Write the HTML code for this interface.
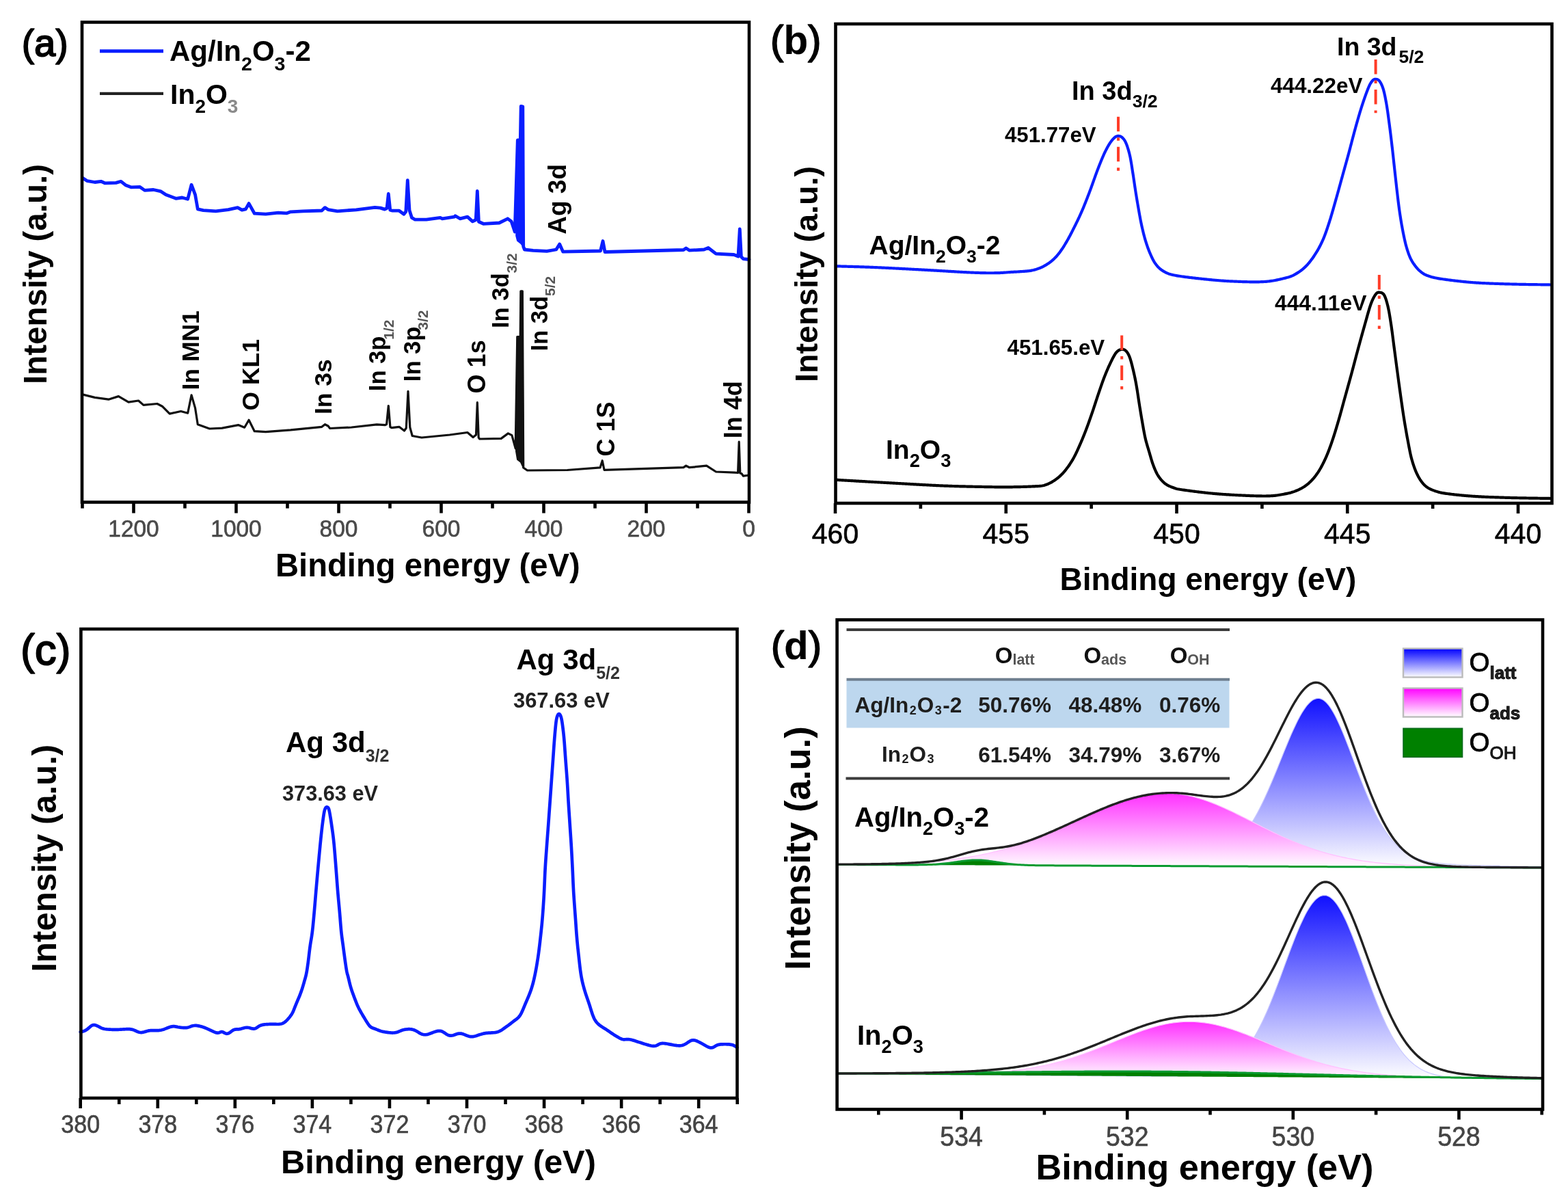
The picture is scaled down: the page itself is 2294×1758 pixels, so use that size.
<!DOCTYPE html>
<html><head><meta charset="utf-8"><title>XPS spectra</title>
<style>html,body{margin:0;padding:0;background:#fff;width:2294px;height:1758px;overflow:hidden}svg{display:block}</style>
</head><body>
<svg xmlns="http://www.w3.org/2000/svg" width="2294" height="1758" viewBox="0 0 2294 1758" font-family="'Liberation Sans', Arial, sans-serif">
<defs>
<linearGradient id="gB" x1="0" y1="0" x2="0" y2="1"><stop offset="0" stop-color="#1010ff"/><stop offset="1" stop-color="#ffffff"/></linearGradient>
<linearGradient id="gM" x1="0" y1="0" x2="0" y2="1"><stop offset="0" stop-color="#ff30ff"/><stop offset="1" stop-color="#ffffff"/></linearGradient>
<linearGradient id="gBL" x1="0" y1="0" x2="0" y2="1"><stop offset="0" stop-color="#0000ff"/><stop offset="1" stop-color="#ffffff"/></linearGradient>
<linearGradient id="gML" x1="0" y1="0" x2="0" y2="1"><stop offset="0" stop-color="#ff00ff"/><stop offset="1" stop-color="#ffffff"/></linearGradient>
</defs>
<rect width="2294" height="1758" fill="#fff"/>
<text x="31.8" y="82" font-size="55.5" fill="#000" stroke-linejoin="round"><tspan stroke="#000" stroke-width="1.7">(</tspan><tspan stroke="#000" stroke-width="2.1">a</tspan><tspan stroke="#000" stroke-width="1.7">)</tspan></text>
<path d="M120.5 260.1 L127.8 264.7 L138.7 266.5 L147.8 265.3 L153.3 267.8 L169.7 267.4 L177 265.3 L184.3 271.1 L191.6 273.8 L204.4 273.3 L211.7 278.4 L224.5 277.5 L235.4 279.9 L242.7 284.8 L257.3 290.3 L266.5 289 L274.7 291.2 L280.1 270.2 L285.6 284.8 L289.3 305.8 L297.5 307.6 L315.7 308.9 L334 306.7 L347.7 303.6 L354 307.2 L359.5 305.8 L364.1 297.6 L372.3 312.2 L388.7 313.1 L407 311.2 L419.7 311.8 L425.2 309.8 L443.5 308.9 L470.8 308 L475.4 303.6 L480 306.6 L493.7 308.8 L521.1 306.8 L548.4 303.4 L556.6 304.1 L562.8 306.1 L566 304.5 L568.3 283.5 L570.8 307.2 L574.4 308.2 L584 308.2 L590.9 313.2 L593.8 309.5 L596.3 263.7 L599 307.5 L602.5 318.4 L607.3 321.2 L623.7 321.2 L644.2 318.4 L647 319.8 L664.8 317.1 L666.1 315.7 L673 319.8 L683.9 317.1 L691.4 323.9 L696.2 321.5 L698.3 279.4 L700.4 324.2 L707.2 327.3 L730.4 326 L742.8 319.8 L748.2 323.9 L753.2 339 L757.3 205 L761.3 204.5 L762.2 155.5 L764.8 155.8 L765.7 360.7 L767.4 365 L780 366.3 L800 367.3 L813.7 365 L818.7 357 L823.7 368.2 L878.5 367 L882 352.5 L885 368.5 L1000 365.5 L1003.7 363 L1008.7 366.2 L1030 365 L1036.2 362.5 L1047.5 371.2 L1073.7 372.5 L1080 375 L1082.3 335 L1084.4 375.5 L1087.5 378.7 L1096 379.5" fill="none" stroke="#0a1eff" stroke-width="4.8" stroke-linejoin="round" stroke-linecap="round"/>
<path d="M755.2 345 L757.3 205 L761.3 204.5 L762.2 155.5 L764.8 155.8 L765.7 360.7 L762 356 L757 352 Z" fill="#0a1eff" stroke="#0a1eff" stroke-width="2"/>
<path d="M120.5 576.9 L138.7 581.4 L158.8 584.2 L173.4 579.6 L188 588.2 L202.6 586 L209.9 592.4 L230 590.5 L237.3 594.2 L248.2 605.1 L264.6 601.5 L274.7 604.2 L280.1 577.8 L285.6 596.9 L289.3 620.7 L306.6 627 L324.9 626.1 L348.6 621.6 L357.7 625.2 L364.1 614.3 L372.3 630.7 L388.7 631.6 L425.2 628.9 L470.8 624.3 L475.4 620.7 L480 623 L482.7 626.5 L514.2 625 L551.2 620.9 L563.5 621.6 L565.6 620.5 L568.3 593.5 L570.9 624.5 L573 625.7 L584 624.3 L591.5 630 L594.3 626 L597 572.3 L599.8 625 L603.2 637.5 L616.9 640 L657.9 636 L683.9 632.5 L692.1 639.5 L696.5 636 L698.3 588.7 L700.2 640 L701.7 642 L733.2 641.4 L743.4 633.9 L748.9 636.6 L754.2 655.8 L756.8 492.5 L761.2 492.5 L761.9 425.9 L764.3 425.9 L765.7 684 L771.5 688 L830 687.5 L878 683.9 L881.2 673.7 L884 687.3 L1000 683.7 L1003.7 681.2 L1008.7 683.7 L1033.7 681.2 L1047.5 690 L1075 691.2 L1079.6 691.5 L1081.2 646.2 L1082.8 692 L1085 692.8 L1087.5 696.2 L1096 695" fill="none" stroke="#111" stroke-width="3.2" stroke-linejoin="round" stroke-linecap="round"/>
<path d="M755 660 L756.8 492.5 L761.2 492.5 L761.9 425.9 L764.3 425.9 L765.7 684 L762 676 L757 672 Z" fill="#111" stroke="#111" stroke-width="2"/>
<rect x="120" y="32.5" width="976" height="702" stroke="#000" stroke-width="4.6" fill="none" stroke-linejoin="miter"/>
<line x1="1095.5" y1="734.5" x2="1095.5" y2="750.5" stroke="#000" stroke-width="4.6" stroke-linecap="butt"/>
<line x1="945.5" y1="734.5" x2="945.5" y2="750.5" stroke="#000" stroke-width="4.6" stroke-linecap="butt"/>
<line x1="795.5" y1="734.5" x2="795.5" y2="750.5" stroke="#000" stroke-width="4.6" stroke-linecap="butt"/>
<line x1="645.5" y1="734.5" x2="645.5" y2="750.5" stroke="#000" stroke-width="4.6" stroke-linecap="butt"/>
<line x1="495.5" y1="734.5" x2="495.5" y2="750.5" stroke="#000" stroke-width="4.6" stroke-linecap="butt"/>
<line x1="345.5" y1="734.5" x2="345.5" y2="750.5" stroke="#000" stroke-width="4.6" stroke-linecap="butt"/>
<line x1="195.5" y1="734.5" x2="195.5" y2="750.5" stroke="#000" stroke-width="4.6" stroke-linecap="butt"/>
<line x1="1020.5" y1="734.5" x2="1020.5" y2="743.5" stroke="#000" stroke-width="4.6" stroke-linecap="butt"/>
<line x1="870.5" y1="734.5" x2="870.5" y2="743.5" stroke="#000" stroke-width="4.6" stroke-linecap="butt"/>
<line x1="720.5" y1="734.5" x2="720.5" y2="743.5" stroke="#000" stroke-width="4.6" stroke-linecap="butt"/>
<line x1="570.5" y1="734.5" x2="570.5" y2="743.5" stroke="#000" stroke-width="4.6" stroke-linecap="butt"/>
<line x1="420.5" y1="734.5" x2="420.5" y2="743.5" stroke="#000" stroke-width="4.6" stroke-linecap="butt"/>
<line x1="270.5" y1="734.5" x2="270.5" y2="743.5" stroke="#000" stroke-width="4.6" stroke-linecap="butt"/>
<line x1="120.5" y1="734.5" x2="120.5" y2="743.5" stroke="#000" stroke-width="4.6" stroke-linecap="butt"/>
<text transform="translate(1095.5 785) scale(1 1.06)" font-size="33.5" fill="#4a4a4a" stroke="#4a4a4a" stroke-width="0.6" text-anchor="middle">0</text>
<text transform="translate(945.5 785) scale(1 1.06)" font-size="33.5" fill="#4a4a4a" stroke="#4a4a4a" stroke-width="0.6" text-anchor="middle">200</text>
<text transform="translate(795.5 785) scale(1 1.06)" font-size="33.5" fill="#4a4a4a" stroke="#4a4a4a" stroke-width="0.6" text-anchor="middle">400</text>
<text transform="translate(645.5 785) scale(1 1.06)" font-size="33.5" fill="#4a4a4a" stroke="#4a4a4a" stroke-width="0.6" text-anchor="middle">600</text>
<text transform="translate(495.5 785) scale(1 1.06)" font-size="33.5" fill="#4a4a4a" stroke="#4a4a4a" stroke-width="0.6" text-anchor="middle">800</text>
<text transform="translate(345.5 785) scale(1 1.06)" font-size="33.5" fill="#4a4a4a" stroke="#4a4a4a" stroke-width="0.6" text-anchor="middle">1000</text>
<text transform="translate(195.5 785) scale(1 1.06)" font-size="33.5" fill="#4a4a4a" stroke="#4a4a4a" stroke-width="0.6" text-anchor="middle">1200</text>
<text x="403" y="843.4" font-size="47.2" font-weight="bold" fill="#000" text-anchor="start"><tspan>Binding energy (eV)</tspan></text>
<text x="0" y="0" transform="translate(68 401) rotate(-90)" font-size="47.5" font-weight="bold" fill="#000" text-anchor="middle"><tspan>Intensity (a.u.)</tspan></text>
<line x1="146" y1="74.8" x2="239" y2="74.8" stroke="#0a1eff" stroke-width="5"/>
<line x1="146" y1="136.9" x2="239" y2="136.9" stroke="#222" stroke-width="4.2"/>
<text x="248" y="89.4" font-size="42" font-weight="bold" fill="#000" text-anchor="start"><tspan>Ag/In</tspan><tspan font-size="28.56" dy="13.5">2</tspan><tspan dy="-13.5">O</tspan><tspan font-size="28.56" dy="13.5">3</tspan><tspan dy="-13.5">-2</tspan></text>
<text x="249" y="151.5" font-size="41" font-weight="bold" fill="#000" text-anchor="start"><tspan>In</tspan><tspan font-size="27.88" dy="13.5">2</tspan><tspan dy="-13.5">O</tspan><tspan font-size="28" dy="13.5" fill="#8a8a8a">3</tspan></text>
<text x="0" y="0" transform="translate(291 570.5) rotate(-90)" font-size="35.5" font-weight="bold" fill="#000" text-anchor="start"><tspan>In MN1</tspan></text>
<text x="0" y="0" transform="translate(378.7 600.6) rotate(-90)" font-size="35.5" font-weight="bold" fill="#000" text-anchor="start"><tspan>O KL1</tspan></text>
<text x="0" y="0" transform="translate(485.4 606.1) rotate(-90)" font-size="35.5" font-weight="bold" fill="#000" text-anchor="start"><tspan>In 3s</tspan></text>
<text x="0" y="0" transform="translate(564.3 572.2) rotate(-90)" font-size="34.5" font-weight="bold" fill="#000" text-anchor="start"><tspan>In 3p</tspan><tspan font-size="21" dy="11.5" fill="#555" dx="-5">1/2</tspan></text>
<text x="0" y="0" transform="translate(614.8 558.2) rotate(-90)" font-size="34.5" font-weight="bold" fill="#000" text-anchor="start"><tspan>In 3p</tspan><tspan font-size="21" dy="11.5" fill="#555" dx="-5">3/2</tspan></text>
<text x="0" y="0" transform="translate(710 575.4) rotate(-90)" font-size="36" font-weight="bold" fill="#000" text-anchor="start"><tspan>O 1s</tspan></text>
<text x="0" y="0" transform="translate(744 480) rotate(-90)" font-size="34.5" font-weight="bold" fill="#000" text-anchor="start"><tspan>In 3d</tspan><tspan font-size="21" dy="11.5" fill="#555">3/2</tspan></text>
<text x="0" y="0" transform="translate(800.5 513.5) rotate(-90)" font-size="34.5" font-weight="bold" fill="#000" text-anchor="start"><tspan>In 3d</tspan><tspan font-size="21" dy="11.5" fill="#555">5/2</tspan></text>
<text x="0" y="0" transform="translate(828.2 342.8) rotate(-90)" font-size="37" font-weight="bold" fill="#000" text-anchor="start"><tspan>Ag 3d</tspan></text>
<text x="0" y="0" transform="translate(898.7 667.5) rotate(-90)" font-size="36" font-weight="bold" fill="#000" text-anchor="start"><tspan>C 1S</tspan></text>
<text x="0" y="0" transform="translate(1085 641.2) rotate(-90)" font-size="36" font-weight="bold" fill="#000" text-anchor="start"><tspan>In 4d</tspan></text>
<text x="1127" y="78.9" font-size="58.3" fill="#000" stroke-linejoin="round"><tspan stroke="#000" stroke-width="1.7">(</tspan><tspan font-weight="bold" stroke="#000" stroke-width="0.2">b</tspan><tspan stroke="#000" stroke-width="1.7">)</tspan></text>
<path d="M1223 389.3 L1224.62 389.35 L1226.01 389.39 L1227.5 389.43 L1229 389.47 L1230.5 389.51 L1232 389.54 L1233.5 389.58 L1235 389.62 L1236.5 389.66 L1237.99 389.7 L1239.49 389.74 L1240.99 389.78 L1242.49 389.82 L1243.99 389.86 L1245.49 389.9 L1246.99 389.94 L1248.49 389.99 L1249.99 390.03 L1251.49 390.07 L1252.99 390.12 L1254.49 390.16 L1255.99 390.21 L1257.49 390.25 L1258.99 390.3 L1260.49 390.35 L1261.98 390.39 L1263.48 390.44 L1264.98 390.49 L1266.48 390.54 L1267.98 390.6 L1269.48 390.65 L1270.98 390.7 L1272.48 390.76 L1273.98 390.82 L1275.48 390.88 L1276.98 390.94 L1278.47 391 L1279.97 391.06 L1281.47 391.12 L1282.97 391.19 L1284.47 391.25 L1285.97 391.32 L1287.47 391.39 L1288.96 391.46 L1290.46 391.53 L1291.96 391.6 L1293.46 391.67 L1294.96 391.74 L1296.46 391.81 L1297.95 391.88 L1299.45 391.96 L1300.95 392.03 L1302.45 392.11 L1303.95 392.18 L1305.44 392.26 L1306.94 392.33 L1308.44 392.41 L1309.94 392.48 L1311.44 392.56 L1312.94 392.64 L1314.43 392.71 L1315.93 392.79 L1317.43 392.87 L1318.93 392.95 L1320.42 393.03 L1321.92 393.11 L1323.42 393.18 L1324.92 393.26 L1326.42 393.34 L1327.91 393.42 L1329.41 393.5 L1330.91 393.58 L1332.41 393.66 L1333.91 393.74 L1335.4 393.82 L1336.9 393.9 L1338.4 393.98 L1339.9 394.06 L1341.4 394.14 L1342.89 394.22 L1344.39 394.3 L1345.89 394.38 L1347.39 394.46 L1348.88 394.54 L1350.38 394.62 L1351.88 394.7 L1353.38 394.78 L1354.88 394.87 L1356.37 394.95 L1357.87 395.03 L1359.37 395.12 L1360.87 395.2 L1362.36 395.29 L1363.86 395.37 L1365.36 395.46 L1366.86 395.55 L1368.35 395.63 L1369.85 395.72 L1371.35 395.81 L1372.85 395.9 L1374.34 395.98 L1375.84 396.07 L1377.34 396.16 L1378.84 396.25 L1380.33 396.34 L1381.83 396.43 L1383.33 396.51 L1384.83 396.6 L1386.32 396.69 L1387.82 396.78 L1389.32 396.87 L1390.82 396.96 L1392.31 397.04 L1393.81 397.13 L1395.31 397.22 L1396.81 397.3 L1398.3 397.39 L1399.8 397.48 L1401.3 397.56 L1402.8 397.65 L1404.29 397.73 L1405.79 397.81 L1407.29 397.89 L1408.79 397.98 L1410.28 398.06 L1411.78 398.13 L1413.28 398.21 L1414.78 398.29 L1416.28 398.36 L1417.78 398.43 L1419.27 398.5 L1420.77 398.57 L1422.27 398.63 L1423.77 398.7 L1425.27 398.76 L1426.77 398.81 L1428.27 398.87 L1429.77 398.92 L1431.26 398.97 L1432.76 399.02 L1434.26 399.06 L1435.76 399.1 L1437.26 399.14 L1438.76 399.17 L1440.26 399.2 L1441.76 399.22 L1443.26 399.24 L1444.76 399.25 L1446.26 399.26 L1447.76 399.26 L1449.26 399.26 L1450.76 399.26 L1452.26 399.25 L1453.76 399.23 L1455.26 399.22 L1456.76 399.2 L1458.26 399.17 L1459.76 399.14 L1461.26 399.09 L1462.76 399.04 L1464.26 398.97 L1465.75 398.89 L1467.25 398.8 L1468.75 398.71 L1470.25 398.6 L1471.74 398.49 L1473.24 398.38 L1474.73 398.27 L1476.23 398.16 L1477.73 398.05 L1479.22 397.95 L1480.72 397.86 L1482.22 397.78 L1483.72 397.7 L1485.21 397.63 L1486.71 397.55 L1488.21 397.48 L1489.71 397.4 L1491.2 397.31 L1492.7 397.21 L1494.2 397.11 L1495.69 397 L1497.19 396.9 L1498.69 396.81 L1500.18 396.7 L1501.68 396.59 L1503.17 396.45 L1504.66 396.29 L1506.15 396.09 L1507.63 395.86 L1509.11 395.58 L1510.57 395.28 L1512.04 394.95 L1513.49 394.59 L1514.94 394.2 L1516.38 393.79 L1517.81 393.34 L1519.23 392.85 L1520.63 392.32 L1522.02 391.76 L1523.39 391.15 L1524.75 390.51 L1526.09 389.84 L1527.42 389.14 L1528.73 388.42 L1530.03 387.67 L1531.31 386.89 L1532.58 386.08 L1533.83 385.25 L1535.06 384.4 L1536.27 383.51 L1537.46 382.6 L1538.62 381.65 L1539.77 380.69 L1540.89 379.69 L1541.99 378.67 L1543.06 377.62 L1544.11 376.55 L1545.13 375.45 L1546.13 374.33 L1547.11 373.2 L1548.06 372.04 L1549 370.87 L1549.92 369.68 L1550.81 368.48 L1551.69 367.27 L1552.56 366.04 L1553.4 364.8 L1554.24 363.56 L1555.06 362.3 L1555.87 361.04 L1556.67 359.77 L1557.46 358.5 L1558.24 357.22 L1559.02 355.93 L1559.79 354.64 L1560.55 353.35 L1561.3 352.05 L1562.04 350.75 L1562.77 349.44 L1563.5 348.13 L1564.21 346.81 L1564.93 345.49 L1565.63 344.16 L1566.33 342.84 L1567.02 341.51 L1567.71 340.17 L1568.39 338.84 L1569.08 337.5 L1569.75 336.16 L1570.43 334.83 L1571.1 333.49 L1571.78 332.14 L1572.45 330.8 L1573.12 329.46 L1573.78 328.12 L1574.44 326.77 L1575.1 325.42 L1575.76 324.07 L1576.41 322.72 L1577.06 321.37 L1577.71 320.02 L1578.35 318.66 L1578.98 317.3 L1579.61 315.94 L1580.24 314.58 L1580.86 313.21 L1581.47 311.84 L1582.08 310.47 L1582.68 309.1 L1583.27 307.72 L1583.86 306.34 L1584.45 304.96 L1585.03 303.57 L1585.6 302.19 L1586.17 300.8 L1586.74 299.41 L1587.3 298.02 L1587.85 296.63 L1588.41 295.23 L1588.96 293.84 L1589.51 292.44 L1590.06 291.05 L1590.6 289.65 L1591.14 288.25 L1591.68 286.85 L1592.22 285.45 L1592.76 284.05 L1593.29 282.65 L1593.82 281.25 L1594.36 279.84 L1594.88 278.44 L1595.41 277.03 L1595.93 275.63 L1596.44 274.22 L1596.95 272.81 L1597.46 271.4 L1597.97 269.98 L1598.47 268.57 L1598.98 267.16 L1599.48 265.75 L1599.98 264.33 L1600.48 262.92 L1600.99 261.51 L1601.49 260.09 L1601.99 258.68 L1602.5 257.27 L1603.01 255.86 L1603.52 254.45 L1604.04 253.04 L1604.56 251.63 L1605.09 250.23 L1605.62 248.83 L1606.15 247.42 L1606.69 246.03 L1607.24 244.63 L1607.78 243.23 L1608.33 241.83 L1608.88 240.44 L1609.44 239.04 L1609.99 237.65 L1610.56 236.26 L1611.12 234.87 L1611.7 233.49 L1612.27 232.1 L1612.86 230.72 L1613.45 229.34 L1614.05 227.97 L1614.66 226.6 L1615.28 225.23 L1615.91 223.87 L1616.55 222.51 L1617.21 221.17 L1617.88 219.82 L1618.56 218.49 L1619.26 217.16 L1619.97 215.84 L1620.7 214.53 L1621.45 213.23 L1622.21 211.94 L1623 210.66 L1623.8 209.39 L1624.63 208.15 L1625.5 206.92 L1626.4 205.72 L1627.34 204.56 L1628.34 203.44 L1629.38 202.37 L1630.48 201.35 L1631.65 200.42 L1632.91 199.66 L1634.28 199.14 L1635.73 198.92 L1637.21 198.96 L1638.65 199.26 L1639.99 199.84 L1641.22 200.66 L1642.34 201.65 L1643.37 202.73 L1644.33 203.88 L1645.19 205.1 L1645.96 206.38 L1646.65 207.71 L1647.27 209.07 L1647.85 210.46 L1648.38 211.86 L1648.9 213.27 L1649.38 214.69 L1649.85 216.11 L1650.3 217.54 L1650.74 218.98 L1651.16 220.42 L1651.56 221.86 L1651.95 223.31 L1652.32 224.76 L1652.68 226.22 L1653.02 227.68 L1653.34 229.15 L1653.65 230.61 L1653.94 232.08 L1654.22 233.56 L1654.48 235.04 L1654.74 236.51 L1654.99 237.99 L1655.23 239.47 L1655.47 240.95 L1655.7 242.44 L1655.93 243.92 L1656.16 245.4 L1656.39 246.88 L1656.62 248.36 L1656.85 249.85 L1657.09 251.33 L1657.32 252.81 L1657.55 254.29 L1657.78 255.77 L1658.01 257.26 L1658.23 258.74 L1658.45 260.22 L1658.67 261.71 L1658.89 263.19 L1659.11 264.68 L1659.32 266.16 L1659.54 267.64 L1659.76 269.13 L1659.98 270.61 L1660.2 272.1 L1660.42 273.58 L1660.64 275.06 L1660.87 276.55 L1661.09 278.03 L1661.33 279.51 L1661.56 280.99 L1661.8 282.47 L1662.03 283.96 L1662.27 285.44 L1662.51 286.92 L1662.75 288.4 L1663 289.88 L1663.24 291.36 L1663.49 292.84 L1663.74 294.32 L1663.99 295.8 L1664.24 297.27 L1664.49 298.75 L1664.75 300.23 L1665 301.71 L1665.26 303.19 L1665.52 304.66 L1665.78 306.14 L1666.04 307.62 L1666.3 309.1 L1666.56 310.57 L1666.82 312.05 L1667.08 313.53 L1667.34 315 L1667.61 316.48 L1667.88 317.96 L1668.15 319.43 L1668.43 320.9 L1668.72 322.38 L1669.01 323.85 L1669.31 325.32 L1669.62 326.79 L1669.93 328.25 L1670.25 329.72 L1670.57 331.18 L1670.9 332.65 L1671.23 334.11 L1671.57 335.57 L1671.91 337.03 L1672.26 338.49 L1672.62 339.95 L1672.98 341.4 L1673.35 342.86 L1673.72 344.31 L1674.11 345.76 L1674.5 347.21 L1674.91 348.65 L1675.32 350.09 L1675.75 351.53 L1676.18 352.97 L1676.63 354.4 L1677.09 355.83 L1677.55 357.25 L1678.03 358.67 L1678.52 360.09 L1679.01 361.51 L1679.52 362.92 L1680.04 364.33 L1680.58 365.73 L1681.13 367.12 L1681.69 368.52 L1682.26 369.9 L1682.86 371.28 L1683.46 372.65 L1684.07 374.02 L1684.7 375.38 L1685.34 376.74 L1685.99 378.09 L1686.67 379.43 L1687.37 380.75 L1688.1 382.06 L1688.87 383.35 L1689.67 384.62 L1690.52 385.85 L1691.41 387.06 L1692.34 388.23 L1693.32 389.37 L1694.33 390.47 L1695.39 391.54 L1696.49 392.56 L1697.63 393.53 L1698.81 394.44 L1700.04 395.31 L1701.29 396.12 L1702.58 396.89 L1703.89 397.63 L1705.21 398.33 L1706.55 399 L1707.92 399.61 L1709.31 400.17 L1710.73 400.67 L1712.16 401.11 L1713.6 401.5 L1715.06 401.86 L1716.52 402.19 L1717.99 402.5 L1719.46 402.79 L1720.94 403.06 L1722.42 403.32 L1723.89 403.56 L1725.38 403.8 L1726.86 404.03 L1728.34 404.25 L1729.83 404.46 L1731.31 404.67 L1732.8 404.87 L1734.29 405.07 L1735.77 405.26 L1737.26 405.45 L1738.75 405.64 L1740.24 405.82 L1741.73 406 L1743.22 406.18 L1744.71 406.36 L1746.2 406.53 L1747.69 406.7 L1749.18 406.87 L1750.67 407.04 L1752.16 407.2 L1753.65 407.36 L1755.14 407.53 L1756.63 407.69 L1758.12 407.84 L1759.62 408 L1761.11 408.16 L1762.6 408.31 L1764.09 408.46 L1765.59 408.61 L1767.08 408.76 L1768.57 408.91 L1770.06 409.05 L1771.56 409.19 L1773.05 409.33 L1774.54 409.47 L1776.04 409.61 L1777.53 409.74 L1779.03 409.87 L1780.52 410 L1782.02 410.12 L1783.51 410.24 L1785.01 410.36 L1786.5 410.47 L1788 410.58 L1789.49 410.68 L1790.99 410.79 L1792.49 410.88 L1793.99 410.98 L1795.48 411.07 L1796.98 411.15 L1798.48 411.23 L1799.98 411.31 L1801.47 411.38 L1802.97 411.45 L1804.47 411.52 L1805.97 411.58 L1807.47 411.64 L1808.97 411.7 L1810.47 411.76 L1811.97 411.82 L1813.46 411.87 L1814.96 411.93 L1816.46 411.98 L1817.96 412.03 L1819.46 412.07 L1820.96 412.12 L1822.46 412.16 L1823.96 412.2 L1825.46 412.23 L1826.96 412.26 L1828.46 412.29 L1829.96 412.31 L1831.46 412.33 L1832.96 412.34 L1834.46 412.35 L1835.96 412.36 L1837.46 412.35 L1838.96 412.34 L1840.46 412.32 L1841.96 412.3 L1843.46 412.27 L1844.96 412.22 L1846.46 412.17 L1847.95 412.1 L1849.45 412.02 L1850.95 411.92 L1852.44 411.8 L1853.94 411.67 L1855.43 411.51 L1856.92 411.34 L1858.41 411.15 L1859.89 410.94 L1861.38 410.72 L1862.86 410.48 L1864.33 410.22 L1865.81 409.94 L1867.28 409.65 L1868.75 409.35 L1870.21 409.03 L1871.68 408.71 L1873.14 408.37 L1874.6 408.02 L1876.06 407.67 L1877.51 407.31 L1878.97 406.95 L1880.43 406.59 L1881.88 406.22 L1883.33 405.84 L1884.77 405.44 L1886.21 405 L1887.63 404.53 L1889.03 404 L1890.42 403.42 L1891.78 402.79 L1893.12 402.12 L1894.44 401.41 L1895.74 400.67 L1897.03 399.91 L1898.31 399.12 L1899.57 398.31 L1900.82 397.47 L1902.04 396.61 L1903.25 395.73 L1904.44 394.81 L1905.62 393.88 L1906.77 392.92 L1907.9 391.93 L1909 390.92 L1910.08 389.88 L1911.14 388.82 L1912.18 387.73 L1913.19 386.62 L1914.17 385.49 L1915.14 384.35 L1916.09 383.18 L1917.02 382.01 L1917.93 380.82 L1918.83 379.61 L1919.71 378.4 L1920.57 377.18 L1921.43 375.94 L1922.27 374.7 L1923.1 373.45 L1923.92 372.2 L1924.73 370.93 L1925.53 369.66 L1926.31 368.39 L1927.09 367.1 L1927.85 365.81 L1928.59 364.51 L1929.33 363.2 L1930.05 361.88 L1930.76 360.56 L1931.45 359.23 L1932.13 357.9 L1932.8 356.55 L1933.45 355.2 L1934.08 353.84 L1934.71 352.48 L1935.32 351.11 L1935.91 349.73 L1936.49 348.35 L1937.06 346.96 L1937.61 345.56 L1938.15 344.16 L1938.68 342.76 L1939.2 341.35 L1939.71 339.94 L1940.21 338.53 L1940.71 337.11 L1941.2 335.7 L1941.68 334.28 L1942.16 332.85 L1942.63 331.43 L1943.1 330.01 L1943.57 328.58 L1944.03 327.16 L1944.5 325.73 L1944.96 324.3 L1945.41 322.87 L1945.86 321.44 L1946.31 320.01 L1946.75 318.57 L1947.18 317.14 L1947.61 315.7 L1948.04 314.26 L1948.46 312.82 L1948.89 311.39 L1949.3 309.94 L1949.72 308.5 L1950.14 307.06 L1950.55 305.62 L1950.96 304.18 L1951.37 302.73 L1951.78 301.29 L1952.19 299.85 L1952.6 298.41 L1953.01 296.96 L1953.41 295.52 L1953.82 294.08 L1954.23 292.63 L1954.64 291.19 L1955.05 289.75 L1955.46 288.3 L1955.86 286.86 L1956.27 285.41 L1956.67 283.97 L1957.07 282.52 L1957.47 281.08 L1957.87 279.63 L1958.27 278.19 L1958.67 276.74 L1959.07 275.29 L1959.47 273.85 L1959.87 272.4 L1960.26 270.96 L1960.66 269.51 L1961.06 268.06 L1961.45 266.62 L1961.85 265.17 L1962.25 263.72 L1962.65 262.28 L1963.05 260.83 L1963.45 259.39 L1963.85 257.94 L1964.25 256.49 L1964.65 255.05 L1965.05 253.6 L1965.45 252.16 L1965.85 250.71 L1966.26 249.27 L1966.66 247.82 L1967.06 246.38 L1967.47 244.93 L1967.87 243.49 L1968.27 242.04 L1968.67 240.6 L1969.08 239.15 L1969.48 237.71 L1969.88 236.26 L1970.28 234.82 L1970.68 233.37 L1971.08 231.93 L1971.48 230.48 L1971.87 229.03 L1972.27 227.59 L1972.66 226.14 L1973.06 224.69 L1973.45 223.24 L1973.84 221.8 L1974.23 220.35 L1974.61 218.9 L1975 217.45 L1975.38 216 L1975.76 214.55 L1976.14 213.09 L1976.52 211.64 L1976.9 210.19 L1977.28 208.74 L1977.66 207.29 L1978.03 205.84 L1978.41 204.39 L1978.79 202.93 L1979.17 201.48 L1979.55 200.03 L1979.94 198.58 L1980.32 197.13 L1980.71 195.68 L1981.09 194.23 L1981.48 192.79 L1981.88 191.34 L1982.27 189.89 L1982.67 188.44 L1983.07 187 L1983.47 185.55 L1983.87 184.11 L1984.28 182.66 L1984.68 181.22 L1985.09 179.78 L1985.5 178.33 L1985.91 176.89 L1986.32 175.45 L1986.73 174.01 L1987.15 172.56 L1987.56 171.12 L1987.98 169.68 L1988.41 168.24 L1988.83 166.8 L1989.26 165.37 L1989.69 163.93 L1990.12 162.49 L1990.56 161.06 L1991.01 159.63 L1991.45 158.2 L1991.9 156.76 L1992.36 155.34 L1992.82 153.91 L1993.29 152.48 L1993.76 151.06 L1994.23 149.64 L1994.71 148.21 L1995.2 146.79 L1995.69 145.38 L1996.18 143.96 L1996.67 142.54 L1997.17 141.13 L1997.68 139.72 L1998.19 138.31 L1998.7 136.9 L1999.23 135.49 L1999.75 134.09 L2000.29 132.69 L2000.83 131.29 L2001.38 129.89 L2001.95 128.51 L2002.54 127.12 L2003.15 125.75 L2003.79 124.4 L2004.47 123.06 L2005.21 121.76 L2006.01 120.5 L2006.88 119.28 L2007.84 118.13 L2008.9 117.11 L2010.12 116.31 L2011.49 115.86 L2012.95 115.75 L2014.39 115.96 L2015.75 116.48 L2016.96 117.29 L2018 118.34 L2018.91 119.53 L2019.71 120.79 L2020.44 122.1 L2021.11 123.44 L2021.73 124.8 L2022.3 126.19 L2022.82 127.59 L2023.31 129.01 L2023.76 130.44 L2024.18 131.88 L2024.57 133.33 L2024.93 134.78 L2025.28 136.24 L2025.61 137.71 L2025.93 139.17 L2026.24 140.64 L2026.54 142.11 L2026.83 143.58 L2027.11 145.06 L2027.39 146.53 L2027.66 148 L2027.92 149.48 L2028.19 150.96 L2028.45 152.43 L2028.7 153.91 L2028.95 155.39 L2029.19 156.87 L2029.42 158.35 L2029.65 159.84 L2029.87 161.32 L2030.09 162.81 L2030.3 164.29 L2030.51 165.78 L2030.71 167.26 L2030.91 168.75 L2031.11 170.24 L2031.31 171.72 L2031.5 173.21 L2031.7 174.7 L2031.9 176.18 L2032.09 177.67 L2032.29 179.16 L2032.49 180.65 L2032.68 182.13 L2032.88 183.62 L2033.07 185.11 L2033.26 186.59 L2033.45 188.08 L2033.64 189.57 L2033.83 191.06 L2034.02 192.55 L2034.21 194.03 L2034.39 195.52 L2034.58 197.01 L2034.76 198.5 L2034.94 199.99 L2035.12 201.48 L2035.3 202.97 L2035.48 204.46 L2035.66 205.95 L2035.84 207.44 L2036.01 208.93 L2036.19 210.42 L2036.36 211.91 L2036.53 213.4 L2036.71 214.89 L2036.88 216.38 L2037.04 217.87 L2037.21 219.36 L2037.38 220.85 L2037.54 222.34 L2037.71 223.83 L2037.87 225.32 L2038.03 226.81 L2038.2 228.3 L2038.36 229.79 L2038.52 231.29 L2038.68 232.78 L2038.85 234.27 L2039.01 235.76 L2039.17 237.25 L2039.33 238.74 L2039.5 240.23 L2039.66 241.72 L2039.83 243.21 L2039.99 244.71 L2040.15 246.2 L2040.32 247.69 L2040.48 249.18 L2040.65 250.67 L2040.81 252.16 L2040.97 253.65 L2041.14 255.14 L2041.3 256.63 L2041.46 258.13 L2041.62 259.62 L2041.79 261.11 L2041.95 262.6 L2042.11 264.09 L2042.28 265.58 L2042.44 267.07 L2042.61 268.56 L2042.78 270.05 L2042.94 271.54 L2043.11 273.03 L2043.28 274.52 L2043.45 276.01 L2043.63 277.5 L2043.8 278.99 L2043.97 280.48 L2044.15 281.97 L2044.32 283.46 L2044.5 284.95 L2044.67 286.44 L2044.84 287.93 L2045.02 289.42 L2045.2 290.91 L2045.37 292.4 L2045.55 293.89 L2045.73 295.38 L2045.92 296.87 L2046.1 298.36 L2046.29 299.85 L2046.48 301.33 L2046.68 302.82 L2046.88 304.31 L2047.08 305.79 L2047.29 307.28 L2047.5 308.77 L2047.71 310.25 L2047.93 311.73 L2048.15 313.22 L2048.38 314.7 L2048.6 316.18 L2048.83 317.67 L2049.07 319.15 L2049.31 320.63 L2049.55 322.11 L2049.79 323.59 L2050.04 325.07 L2050.29 326.55 L2050.54 328.03 L2050.8 329.5 L2051.07 330.98 L2051.33 332.46 L2051.61 333.93 L2051.88 335.4 L2052.17 336.88 L2052.45 338.35 L2052.74 339.82 L2053.03 341.29 L2053.33 342.76 L2053.62 344.23 L2053.93 345.7 L2054.23 347.17 L2054.54 348.64 L2054.86 350.11 L2055.19 351.57 L2055.52 353.03 L2055.86 354.49 L2056.22 355.95 L2056.58 357.4 L2056.96 358.86 L2057.36 360.3 L2057.77 361.75 L2058.2 363.18 L2058.63 364.62 L2059.08 366.05 L2059.54 367.48 L2060.02 368.9 L2060.51 370.32 L2061.02 371.73 L2061.55 373.13 L2062.11 374.52 L2062.69 375.9 L2063.31 377.27 L2063.96 378.62 L2064.65 379.95 L2065.37 381.27 L2066.12 382.56 L2066.91 383.84 L2067.72 385.1 L2068.56 386.34 L2069.43 387.56 L2070.33 388.77 L2071.25 389.95 L2072.2 391.11 L2073.18 392.24 L2074.19 393.35 L2075.23 394.43 L2076.31 395.47 L2077.42 396.48 L2078.57 397.44 L2079.75 398.37 L2080.96 399.25 L2082.21 400.08 L2083.49 400.85 L2084.81 401.56 L2086.16 402.21 L2087.54 402.8 L2088.93 403.35 L2090.35 403.85 L2091.77 404.31 L2093.21 404.75 L2094.65 405.16 L2096.1 405.54 L2097.56 405.89 L2099.02 406.22 L2100.49 406.52 L2101.96 406.81 L2103.44 407.08 L2104.91 407.34 L2106.39 407.58 L2107.88 407.81 L2109.36 408.04 L2110.84 408.25 L2112.33 408.46 L2113.81 408.67 L2115.3 408.87 L2116.79 409.07 L2118.27 409.27 L2119.76 409.47 L2121.25 409.66 L2122.74 409.85 L2124.22 410.04 L2125.71 410.23 L2127.2 410.41 L2128.69 410.59 L2130.18 410.77 L2131.67 410.94 L2133.16 411.11 L2134.65 411.28 L2136.14 411.44 L2137.63 411.6 L2139.13 411.75 L2140.62 411.91 L2142.11 412.06 L2143.6 412.2 L2145.1 412.34 L2146.59 412.48 L2148.09 412.61 L2149.58 412.74 L2151.07 412.87 L2152.57 412.99 L2154.07 413.1 L2155.56 413.22 L2157.06 413.33 L2158.55 413.43 L2160.05 413.53 L2161.55 413.63 L2163.04 413.72 L2164.54 413.81 L2166.04 413.89 L2167.54 413.98 L2169.03 414.05 L2170.53 414.13 L2172.03 414.2 L2173.53 414.27 L2175.03 414.34 L2176.53 414.41 L2178.02 414.47 L2179.52 414.53 L2181.02 414.59 L2182.52 414.65 L2184.02 414.7 L2185.52 414.76 L2187.02 414.81 L2188.52 414.86 L2190.02 414.91 L2191.52 414.96 L2193.02 415.01 L2194.51 415.05 L2196.01 415.1 L2197.51 415.15 L2199.01 415.19 L2200.51 415.23 L2202.01 415.28 L2203.51 415.32 L2205.01 415.36 L2206.51 415.4 L2208.01 415.44 L2209.51 415.49 L2211.01 415.52 L2212.51 415.56 L2214.01 415.6 L2215.51 415.64 L2217.01 415.67 L2218.51 415.7 L2220.01 415.73 L2221.51 415.76 L2223.01 415.79 L2224.5 415.82 L2226 415.85 L2227.5 415.88 L2229 415.91 L2230.5 415.93 L2232 415.96 L2233.5 415.98 L2235 416.01 L2236.5 416.03 L2238 416.05 L2239.5 416.08 L2241 416.1 L2242.5 416.12 L2244 416.14 L2245.5 416.17 L2247 416.19 L2248.5 416.21 L2250 416.23 L2251.5 416.25 L2253 416.27 L2254.5 416.29 L2256 416.31 L2257.5 416.33 L2259 416.35 L2260.5 416.38 L2262 416.4 L2263.5 416.42 L2265 416.44 L2266.47 416.46 L2269 416.5" fill="none" stroke="#0a1eff" stroke-width="4.2" stroke-linejoin="round" stroke-linecap="round"/>
<path d="M1223 701.8 L1224.62 701.89 L1226.01 701.97 L1227.49 702.06 L1228.99 702.14 L1230.49 702.23 L1231.99 702.32 L1233.48 702.4 L1234.98 702.49 L1236.48 702.58 L1237.98 702.66 L1239.48 702.75 L1240.97 702.84 L1242.47 702.92 L1243.97 703.01 L1245.47 703.1 L1246.96 703.18 L1248.46 703.27 L1249.96 703.36 L1251.46 703.44 L1252.96 703.53 L1254.45 703.62 L1255.95 703.7 L1257.45 703.79 L1258.95 703.88 L1260.44 703.96 L1261.94 704.05 L1263.44 704.14 L1264.94 704.22 L1266.44 704.31 L1267.93 704.39 L1269.43 704.48 L1270.93 704.57 L1272.43 704.65 L1273.93 704.74 L1275.42 704.82 L1276.92 704.91 L1278.42 705 L1279.92 705.08 L1281.41 705.17 L1282.91 705.25 L1284.41 705.34 L1285.91 705.42 L1287.41 705.51 L1288.9 705.59 L1290.4 705.68 L1291.9 705.76 L1293.4 705.85 L1294.9 705.93 L1296.39 706.02 L1297.89 706.1 L1299.39 706.19 L1300.89 706.27 L1302.38 706.36 L1303.88 706.44 L1305.38 706.52 L1306.88 706.61 L1308.38 706.69 L1309.87 706.77 L1311.37 706.85 L1312.87 706.94 L1314.37 707.02 L1315.87 707.1 L1317.36 707.19 L1318.86 707.27 L1320.36 707.35 L1321.86 707.44 L1323.36 707.52 L1324.85 707.6 L1326.35 707.69 L1327.85 707.77 L1329.35 707.86 L1330.85 707.94 L1332.34 708.03 L1333.84 708.11 L1335.34 708.2 L1336.84 708.28 L1338.34 708.36 L1339.83 708.45 L1341.33 708.53 L1342.83 708.62 L1344.33 708.7 L1345.83 708.78 L1347.32 708.87 L1348.82 708.95 L1350.32 709.03 L1351.82 709.11 L1353.32 709.19 L1354.81 709.27 L1356.31 709.35 L1357.81 709.43 L1359.31 709.51 L1360.81 709.59 L1362.31 709.66 L1363.8 709.74 L1365.3 709.81 L1366.8 709.89 L1368.3 709.96 L1369.8 710.03 L1371.3 710.1 L1372.8 710.17 L1374.29 710.23 L1375.79 710.3 L1377.29 710.36 L1378.79 710.43 L1380.29 710.49 L1381.79 710.55 L1383.29 710.6 L1384.79 710.66 L1386.29 710.72 L1387.79 710.77 L1389.28 710.82 L1390.78 710.88 L1392.28 710.93 L1393.78 710.98 L1395.28 711.02 L1396.78 711.07 L1398.28 711.11 L1399.78 711.16 L1401.28 711.2 L1402.78 711.24 L1404.28 711.28 L1405.78 711.32 L1407.28 711.36 L1408.78 711.4 L1410.28 711.44 L1411.78 711.47 L1413.28 711.51 L1414.78 711.55 L1416.28 711.58 L1417.78 711.61 L1419.28 711.65 L1420.78 711.68 L1422.28 711.71 L1423.78 711.74 L1425.28 711.77 L1426.78 711.8 L1428.28 711.83 L1429.78 711.86 L1431.28 711.89 L1432.78 711.92 L1434.28 711.94 L1435.78 711.97 L1437.28 712 L1438.78 712.02 L1440.28 712.05 L1441.78 712.07 L1443.28 712.1 L1444.78 712.12 L1446.28 712.14 L1447.78 712.17 L1449.28 712.19 L1450.78 712.21 L1452.28 712.23 L1453.78 712.26 L1455.28 712.28 L1456.78 712.3 L1458.28 712.31 L1459.78 712.33 L1461.28 712.35 L1462.78 712.36 L1464.28 712.37 L1465.78 712.38 L1467.28 712.38 L1468.78 712.39 L1470.28 712.38 L1471.78 712.38 L1473.28 712.37 L1474.78 712.36 L1476.28 712.34 L1477.78 712.33 L1479.28 712.3 L1480.78 712.28 L1482.28 712.25 L1483.78 712.22 L1485.28 712.19 L1486.78 712.16 L1488.28 712.13 L1489.78 712.1 L1491.28 712.08 L1492.78 712.05 L1494.28 712.02 L1495.78 711.99 L1497.28 711.95 L1498.78 711.91 L1500.28 711.87 L1501.78 711.82 L1503.28 711.77 L1504.78 711.71 L1506.28 711.65 L1507.78 711.58 L1509.28 711.51 L1510.78 711.43 L1512.27 711.36 L1513.77 711.29 L1515.27 711.22 L1516.77 711.16 L1518.27 711.09 L1519.77 711 L1521.26 710.88 L1522.75 710.73 L1524.24 710.53 L1525.72 710.27 L1527.18 709.94 L1528.62 709.54 L1530.05 709.09 L1531.46 708.57 L1532.84 708 L1534.21 707.39 L1535.56 706.73 L1536.89 706.04 L1538.21 705.32 L1539.51 704.57 L1540.79 703.8 L1542.06 703 L1543.31 702.17 L1544.54 701.32 L1545.75 700.43 L1546.94 699.51 L1548.11 698.57 L1549.25 697.6 L1550.38 696.61 L1551.48 695.6 L1552.57 694.56 L1553.63 693.5 L1554.67 692.42 L1555.69 691.32 L1556.68 690.2 L1557.66 689.05 L1558.61 687.9 L1559.54 686.72 L1560.46 685.54 L1561.36 684.34 L1562.25 683.13 L1563.12 681.91 L1563.98 680.68 L1564.83 679.44 L1565.66 678.19 L1566.48 676.93 L1567.28 675.67 L1568.07 674.39 L1568.84 673.1 L1569.6 671.81 L1570.34 670.5 L1571.07 669.19 L1571.78 667.87 L1572.47 666.54 L1573.15 665.2 L1573.81 663.86 L1574.47 662.51 L1575.11 661.15 L1575.75 659.79 L1576.38 658.43 L1577 657.07 L1577.62 655.7 L1578.23 654.33 L1578.84 652.96 L1579.44 651.59 L1580.05 650.21 L1580.65 648.84 L1581.24 647.46 L1581.84 646.08 L1582.43 644.7 L1583.01 643.32 L1583.59 641.94 L1584.17 640.55 L1584.74 639.16 L1585.3 637.77 L1585.86 636.38 L1586.42 634.99 L1586.97 633.59 L1587.51 632.2 L1588.06 630.8 L1588.59 629.4 L1589.13 627.99 L1589.66 626.59 L1590.19 625.19 L1590.71 623.78 L1591.23 622.37 L1591.75 620.97 L1592.26 619.56 L1592.77 618.14 L1593.27 616.73 L1593.78 615.32 L1594.27 613.9 L1594.77 612.49 L1595.27 611.07 L1595.76 609.65 L1596.25 608.24 L1596.74 606.82 L1597.23 605.4 L1597.72 603.98 L1598.2 602.56 L1598.69 601.14 L1599.17 599.72 L1599.65 598.3 L1600.12 596.87 L1600.59 595.45 L1601.06 594.03 L1601.53 592.6 L1602 591.17 L1602.46 589.75 L1602.92 588.32 L1603.39 586.89 L1603.85 585.47 L1604.32 584.04 L1604.79 582.62 L1605.26 581.19 L1605.73 579.77 L1606.21 578.34 L1606.69 576.92 L1607.17 575.5 L1607.65 574.08 L1608.14 572.66 L1608.62 571.24 L1609.11 569.82 L1609.59 568.4 L1610.08 566.99 L1610.57 565.57 L1611.06 564.15 L1611.56 562.73 L1612.06 561.32 L1612.56 559.9 L1613.06 558.49 L1613.57 557.08 L1614.09 555.67 L1614.61 554.27 L1615.14 552.86 L1615.68 551.46 L1616.23 550.06 L1616.78 548.67 L1617.34 547.28 L1617.9 545.89 L1618.47 544.5 L1619.05 543.11 L1619.63 541.73 L1620.23 540.35 L1620.82 538.98 L1621.43 537.61 L1622.05 536.24 L1622.67 534.87 L1623.3 533.51 L1623.94 532.16 L1624.59 530.8 L1625.24 529.45 L1625.9 528.1 L1626.56 526.75 L1627.22 525.41 L1627.9 524.07 L1628.59 522.74 L1629.3 521.42 L1630.04 520.11 L1630.8 518.82 L1631.61 517.56 L1632.48 516.34 L1633.42 515.18 L1634.46 514.1 L1635.59 513.14 L1636.83 512.32 L1638.16 511.65 L1639.57 511.16 L1641.02 510.87 L1642.49 510.82 L1643.92 511.08 L1645.27 511.65 L1646.49 512.49 L1647.57 513.5 L1648.55 514.63 L1649.43 515.83 L1650.23 517.1 L1650.94 518.42 L1651.59 519.77 L1652.19 521.14 L1652.74 522.54 L1653.25 523.95 L1653.72 525.37 L1654.16 526.81 L1654.58 528.25 L1654.99 529.69 L1655.38 531.14 L1655.76 532.59 L1656.13 534.04 L1656.5 535.5 L1656.85 536.96 L1657.21 538.41 L1657.56 539.87 L1657.9 541.33 L1658.25 542.79 L1658.59 544.25 L1658.92 545.72 L1659.26 547.18 L1659.58 548.64 L1659.9 550.11 L1660.21 551.58 L1660.52 553.05 L1660.81 554.52 L1661.11 555.99 L1661.39 557.46 L1661.67 558.93 L1661.95 560.41 L1662.22 561.89 L1662.48 563.36 L1662.75 564.84 L1663 566.32 L1663.25 567.8 L1663.5 569.28 L1663.74 570.76 L1663.97 572.24 L1664.2 573.72 L1664.43 575.21 L1664.65 576.69 L1664.87 578.17 L1665.09 579.66 L1665.31 581.14 L1665.53 582.62 L1665.75 584.11 L1665.98 585.59 L1666.2 587.08 L1666.42 588.56 L1666.65 590.04 L1666.88 591.52 L1667.12 593.01 L1667.36 594.49 L1667.6 595.97 L1667.84 597.45 L1668.08 598.93 L1668.32 600.41 L1668.56 601.89 L1668.8 603.37 L1669.05 604.85 L1669.3 606.33 L1669.54 607.81 L1669.79 609.29 L1670.04 610.77 L1670.3 612.25 L1670.55 613.73 L1670.81 615.21 L1671.06 616.68 L1671.32 618.16 L1671.58 619.64 L1671.84 621.12 L1672.1 622.6 L1672.36 624.07 L1672.61 625.55 L1672.87 627.03 L1673.13 628.51 L1673.4 629.98 L1673.67 631.46 L1673.94 632.93 L1674.23 634.41 L1674.52 635.88 L1674.82 637.35 L1675.13 638.82 L1675.45 640.28 L1675.79 641.74 L1676.14 643.2 L1676.51 644.66 L1676.89 646.11 L1677.29 647.55 L1677.69 649 L1678.11 650.44 L1678.53 651.88 L1678.96 653.32 L1679.39 654.75 L1679.83 656.19 L1680.26 657.62 L1680.7 659.06 L1681.13 660.5 L1681.55 661.94 L1681.97 663.38 L1682.39 664.82 L1682.8 666.26 L1683.22 667.7 L1683.63 669.15 L1684.05 670.59 L1684.47 672.02 L1684.91 673.46 L1685.36 674.89 L1685.82 676.32 L1686.3 677.74 L1686.8 679.15 L1687.32 680.56 L1687.85 681.96 L1688.4 683.36 L1688.95 684.76 L1689.52 686.14 L1690.11 687.53 L1690.72 688.9 L1691.35 690.26 L1692.01 691.6 L1692.71 692.93 L1693.45 694.24 L1694.22 695.52 L1695.04 696.78 L1695.89 698.01 L1696.78 699.22 L1697.7 700.4 L1698.66 701.55 L1699.66 702.67 L1700.69 703.76 L1701.75 704.82 L1702.86 705.83 L1704 706.8 L1705.18 707.72 L1706.41 708.58 L1707.68 709.37 L1709 710.09 L1710.34 710.74 L1711.72 711.35 L1713.1 711.92 L1714.5 712.46 L1715.91 712.99 L1717.31 713.53 L1718.71 714.06 L1720.13 714.54 L1721.57 714.94 L1723.03 715.26 L1724.51 715.54 L1725.99 715.79 L1727.47 716.02 L1728.95 716.24 L1730.44 716.46 L1731.92 716.67 L1733.41 716.88 L1734.89 717.08 L1736.38 717.29 L1737.87 717.49 L1739.35 717.69 L1740.84 717.89 L1742.33 718.08 L1743.82 718.28 L1745.3 718.47 L1746.79 718.66 L1748.28 718.85 L1749.77 719.04 L1751.26 719.22 L1752.75 719.4 L1754.24 719.58 L1755.73 719.76 L1757.22 719.93 L1758.71 720.1 L1760.2 720.27 L1761.69 720.44 L1763.18 720.6 L1764.67 720.77 L1766.16 720.92 L1767.66 721.08 L1769.15 721.23 L1770.64 721.38 L1772.13 721.53 L1773.63 721.67 L1775.12 721.81 L1776.62 721.94 L1778.11 722.07 L1779.61 722.2 L1781.1 722.32 L1782.6 722.44 L1784.09 722.55 L1785.59 722.66 L1787.08 722.77 L1788.58 722.88 L1790.08 722.98 L1791.58 723.08 L1793.07 723.18 L1794.57 723.28 L1796.07 723.37 L1797.56 723.47 L1799.06 723.56 L1800.56 723.65 L1802.06 723.73 L1803.55 723.82 L1805.05 723.9 L1806.55 723.99 L1808.05 724.07 L1809.55 724.15 L1811.05 724.23 L1812.54 724.3 L1814.04 724.38 L1815.54 724.45 L1817.04 724.52 L1818.54 724.59 L1820.04 724.66 L1821.54 724.72 L1823.03 724.79 L1824.53 724.85 L1826.03 724.91 L1827.53 724.97 L1829.03 725.03 L1830.53 725.08 L1832.03 725.13 L1833.53 725.18 L1835.03 725.23 L1836.53 725.27 L1838.03 725.31 L1839.53 725.35 L1841.03 725.38 L1842.53 725.42 L1844.03 725.44 L1845.53 725.46 L1847.03 725.48 L1848.53 725.49 L1850.03 725.49 L1851.53 725.48 L1853.03 725.46 L1854.53 725.44 L1856.03 725.39 L1857.53 725.34 L1859.03 725.27 L1860.52 725.19 L1862.02 725.08 L1863.52 724.96 L1865.01 724.82 L1866.5 724.66 L1867.99 724.48 L1869.47 724.27 L1870.96 724.04 L1872.44 723.79 L1873.91 723.53 L1875.39 723.26 L1876.86 722.99 L1878.34 722.71 L1879.81 722.43 L1881.29 722.15 L1882.76 721.86 L1884.23 721.55 L1885.69 721.21 L1887.14 720.85 L1888.59 720.47 L1890.03 720.05 L1891.47 719.6 L1892.89 719.13 L1894.3 718.62 L1895.7 718.08 L1897.09 717.51 L1898.47 716.92 L1899.83 716.3 L1901.19 715.66 L1902.53 714.99 L1903.86 714.29 L1905.17 713.56 L1906.46 712.8 L1907.73 712.01 L1908.98 711.18 L1910.21 710.32 L1911.41 709.42 L1912.59 708.5 L1913.75 707.54 L1914.88 706.56 L1915.99 705.55 L1917.08 704.52 L1918.15 703.46 L1919.19 702.38 L1920.21 701.28 L1921.21 700.16 L1922.18 699.03 L1923.14 697.87 L1924.07 696.7 L1924.99 695.51 L1925.88 694.3 L1926.76 693.08 L1927.61 691.85 L1928.45 690.61 L1929.26 689.35 L1930.06 688.07 L1930.83 686.79 L1931.59 685.5 L1932.34 684.19 L1933.07 682.88 L1933.78 681.56 L1934.48 680.24 L1935.17 678.9 L1935.85 677.57 L1936.51 676.22 L1937.17 674.87 L1937.82 673.52 L1938.45 672.16 L1939.08 670.8 L1939.7 669.43 L1940.31 668.06 L1940.9 666.68 L1941.48 665.3 L1942.05 663.91 L1942.61 662.52 L1943.17 661.13 L1943.71 659.73 L1944.24 658.33 L1944.77 656.92 L1945.29 655.51 L1945.81 654.1 L1946.32 652.69 L1946.82 651.28 L1947.32 649.87 L1947.82 648.45 L1948.31 647.03 L1948.8 645.61 L1949.28 644.19 L1949.76 642.77 L1950.23 641.35 L1950.7 639.92 L1951.16 638.5 L1951.62 637.07 L1952.07 635.64 L1952.53 634.21 L1952.97 632.77 L1953.42 631.34 L1953.86 629.91 L1954.29 628.47 L1954.73 627.04 L1955.16 625.6 L1955.59 624.16 L1956.02 622.72 L1956.45 621.29 L1956.88 619.85 L1957.3 618.41 L1957.73 616.97 L1958.15 615.53 L1958.57 614.09 L1958.98 612.65 L1959.4 611.21 L1959.81 609.76 L1960.21 608.32 L1960.62 606.87 L1961.02 605.43 L1961.42 603.98 L1961.82 602.54 L1962.22 601.09 L1962.61 599.64 L1963.01 598.2 L1963.41 596.75 L1963.8 595.3 L1964.19 593.85 L1964.59 592.41 L1964.98 590.96 L1965.38 589.51 L1965.77 588.06 L1966.17 586.62 L1966.56 585.17 L1966.96 583.72 L1967.36 582.28 L1967.76 580.83 L1968.16 579.38 L1968.56 577.94 L1968.96 576.49 L1969.37 575.05 L1969.77 573.6 L1970.17 572.16 L1970.57 570.71 L1970.98 569.27 L1971.38 567.82 L1971.78 566.38 L1972.18 564.93 L1972.59 563.49 L1972.99 562.04 L1973.39 560.6 L1973.79 559.15 L1974.19 557.7 L1974.59 556.26 L1974.99 554.81 L1975.39 553.36 L1975.78 551.92 L1976.18 550.47 L1976.58 549.02 L1976.97 547.58 L1977.36 546.13 L1977.75 544.68 L1978.14 543.23 L1978.53 541.78 L1978.92 540.33 L1979.3 538.88 L1979.69 537.43 L1980.07 535.98 L1980.45 534.53 L1980.84 533.08 L1981.22 531.63 L1981.6 530.18 L1981.98 528.73 L1982.37 527.28 L1982.75 525.83 L1983.13 524.38 L1983.52 522.93 L1983.9 521.47 L1984.28 520.02 L1984.67 518.57 L1985.05 517.12 L1985.44 515.68 L1985.83 514.23 L1986.22 512.78 L1986.61 511.33 L1987 509.88 L1987.4 508.43 L1987.79 506.99 L1988.19 505.54 L1988.58 504.09 L1988.98 502.64 L1989.37 501.2 L1989.77 499.75 L1990.17 498.3 L1990.56 496.86 L1990.96 495.41 L1991.36 493.96 L1991.76 492.52 L1992.16 491.07 L1992.56 489.63 L1992.97 488.18 L1993.37 486.74 L1993.77 485.29 L1994.18 483.85 L1994.59 482.4 L1994.99 480.96 L1995.4 479.51 L1995.81 478.07 L1996.22 476.63 L1996.63 475.18 L1997.03 473.74 L1997.44 472.3 L1997.84 470.85 L1998.24 469.4 L1998.65 467.96 L1999.05 466.51 L1999.45 465.07 L1999.85 463.62 L2000.26 462.18 L2000.66 460.73 L2001.07 459.29 L2001.48 457.85 L2001.9 456.41 L2002.31 454.97 L2002.74 453.53 L2003.17 452.09 L2003.61 450.65 L2004.06 449.22 L2004.52 447.79 L2004.99 446.37 L2005.48 444.95 L2006 443.54 L2006.53 442.14 L2007.09 440.75 L2007.68 439.37 L2008.3 438.01 L2008.96 436.66 L2009.65 435.33 L2010.37 434.01 L2011.14 432.73 L2011.95 431.47 L2012.81 430.24 L2013.76 429.1 L2014.86 428.18 L2016.15 427.67 L2017.58 427.58 L2019.06 427.73 L2020.51 428.01 L2021.89 428.51 L2023.13 429.29 L2024.16 430.32 L2025.01 431.54 L2025.72 432.85 L2026.33 434.22 L2026.89 435.61 L2027.39 437.02 L2027.87 438.44 L2028.31 439.87 L2028.74 441.31 L2029.14 442.76 L2029.52 444.21 L2029.9 445.66 L2030.26 447.12 L2030.6 448.58 L2030.93 450.04 L2031.25 451.51 L2031.55 452.98 L2031.85 454.45 L2032.13 455.92 L2032.4 457.4 L2032.66 458.87 L2032.92 460.35 L2033.17 461.83 L2033.41 463.31 L2033.65 464.79 L2033.89 466.27 L2034.12 467.76 L2034.35 469.24 L2034.58 470.72 L2034.81 472.21 L2035.03 473.69 L2035.25 475.17 L2035.47 476.66 L2035.69 478.14 L2035.9 479.63 L2036.11 481.11 L2036.31 482.6 L2036.51 484.09 L2036.71 485.57 L2036.91 487.06 L2037.1 488.55 L2037.3 490.03 L2037.49 491.52 L2037.68 493.01 L2037.87 494.5 L2038.06 495.99 L2038.25 497.48 L2038.44 498.96 L2038.63 500.45 L2038.82 501.94 L2039.02 503.43 L2039.21 504.92 L2039.4 506.4 L2039.59 507.89 L2039.79 509.38 L2039.98 510.87 L2040.18 512.35 L2040.38 513.84 L2040.57 515.33 L2040.77 516.82 L2040.97 518.3 L2041.16 519.79 L2041.36 521.28 L2041.56 522.77 L2041.76 524.25 L2041.95 525.74 L2042.15 527.23 L2042.35 528.71 L2042.54 530.2 L2042.74 531.69 L2042.94 533.18 L2043.14 534.66 L2043.33 536.15 L2043.53 537.64 L2043.73 539.12 L2043.93 540.61 L2044.13 542.1 L2044.33 543.59 L2044.53 545.07 L2044.73 546.56 L2044.93 548.05 L2045.13 549.53 L2045.33 551.02 L2045.53 552.51 L2045.73 553.99 L2045.93 555.48 L2046.13 556.97 L2046.33 558.45 L2046.53 559.94 L2046.74 561.43 L2046.94 562.91 L2047.14 564.4 L2047.34 565.89 L2047.55 567.37 L2047.75 568.86 L2047.95 570.35 L2048.16 571.83 L2048.37 573.32 L2048.57 574.8 L2048.78 576.29 L2048.99 577.78 L2049.2 579.26 L2049.41 580.75 L2049.62 582.23 L2049.83 583.72 L2050.04 585.2 L2050.25 586.69 L2050.46 588.17 L2050.68 589.66 L2050.89 591.14 L2051.1 592.63 L2051.32 594.11 L2051.53 595.6 L2051.75 597.08 L2051.96 598.57 L2052.18 600.05 L2052.4 601.54 L2052.62 603.02 L2052.85 604.5 L2053.07 605.99 L2053.3 607.47 L2053.53 608.95 L2053.76 610.43 L2054 611.92 L2054.24 613.4 L2054.48 614.88 L2054.72 616.36 L2054.96 617.84 L2055.21 619.32 L2055.46 620.8 L2055.7 622.28 L2055.96 623.76 L2056.21 625.24 L2056.46 626.72 L2056.72 628.19 L2056.98 629.67 L2057.24 631.15 L2057.5 632.63 L2057.76 634.1 L2058.03 635.58 L2058.29 637.06 L2058.56 638.53 L2058.83 640.01 L2059.11 641.48 L2059.38 642.96 L2059.66 644.43 L2059.94 645.91 L2060.22 647.38 L2060.51 648.85 L2060.78 650.33 L2061.06 651.8 L2061.34 653.28 L2061.62 654.75 L2061.9 656.22 L2062.19 657.7 L2062.48 659.17 L2062.77 660.64 L2063.08 662.11 L2063.39 663.58 L2063.72 665.04 L2064.05 666.5 L2064.4 667.96 L2064.77 669.42 L2065.15 670.87 L2065.55 672.31 L2065.96 673.76 L2066.39 675.19 L2066.82 676.63 L2067.27 678.06 L2067.73 679.49 L2068.21 680.91 L2068.69 682.33 L2069.19 683.75 L2069.71 685.15 L2070.24 686.56 L2070.79 687.95 L2071.36 689.34 L2071.95 690.72 L2072.56 692.09 L2073.2 693.45 L2073.86 694.79 L2074.55 696.13 L2075.26 697.45 L2076 698.75 L2076.77 700.04 L2077.56 701.31 L2078.39 702.56 L2079.25 703.79 L2080.14 705 L2081.07 706.17 L2082.04 707.32 L2083.05 708.42 L2084.11 709.49 L2085.2 710.51 L2086.35 711.48 L2087.54 712.38 L2088.77 713.23 L2090.05 714.01 L2091.36 714.74 L2092.71 715.4 L2094.07 716.02 L2095.46 716.6 L2096.86 717.14 L2098.26 717.65 L2099.68 718.15 L2101.1 718.62 L2102.53 719.08 L2103.97 719.5 L2105.42 719.9 L2106.87 720.26 L2108.34 720.58 L2109.81 720.88 L2111.29 721.14 L2112.77 721.38 L2114.25 721.61 L2115.73 721.83 L2117.22 722.03 L2118.71 722.23 L2120.2 722.42 L2121.68 722.61 L2123.17 722.79 L2124.66 722.97 L2126.15 723.15 L2127.64 723.32 L2129.13 723.48 L2130.63 723.64 L2132.12 723.8 L2133.61 723.96 L2135.1 724.11 L2136.6 724.25 L2138.09 724.4 L2139.58 724.54 L2141.08 724.67 L2142.57 724.81 L2144.07 724.94 L2145.56 725.06 L2147.06 725.18 L2148.55 725.3 L2150.05 725.42 L2151.54 725.53 L2153.04 725.64 L2154.54 725.74 L2156.03 725.84 L2157.53 725.94 L2159.03 726.03 L2160.53 726.12 L2162.02 726.21 L2163.52 726.29 L2165.02 726.37 L2166.52 726.45 L2168.02 726.53 L2169.51 726.6 L2171.01 726.67 L2172.51 726.74 L2174.01 726.8 L2175.51 726.87 L2177.01 726.93 L2178.51 726.99 L2180.01 727.05 L2181.51 727.11 L2183.01 727.16 L2184.5 727.22 L2186 727.27 L2187.5 727.32 L2189 727.37 L2190.5 727.42 L2192 727.47 L2193.5 727.52 L2195 727.57 L2196.5 727.61 L2198 727.66 L2199.5 727.7 L2201 727.75 L2202.5 727.79 L2204 727.83 L2205.5 727.88 L2207 727.92 L2208.5 727.96 L2210 728 L2211.5 728.04 L2213 728.07 L2214.5 728.11 L2216 728.15 L2217.5 728.18 L2219 728.21 L2220.5 728.24 L2222 728.27 L2223.5 728.3 L2225 728.33 L2226.5 728.36 L2228 728.39 L2229.5 728.41 L2231 728.44 L2232.5 728.47 L2234 728.49 L2235.5 728.52 L2237 728.54 L2238.5 728.56 L2240 728.59 L2241.5 728.61 L2243 728.63 L2244.5 728.65 L2246 728.68 L2247.5 728.7 L2249 728.72 L2250.5 728.74 L2252 728.76 L2253.5 728.78 L2255 728.8 L2256.5 728.83 L2258 728.85 L2259.5 728.87 L2261 728.89 L2262.5 728.91 L2264 728.93 L2265.49 728.95 L2266.88 728.97 L2268.5 729" fill="none" stroke="#000" stroke-width="4.2" stroke-linejoin="round" stroke-linecap="round"/>
<line x1="1636" y1="170.8" x2="1636" y2="250" stroke="#ff3c28" stroke-width="4" stroke-dasharray="21.5 9 4.5 9"/>
<line x1="2012.6" y1="86.9" x2="2012.6" y2="165.3" stroke="#ff3c28" stroke-width="4" stroke-dasharray="21.5 9 4.5 9"/>
<line x1="1641.2" y1="490.6" x2="1641.2" y2="569.75" stroke="#ff3c28" stroke-width="4" stroke-dasharray="21.5 9 4.5 9"/>
<line x1="2017.8" y1="402" x2="2017.8" y2="482.3" stroke="#ff3c28" stroke-width="4" stroke-dasharray="21.5 9 4.5 9"/>
<rect x="1222.5" y="35" width="1048" height="701" stroke="#000" stroke-width="4.6" fill="none" stroke-linejoin="miter"/>
<line x1="2221" y1="736" x2="2221" y2="751" stroke="#000" stroke-width="4.6" stroke-linecap="butt"/>
<line x1="1971.25" y1="736" x2="1971.25" y2="751" stroke="#000" stroke-width="4.6" stroke-linecap="butt"/>
<line x1="1721.5" y1="736" x2="1721.5" y2="751" stroke="#000" stroke-width="4.6" stroke-linecap="butt"/>
<line x1="1471.75" y1="736" x2="1471.75" y2="751" stroke="#000" stroke-width="4.6" stroke-linecap="butt"/>
<line x1="1222" y1="736" x2="1222" y2="751" stroke="#000" stroke-width="4.6" stroke-linecap="butt"/>
<line x1="2096.12" y1="736" x2="2096.12" y2="744" stroke="#000" stroke-width="4.6" stroke-linecap="butt"/>
<line x1="1846.38" y1="736" x2="1846.38" y2="744" stroke="#000" stroke-width="4.6" stroke-linecap="butt"/>
<line x1="1596.62" y1="736" x2="1596.62" y2="744" stroke="#000" stroke-width="4.6" stroke-linecap="butt"/>
<line x1="1346.88" y1="736" x2="1346.88" y2="744" stroke="#000" stroke-width="4.6" stroke-linecap="butt"/>
<text transform="translate(2221 795) scale(1 1.06)" font-size="41" fill="#000" stroke="#000" stroke-width="0.6" text-anchor="middle">440</text>
<text transform="translate(1971.25 795) scale(1 1.06)" font-size="41" fill="#000" stroke="#000" stroke-width="0.6" text-anchor="middle">445</text>
<text transform="translate(1721.5 795) scale(1 1.06)" font-size="41" fill="#000" stroke="#000" stroke-width="0.6" text-anchor="middle">450</text>
<text transform="translate(1471.75 795) scale(1 1.06)" font-size="41" fill="#000" stroke="#000" stroke-width="0.6" text-anchor="middle">455</text>
<text transform="translate(1222 795) scale(1 1.06)" font-size="41" fill="#000" stroke="#000" stroke-width="0.6" text-anchor="middle">460</text>
<text x="1550.5" y="862.9" font-size="45.95" font-weight="bold" fill="#000" text-anchor="start"><tspan>Binding energy (eV)</tspan></text>
<text x="0" y="0" transform="translate(1195.5 401) rotate(-90)" font-size="46.6" font-weight="bold" fill="#000" text-anchor="middle"><tspan>Intensity (a.u.)</tspan></text>
<text x="1271.5" y="372.1" font-size="39" font-weight="bold" fill="#000" text-anchor="start"><tspan>Ag/In</tspan><tspan font-size="26.52" dy="11.5">2</tspan><tspan dy="-11.5">O</tspan><tspan font-size="26.52" dy="11.5">3</tspan><tspan dy="-11.5">-2</tspan></text>
<text x="1296" y="671.4" font-size="39" font-weight="bold" fill="#000" text-anchor="start"><tspan>In</tspan><tspan font-size="27.3" dy="11.5">2</tspan><tspan dy="-11.5">O</tspan><tspan font-size="27.3" dy="11.5">3</tspan></text>
<text x="1568" y="145.8" font-size="38" font-weight="bold" fill="#000" text-anchor="start"><tspan>In 3d</tspan><tspan font-size="26.6" dy="11">3/2</tspan></text>
<text x="1956" y="81" font-size="37.5" font-weight="bold" fill="#000" text-anchor="start"><tspan>In 3d</tspan><tspan font-size="26.5" dy="11" dx="3">5/2</tspan></text>
<text x="1470" y="208.3" font-size="31.2" font-weight="bold" fill="#000" text-anchor="start"><tspan>451.77eV</tspan></text>
<text x="1473.5" y="518.75" font-size="31.3" font-weight="bold" fill="#000" text-anchor="start"><tspan>451.65.eV</tspan></text>
<text x="1859" y="135.7" font-size="31.4" font-weight="bold" fill="#000" text-anchor="start"><tspan>444.22eV</tspan></text>
<text x="1865" y="453.8" font-size="31.8" font-weight="bold" fill="#000" text-anchor="start"><tspan>444.11eV</tspan></text>
<text x="30" y="971.8" font-size="63" fill="#000" stroke-linejoin="round"><tspan stroke="#000" stroke-width="1.7">(</tspan><tspan stroke="#000" stroke-width="2.1">c</tspan><tspan stroke="#000" stroke-width="1.7">)</tspan></text>
<path d="M117.7 1509.4 L119.35 1508.98 L120.64 1508.64 L122.04 1508.23 L123.45 1507.73 L124.81 1507.13 L126.11 1506.4 L127.34 1505.56 L128.51 1504.63 L129.64 1503.64 L130.75 1502.64 L131.88 1501.65 L133.04 1500.71 L134.27 1499.89 L135.58 1499.28 L136.98 1498.99 L138.4 1499.06 L139.82 1499.43 L141.2 1499.96 L142.57 1500.57 L143.92 1501.23 L145.24 1501.93 L146.56 1502.65 L147.89 1503.32 L149.27 1503.91 L150.68 1504.38 L152.13 1504.75 L153.6 1505.03 L155.08 1505.24 L156.57 1505.4 L158.06 1505.52 L159.56 1505.62 L161.06 1505.69 L162.56 1505.75 L164.06 1505.79 L165.56 1505.83 L167.06 1505.86 L168.56 1505.87 L170.06 1505.87 L171.56 1505.85 L173.06 1505.81 L174.55 1505.75 L176.05 1505.67 L177.55 1505.58 L179.05 1505.49 L180.54 1505.39 L182.04 1505.31 L183.54 1505.23 L185.04 1505.18 L186.54 1505.15 L188.04 1505.15 L189.53 1505.21 L191.02 1505.34 L192.5 1505.57 L193.95 1505.9 L195.37 1506.35 L196.77 1506.9 L198.13 1507.51 L199.48 1508.15 L200.85 1508.78 L202.23 1509.33 L203.66 1509.75 L205.11 1509.99 L206.59 1510.04 L208.07 1509.92 L209.54 1509.66 L210.99 1509.3 L212.43 1508.88 L213.87 1508.45 L215.31 1508.04 L216.76 1507.68 L218.23 1507.4 L219.72 1507.21 L221.21 1507.1 L222.71 1507.06 L224.2 1507.05 L225.7 1507.07 L227.2 1507.1 L228.7 1507.11 L230.2 1507.1 L231.7 1507.04 L233.19 1506.92 L234.68 1506.73 L236.15 1506.45 L237.6 1506.09 L239.03 1505.66 L240.45 1505.17 L241.85 1504.65 L243.25 1504.1 L244.65 1503.55 L246.04 1503.01 L247.45 1502.49 L248.87 1502.02 L250.31 1501.62 L251.78 1501.34 L253.26 1501.2 L254.74 1501.2 L256.23 1501.34 L257.7 1501.59 L259.17 1501.89 L260.64 1502.2 L262.11 1502.45 L263.6 1502.66 L265.09 1502.82 L266.58 1502.97 L268.07 1503.09 L269.57 1503.17 L271.07 1503.19 L272.56 1503.11 L274.03 1502.91 L275.49 1502.58 L276.91 1502.13 L278.31 1501.6 L279.71 1501.07 L281.13 1500.59 L282.57 1500.22 L284.04 1499.99 L285.53 1499.91 L287.02 1499.95 L288.51 1500.1 L289.99 1500.33 L291.45 1500.62 L292.91 1500.97 L294.36 1501.36 L295.8 1501.79 L297.23 1502.24 L298.64 1502.73 L300.04 1503.26 L301.43 1503.83 L302.81 1504.42 L304.18 1505.04 L305.54 1505.67 L306.9 1506.31 L308.25 1506.95 L309.61 1507.59 L310.97 1508.22 L312.34 1508.83 L313.72 1509.41 L315.12 1509.95 L316.54 1510.38 L317.98 1510.63 L319.41 1510.6 L320.78 1510.23 L322.1 1509.66 L323.42 1509.19 L324.77 1509.1 L326.12 1509.46 L327.43 1510.1 L328.73 1510.82 L330.06 1511.44 L331.44 1511.79 L332.84 1511.76 L334.2 1511.35 L335.49 1510.66 L336.71 1509.81 L337.9 1508.9 L339.08 1507.98 L340.31 1507.13 L341.6 1506.4 L342.97 1505.87 L344.4 1505.56 L345.88 1505.44 L347.37 1505.4 L348.87 1505.34 L350.35 1505.18 L351.81 1504.9 L353.26 1504.52 L354.7 1504.09 L356.14 1503.67 L357.58 1503.28 L359.04 1502.98 L360.52 1502.8 L362 1502.8 L363.47 1502.98 L364.93 1503.3 L366.37 1503.71 L367.81 1504.12 L369.26 1504.45 L370.72 1504.61 L372.17 1504.53 L373.58 1504.16 L374.9 1503.54 L376.16 1502.75 L377.38 1501.89 L378.62 1501.05 L379.91 1500.3 L381.26 1499.69 L382.67 1499.22 L384.12 1498.88 L385.6 1498.63 L387.08 1498.43 L388.57 1498.28 L390.07 1498.16 L391.57 1498.07 L393.06 1497.98 L394.56 1497.91 L396.06 1497.85 L397.56 1497.81 L399.06 1497.8 L400.56 1497.83 L402.06 1497.88 L403.56 1497.95 L405.05 1497.99 L406.55 1497.98 L408.05 1497.91 L409.54 1497.77 L411.01 1497.53 L412.45 1497.16 L413.83 1496.63 L415.14 1495.92 L416.37 1495.09 L417.53 1494.15 L418.64 1493.15 L419.72 1492.1 L420.75 1491.02 L421.76 1489.91 L422.75 1488.78 L423.7 1487.62 L424.61 1486.43 L425.49 1485.22 L426.33 1483.97 L427.12 1482.7 L427.85 1481.39 L428.53 1480.06 L429.15 1478.69 L429.72 1477.31 L430.27 1475.91 L430.81 1474.51 L431.36 1473.12 L431.92 1471.73 L432.49 1470.34 L433.06 1468.95 L433.62 1467.56 L434.19 1466.17 L434.76 1464.79 L435.35 1463.4 L435.94 1462.03 L436.54 1460.65 L437.13 1459.27 L437.72 1457.89 L438.28 1456.5 L438.83 1455.11 L439.37 1453.71 L439.89 1452.3 L440.4 1450.89 L440.89 1449.47 L441.38 1448.05 L441.86 1446.63 L442.32 1445.2 L442.77 1443.77 L443.21 1442.34 L443.63 1440.9 L444.05 1439.46 L444.46 1438.02 L444.86 1436.57 L445.27 1435.13 L445.68 1433.69 L446.1 1432.24 L446.51 1430.8 L446.92 1429.36 L447.3 1427.91 L447.66 1426.45 L447.99 1424.99 L448.29 1423.52 L448.57 1422.05 L448.84 1420.57 L449.09 1419.09 L449.32 1417.61 L449.55 1416.13 L449.77 1414.64 L449.98 1413.16 L450.19 1411.67 L450.4 1410.19 L450.6 1408.7 L450.8 1407.21 L450.99 1405.73 L451.18 1404.24 L451.36 1402.75 L451.54 1401.26 L451.72 1399.77 L451.89 1398.28 L452.06 1396.79 L452.24 1395.3 L452.41 1393.81 L452.59 1392.32 L452.77 1390.83 L452.95 1389.34 L453.14 1387.85 L453.33 1386.37 L453.53 1384.88 L453.74 1383.39 L453.96 1381.91 L454.18 1380.43 L454.42 1378.94 L454.66 1377.46 L454.91 1375.98 L455.15 1374.5 L455.4 1373.02 L455.64 1371.54 L455.88 1370.06 L456.11 1368.58 L456.33 1367.1 L456.53 1365.61 L456.73 1364.12 L456.92 1362.64 L457.1 1361.15 L457.27 1359.66 L457.43 1358.16 L457.59 1356.67 L457.75 1355.18 L457.9 1353.69 L458.05 1352.2 L458.19 1350.7 L458.34 1349.21 L458.48 1347.72 L458.62 1346.22 L458.76 1344.73 L458.89 1343.23 L459.03 1341.74 L459.16 1340.25 L459.3 1338.75 L459.43 1337.26 L459.57 1335.76 L459.7 1334.27 L459.83 1332.78 L459.97 1331.28 L460.1 1329.79 L460.23 1328.29 L460.35 1326.8 L460.48 1325.3 L460.6 1323.81 L460.73 1322.31 L460.85 1320.82 L460.97 1319.32 L461.1 1317.83 L461.22 1316.33 L461.34 1314.84 L461.46 1313.34 L461.59 1311.85 L461.71 1310.35 L461.83 1308.86 L461.96 1307.36 L462.09 1305.87 L462.21 1304.37 L462.34 1302.88 L462.47 1301.38 L462.6 1299.89 L462.73 1298.4 L462.86 1296.9 L462.99 1295.41 L463.12 1293.91 L463.25 1292.42 L463.38 1290.92 L463.51 1289.43 L463.64 1287.93 L463.77 1286.44 L463.9 1284.95 L464.03 1283.45 L464.17 1281.96 L464.3 1280.46 L464.43 1278.97 L464.57 1277.47 L464.7 1275.98 L464.84 1274.49 L464.97 1272.99 L465.11 1271.5 L465.24 1270 L465.38 1268.51 L465.52 1267.02 L465.65 1265.52 L465.79 1264.03 L465.93 1262.53 L466.07 1261.04 L466.21 1259.55 L466.35 1258.05 L466.49 1256.56 L466.63 1255.07 L466.76 1253.57 L466.9 1252.08 L467.04 1250.59 L467.18 1249.09 L467.32 1247.6 L467.46 1246.1 L467.6 1244.61 L467.74 1243.12 L467.88 1241.62 L468.02 1240.13 L468.17 1238.64 L468.31 1237.14 L468.45 1235.65 L468.59 1234.16 L468.74 1232.66 L468.89 1231.17 L469.04 1229.68 L469.19 1228.19 L469.34 1226.69 L469.5 1225.2 L469.66 1223.71 L469.81 1222.22 L469.97 1220.73 L470.13 1219.24 L470.3 1217.74 L470.46 1216.25 L470.63 1214.76 L470.8 1213.27 L470.97 1211.78 L471.14 1210.29 L471.32 1208.8 L471.5 1207.31 L471.69 1205.82 L471.88 1204.34 L472.07 1202.85 L472.26 1201.36 L472.46 1199.87 L472.66 1198.39 L472.86 1196.9 L473.07 1195.42 L473.29 1193.93 L473.51 1192.45 L473.74 1190.96 L473.99 1189.48 L474.25 1188.01 L474.55 1186.54 L474.91 1185.09 L475.35 1183.66 L475.92 1182.31 L476.69 1181.15 L477.67 1180.41 L478.77 1180.36 L479.77 1181.01 L480.53 1182.14 L481.08 1183.49 L481.49 1184.92 L481.83 1186.38 L482.13 1187.85 L482.41 1189.33 L482.67 1190.8 L482.92 1192.28 L483.16 1193.76 L483.4 1195.24 L483.64 1196.72 L483.87 1198.21 L484.1 1199.69 L484.32 1201.17 L484.55 1202.66 L484.77 1204.14 L484.99 1205.62 L485.21 1207.11 L485.42 1208.59 L485.64 1210.08 L485.85 1211.56 L486.07 1213.05 L486.28 1214.53 L486.48 1216.02 L486.69 1217.5 L486.89 1218.99 L487.08 1220.48 L487.28 1221.96 L487.46 1223.45 L487.64 1224.94 L487.82 1226.43 L487.98 1227.92 L488.15 1229.41 L488.3 1230.91 L488.45 1232.4 L488.6 1233.89 L488.74 1235.39 L488.88 1236.88 L489.01 1238.37 L489.14 1239.87 L489.27 1241.36 L489.4 1242.86 L489.53 1244.35 L489.65 1245.85 L489.78 1247.34 L489.9 1248.84 L490.03 1250.33 L490.15 1251.83 L490.27 1253.32 L490.39 1254.82 L490.51 1256.31 L490.63 1257.81 L490.74 1259.3 L490.86 1260.8 L490.97 1262.29 L491.09 1263.79 L491.2 1265.29 L491.32 1266.78 L491.43 1268.28 L491.54 1269.77 L491.66 1271.27 L491.77 1272.77 L491.88 1274.26 L492 1275.76 L492.11 1277.25 L492.23 1278.75 L492.34 1280.24 L492.45 1281.74 L492.56 1283.24 L492.68 1284.73 L492.79 1286.23 L492.9 1287.72 L493.01 1289.22 L493.13 1290.72 L493.24 1292.21 L493.35 1293.71 L493.47 1295.2 L493.58 1296.7 L493.7 1298.19 L493.81 1299.69 L493.93 1301.19 L494.05 1302.68 L494.18 1304.18 L494.3 1305.67 L494.43 1307.17 L494.56 1308.66 L494.69 1310.15 L494.82 1311.65 L494.96 1313.14 L495.09 1314.64 L495.23 1316.13 L495.37 1317.62 L495.51 1319.12 L495.64 1320.61 L495.78 1322.11 L495.92 1323.6 L496.06 1325.09 L496.2 1326.59 L496.34 1328.08 L496.48 1329.57 L496.61 1331.07 L496.74 1332.56 L496.87 1334.06 L497 1335.55 L497.13 1337.05 L497.25 1338.54 L497.38 1340.04 L497.5 1341.53 L497.61 1343.03 L497.73 1344.52 L497.85 1346.02 L497.97 1347.51 L498.09 1349.01 L498.21 1350.5 L498.33 1352 L498.45 1353.49 L498.57 1354.99 L498.7 1356.48 L498.83 1357.98 L498.97 1359.47 L499.12 1360.97 L499.26 1362.46 L499.42 1363.95 L499.59 1365.44 L499.76 1366.93 L499.94 1368.42 L500.12 1369.91 L500.32 1371.4 L500.52 1372.88 L500.72 1374.37 L500.93 1375.86 L501.13 1377.34 L501.34 1378.83 L501.55 1380.31 L501.76 1381.8 L501.96 1383.28 L502.16 1384.77 L502.36 1386.26 L502.55 1387.75 L502.75 1389.23 L502.95 1390.72 L503.14 1392.21 L503.34 1393.69 L503.53 1395.18 L503.73 1396.67 L503.93 1398.16 L504.13 1399.64 L504.33 1401.13 L504.53 1402.62 L504.74 1404.1 L504.94 1405.59 L505.15 1407.07 L505.36 1408.56 L505.57 1410.04 L505.79 1411.53 L506 1413.01 L506.22 1414.5 L506.45 1415.98 L506.69 1417.46 L506.94 1418.94 L507.21 1420.41 L507.52 1421.88 L507.86 1423.34 L508.25 1424.79 L508.66 1426.23 L509.07 1427.68 L509.46 1429.12 L509.82 1430.58 L510.17 1432.04 L510.52 1433.5 L510.86 1434.96 L511.2 1436.42 L511.55 1437.88 L511.91 1439.33 L512.28 1440.79 L512.67 1442.23 L513.09 1443.68 L513.52 1445.11 L513.97 1446.54 L514.44 1447.97 L514.92 1449.39 L515.41 1450.8 L515.92 1452.22 L516.43 1453.63 L516.94 1455.04 L517.47 1456.44 L517.99 1457.85 L518.52 1459.25 L519.05 1460.66 L519.58 1462.06 L520.12 1463.46 L520.66 1464.86 L521.21 1466.25 L521.77 1467.64 L522.35 1469.03 L522.94 1470.41 L523.56 1471.77 L524.19 1473.13 L524.85 1474.48 L525.54 1475.81 L526.24 1477.14 L526.96 1478.45 L527.69 1479.76 L528.44 1481.06 L529.2 1482.36 L529.96 1483.65 L530.72 1484.94 L531.48 1486.23 L532.25 1487.52 L533.03 1488.81 L533.8 1490.09 L534.59 1491.37 L535.38 1492.64 L536.18 1493.91 L536.99 1495.18 L537.8 1496.43 L538.63 1497.69 L539.47 1498.93 L540.36 1500.12 L541.36 1501.21 L542.51 1502.13 L543.78 1502.87 L545.14 1503.49 L546.54 1504.02 L547.95 1504.53 L549.36 1505.05 L550.75 1505.59 L552.14 1506.16 L553.53 1506.73 L554.92 1507.27 L556.34 1507.77 L557.77 1508.21 L559.22 1508.58 L560.69 1508.9 L562.16 1509.18 L563.64 1509.44 L565.12 1509.68 L566.6 1509.9 L568.09 1510.09 L569.58 1510.26 L571.07 1510.39 L572.57 1510.49 L574.06 1510.53 L575.56 1510.52 L577.05 1510.42 L578.53 1510.22 L579.99 1509.9 L581.42 1509.48 L582.83 1508.97 L584.22 1508.4 L585.6 1507.82 L586.98 1507.25 L588.39 1506.73 L589.82 1506.3 L591.27 1505.95 L592.74 1505.68 L594.23 1505.47 L595.72 1505.32 L597.21 1505.22 L598.71 1505.2 L600.2 1505.26 L601.69 1505.41 L603.16 1505.66 L604.61 1506.02 L606.02 1506.5 L607.39 1507.1 L608.71 1507.79 L610 1508.55 L611.28 1509.33 L612.56 1510.12 L613.85 1510.87 L615.17 1511.57 L616.53 1512.19 L617.93 1512.7 L619.37 1513.07 L620.83 1513.26 L622.31 1513.28 L623.79 1513.13 L625.26 1512.85 L626.7 1512.48 L628.13 1512.03 L629.54 1511.53 L630.95 1511.01 L632.35 1510.47 L633.75 1509.93 L635.15 1509.41 L636.57 1508.91 L638 1508.47 L639.45 1508.1 L640.91 1507.84 L642.39 1507.73 L643.86 1507.8 L645.3 1508.09 L646.7 1508.57 L648.04 1509.2 L649.33 1509.95 L650.58 1510.77 L651.82 1511.63 L653.05 1512.47 L654.32 1513.25 L655.65 1513.92 L657.03 1514.41 L658.47 1514.68 L659.94 1514.7 L661.4 1514.52 L662.85 1514.16 L664.27 1513.71 L665.68 1513.2 L667.09 1512.68 L668.51 1512.21 L669.95 1511.82 L671.41 1511.58 L672.89 1511.5 L674.36 1511.61 L675.82 1511.9 L677.25 1512.32 L678.65 1512.84 L680.04 1513.41 L681.42 1513.99 L682.8 1514.56 L684.21 1515.09 L685.63 1515.54 L687.08 1515.88 L688.55 1516.08 L690.04 1516.13 L691.52 1516.05 L693 1515.84 L694.47 1515.54 L695.92 1515.17 L697.36 1514.75 L698.79 1514.29 L700.21 1513.82 L701.63 1513.35 L703.06 1512.88 L704.49 1512.44 L705.93 1512.03 L707.39 1511.67 L708.85 1511.37 L710.33 1511.13 L711.82 1510.94 L713.31 1510.8 L714.81 1510.69 L716.31 1510.6 L717.8 1510.53 L719.3 1510.45 L720.8 1510.36 L722.29 1510.25 L723.78 1510.09 L725.27 1509.88 L726.73 1509.59 L728.17 1509.2 L729.59 1508.71 L730.96 1508.13 L732.29 1507.45 L733.58 1506.7 L734.84 1505.88 L736.07 1505.03 L737.29 1504.15 L738.51 1503.27 L739.73 1502.4 L740.95 1501.54 L742.18 1500.67 L743.39 1499.79 L744.6 1498.9 L745.8 1498 L746.98 1497.08 L748.17 1496.16 L749.34 1495.23 L750.52 1494.3 L751.72 1493.39 L752.92 1492.5 L754.14 1491.63 L755.36 1490.75 L756.54 1489.83 L757.66 1488.84 L758.71 1487.78 L759.68 1486.65 L760.56 1485.44 L761.37 1484.18 L762.11 1482.88 L762.81 1481.55 L763.46 1480.21 L764.09 1478.85 L764.7 1477.47 L765.29 1476.09 L765.87 1474.71 L766.44 1473.33 L767.02 1471.94 L767.59 1470.55 L768.17 1469.17 L768.76 1467.79 L769.35 1466.41 L769.94 1465.03 L770.53 1463.66 L771.13 1462.28 L771.72 1460.9 L772.3 1459.52 L772.88 1458.13 L773.46 1456.75 L774.02 1455.36 L774.57 1453.96 L775.12 1452.56 L775.65 1451.16 L776.16 1449.75 L776.66 1448.34 L777.14 1446.92 L777.61 1445.49 L778.06 1444.06 L778.49 1442.63 L778.91 1441.19 L779.32 1439.74 L779.71 1438.29 L780.09 1436.84 L780.46 1435.39 L780.81 1433.93 L781.16 1432.47 L781.49 1431.01 L781.82 1429.54 L782.14 1428.08 L782.45 1426.61 L782.76 1425.14 L783.05 1423.67 L783.34 1422.2 L783.63 1420.73 L783.91 1419.25 L784.18 1417.78 L784.45 1416.3 L784.71 1414.83 L784.97 1413.35 L785.22 1411.87 L785.47 1410.39 L785.72 1408.91 L785.96 1407.43 L786.2 1405.95 L786.43 1404.47 L786.66 1402.99 L786.89 1401.5 L787.12 1400.02 L787.33 1398.54 L787.55 1397.05 L787.76 1395.57 L787.96 1394.08 L788.16 1392.59 L788.36 1391.11 L788.55 1389.62 L788.74 1388.13 L788.92 1386.64 L789.1 1385.15 L789.28 1383.66 L789.45 1382.17 L789.62 1380.68 L789.8 1379.19 L789.97 1377.7 L790.14 1376.21 L790.3 1374.72 L790.47 1373.23 L790.64 1371.74 L790.81 1370.25 L790.98 1368.76 L791.14 1367.27 L791.31 1365.78 L791.48 1364.28 L791.64 1362.79 L791.8 1361.3 L791.96 1359.81 L792.11 1358.32 L792.27 1356.83 L792.42 1355.33 L792.57 1353.84 L792.71 1352.35 L792.85 1350.85 L792.99 1349.36 L793.12 1347.87 L793.25 1346.37 L793.38 1344.88 L793.51 1343.38 L793.63 1341.89 L793.75 1340.39 L793.87 1338.9 L793.98 1337.4 L794.09 1335.9 L794.21 1334.41 L794.32 1332.91 L794.42 1331.42 L794.53 1329.92 L794.64 1328.42 L794.74 1326.93 L794.84 1325.43 L794.94 1323.93 L795.04 1322.44 L795.13 1320.94 L795.23 1319.44 L795.32 1317.94 L795.42 1316.45 L795.51 1314.95 L795.6 1313.45 L795.68 1311.95 L795.77 1310.46 L795.85 1308.96 L795.93 1307.46 L796.01 1305.96 L796.09 1304.47 L796.16 1302.97 L796.23 1301.47 L796.3 1299.97 L796.37 1298.47 L796.43 1296.97 L796.5 1295.47 L796.56 1293.98 L796.62 1292.48 L796.69 1290.98 L796.75 1289.48 L796.81 1287.98 L796.87 1286.48 L796.94 1284.98 L797 1283.48 L797.07 1281.98 L797.13 1280.49 L797.2 1278.99 L797.27 1277.49 L797.35 1275.99 L797.42 1274.49 L797.5 1272.99 L797.58 1271.5 L797.66 1270 L797.75 1268.5 L797.84 1267 L797.93 1265.51 L798.02 1264.01 L798.12 1262.51 L798.22 1261.02 L798.32 1259.52 L798.42 1258.02 L798.52 1256.52 L798.63 1255.03 L798.73 1253.53 L798.84 1252.04 L798.95 1250.54 L799.05 1249.04 L799.16 1247.55 L799.27 1246.05 L799.38 1244.55 L799.49 1243.06 L799.6 1241.56 L799.71 1240.07 L799.82 1238.57 L799.93 1237.07 L800.03 1235.58 L800.14 1234.08 L800.25 1232.59 L800.37 1231.09 L800.48 1229.59 L800.59 1228.1 L800.7 1226.6 L800.82 1225.11 L800.93 1223.61 L801.04 1222.11 L801.16 1220.62 L801.27 1219.12 L801.38 1217.63 L801.5 1216.13 L801.61 1214.64 L801.72 1213.14 L801.83 1211.64 L801.94 1210.15 L802.06 1208.65 L802.17 1207.16 L802.28 1205.66 L802.38 1204.16 L802.49 1202.67 L802.6 1201.17 L802.71 1199.67 L802.82 1198.18 L802.93 1196.68 L803.03 1195.19 L803.14 1193.69 L803.25 1192.19 L803.35 1190.7 L803.46 1189.2 L803.57 1187.7 L803.67 1186.21 L803.78 1184.71 L803.89 1183.22 L803.99 1181.72 L804.1 1180.22 L804.21 1178.73 L804.31 1177.23 L804.42 1175.73 L804.53 1174.24 L804.63 1172.74 L804.74 1171.24 L804.85 1169.75 L804.95 1168.25 L805.06 1166.76 L805.17 1165.26 L805.27 1163.76 L805.38 1162.27 L805.49 1160.77 L805.59 1159.27 L805.7 1157.78 L805.81 1156.28 L805.92 1154.78 L806.02 1153.29 L806.13 1151.79 L806.24 1150.3 L806.34 1148.8 L806.45 1147.3 L806.56 1145.81 L806.66 1144.31 L806.77 1142.81 L806.88 1141.32 L806.98 1139.82 L807.09 1138.33 L807.2 1136.83 L807.31 1135.33 L807.41 1133.84 L807.52 1132.34 L807.63 1130.84 L807.73 1129.35 L807.84 1127.85 L807.95 1126.36 L808.06 1124.86 L808.16 1123.36 L808.27 1121.87 L808.38 1120.37 L808.49 1118.87 L808.59 1117.38 L808.7 1115.88 L808.81 1114.38 L808.91 1112.89 L809.02 1111.39 L809.13 1109.9 L809.23 1108.4 L809.34 1106.9 L809.44 1105.41 L809.55 1103.91 L809.65 1102.41 L809.75 1100.92 L809.86 1099.42 L809.96 1097.92 L810.06 1096.43 L810.17 1094.93 L810.27 1093.43 L810.38 1091.94 L810.48 1090.44 L810.59 1088.95 L810.69 1087.45 L810.8 1085.95 L810.92 1084.46 L811.03 1082.96 L811.14 1081.47 L811.26 1079.97 L811.38 1078.47 L811.5 1076.98 L811.63 1075.48 L811.75 1073.99 L811.88 1072.49 L812.01 1071 L812.15 1069.51 L812.28 1068.01 L812.42 1066.52 L812.56 1065.02 L812.7 1063.53 L812.85 1062.04 L813.01 1060.55 L813.17 1059.06 L813.34 1057.57 L813.52 1056.08 L813.73 1054.59 L813.95 1053.11 L814.22 1051.63 L814.53 1050.17 L814.92 1048.72 L815.38 1047.3 L815.94 1045.95 L816.66 1044.82 L817.56 1044.22 L818.52 1044.41 L819.36 1045.29 L820.02 1046.54 L820.55 1047.93 L820.99 1049.36 L821.35 1050.81 L821.67 1052.28 L821.94 1053.75 L822.18 1055.23 L822.41 1056.71 L822.63 1058.2 L822.84 1059.68 L823.04 1061.17 L823.24 1062.65 L823.43 1064.14 L823.62 1065.63 L823.8 1067.12 L823.98 1068.61 L824.15 1070.1 L824.31 1071.59 L824.48 1073.08 L824.63 1074.57 L824.78 1076.07 L824.93 1077.56 L825.07 1079.05 L825.21 1080.55 L825.34 1082.04 L825.46 1083.54 L825.58 1085.03 L825.7 1086.53 L825.81 1088.02 L825.93 1089.52 L826.04 1091.01 L826.14 1092.51 L826.25 1094.01 L826.36 1095.5 L826.46 1097 L826.56 1098.5 L826.67 1099.99 L826.77 1101.49 L826.88 1102.99 L826.98 1104.48 L827.09 1105.98 L827.2 1107.48 L827.3 1108.97 L827.41 1110.47 L827.53 1111.96 L827.64 1113.46 L827.75 1114.96 L827.87 1116.45 L827.98 1117.95 L828.1 1119.44 L828.21 1120.94 L828.33 1122.43 L828.44 1123.93 L828.56 1125.43 L828.67 1126.92 L828.79 1128.42 L828.9 1129.91 L829.01 1131.41 L829.13 1132.9 L829.23 1134.4 L829.34 1135.9 L829.45 1137.39 L829.56 1138.89 L829.66 1140.39 L829.76 1141.88 L829.86 1143.38 L829.96 1144.88 L830.05 1146.37 L830.15 1147.87 L830.24 1149.37 L830.33 1150.87 L830.42 1152.36 L830.5 1153.86 L830.59 1155.36 L830.67 1156.86 L830.76 1158.35 L830.84 1159.85 L830.93 1161.35 L831.01 1162.85 L831.1 1164.34 L831.18 1165.84 L831.27 1167.34 L831.36 1168.84 L831.44 1170.34 L831.53 1171.83 L831.62 1173.33 L831.72 1174.83 L831.81 1176.32 L831.9 1177.82 L832 1179.32 L832.09 1180.82 L832.19 1182.31 L832.29 1183.81 L832.39 1185.31 L832.48 1186.8 L832.58 1188.3 L832.68 1189.8 L832.78 1191.29 L832.88 1192.79 L832.98 1194.29 L833.08 1195.78 L833.18 1197.28 L833.28 1198.78 L833.38 1200.28 L833.48 1201.77 L833.57 1203.27 L833.67 1204.77 L833.77 1206.26 L833.87 1207.76 L833.97 1209.26 L834.07 1210.75 L834.17 1212.25 L834.27 1213.75 L834.37 1215.24 L834.47 1216.74 L834.57 1218.24 L834.67 1219.73 L834.77 1221.23 L834.87 1222.73 L834.97 1224.22 L835.07 1225.72 L835.17 1227.22 L835.27 1228.71 L835.37 1230.21 L835.46 1231.71 L835.56 1233.21 L835.65 1234.7 L835.74 1236.2 L835.83 1237.7 L835.92 1239.2 L836.01 1240.69 L836.09 1242.19 L836.18 1243.69 L836.26 1245.19 L836.35 1246.68 L836.43 1248.18 L836.51 1249.68 L836.59 1251.18 L836.67 1252.68 L836.75 1254.17 L836.83 1255.67 L836.9 1257.17 L836.98 1258.67 L837.06 1260.17 L837.13 1261.66 L837.21 1263.16 L837.28 1264.66 L837.36 1266.16 L837.43 1267.66 L837.51 1269.16 L837.58 1270.65 L837.65 1272.15 L837.72 1273.65 L837.79 1275.15 L837.86 1276.65 L837.93 1278.15 L837.99 1279.65 L838.06 1281.14 L838.12 1282.64 L838.19 1284.14 L838.25 1285.64 L838.32 1287.14 L838.38 1288.64 L838.45 1290.14 L838.51 1291.63 L838.58 1293.13 L838.65 1294.63 L838.73 1296.13 L838.8 1297.63 L838.88 1299.13 L838.96 1300.62 L839.04 1302.12 L839.12 1303.62 L839.21 1305.12 L839.3 1306.62 L839.4 1308.11 L839.49 1309.61 L839.59 1311.11 L839.69 1312.6 L839.79 1314.1 L839.89 1315.6 L839.99 1317.09 L840.1 1318.59 L840.2 1320.09 L840.31 1321.58 L840.42 1323.08 L840.53 1324.58 L840.64 1326.07 L840.74 1327.57 L840.85 1329.06 L840.96 1330.56 L841.07 1332.06 L841.18 1333.55 L841.29 1335.05 L841.4 1336.54 L841.51 1338.04 L841.62 1339.54 L841.73 1341.03 L841.84 1342.53 L841.95 1344.02 L842.06 1345.52 L842.16 1347.02 L842.27 1348.51 L842.37 1350.01 L842.47 1351.51 L842.58 1353 L842.68 1354.5 L842.78 1356 L842.89 1357.49 L842.99 1358.99 L843.09 1360.49 L843.2 1361.98 L843.31 1363.48 L843.42 1364.97 L843.54 1366.47 L843.66 1367.97 L843.78 1369.46 L843.91 1370.96 L844.04 1372.45 L844.17 1373.94 L844.3 1375.44 L844.44 1376.93 L844.58 1378.43 L844.73 1379.92 L844.87 1381.41 L845.02 1382.9 L845.17 1384.4 L845.32 1385.89 L845.48 1387.38 L845.64 1388.87 L845.8 1390.37 L845.96 1391.86 L846.12 1393.35 L846.28 1394.84 L846.45 1396.33 L846.61 1397.82 L846.78 1399.31 L846.94 1400.8 L847.11 1402.29 L847.28 1403.78 L847.44 1405.28 L847.6 1406.77 L847.77 1408.26 L847.94 1409.75 L848.1 1411.24 L848.28 1412.73 L848.45 1414.22 L848.63 1415.71 L848.81 1417.2 L849 1418.69 L849.2 1420.17 L849.41 1421.66 L849.62 1423.14 L849.85 1424.63 L850.09 1426.11 L850.34 1427.59 L850.6 1429.06 L850.88 1430.54 L851.17 1432.01 L851.47 1433.48 L851.79 1434.94 L852.13 1436.41 L852.47 1437.86 L852.83 1439.32 L853.2 1440.77 L853.58 1442.23 L853.97 1443.67 L854.37 1445.12 L854.77 1446.57 L855.19 1448.01 L855.62 1449.44 L856.05 1450.88 L856.5 1452.31 L856.96 1453.74 L857.44 1455.16 L857.91 1456.58 L858.4 1458 L858.89 1459.42 L859.38 1460.84 L859.87 1462.26 L860.36 1463.68 L860.84 1465.09 L861.33 1466.51 L861.8 1467.94 L862.27 1469.36 L862.73 1470.79 L863.18 1472.22 L863.63 1473.65 L864.07 1475.09 L864.52 1476.52 L864.96 1477.95 L865.42 1479.38 L865.88 1480.81 L866.35 1482.23 L866.84 1483.65 L867.35 1485.06 L867.89 1486.46 L868.46 1487.84 L869.08 1489.21 L869.74 1490.55 L870.46 1491.86 L871.25 1493.13 L872.13 1494.35 L873.08 1495.5 L874.1 1496.59 L875.18 1497.63 L876.3 1498.62 L877.47 1499.56 L878.68 1500.45 L879.91 1501.3 L881.17 1502.12 L882.44 1502.92 L883.71 1503.71 L884.98 1504.51 L886.25 1505.31 L887.5 1506.13 L888.75 1506.96 L889.99 1507.81 L891.23 1508.66 L892.46 1509.51 L893.7 1510.36 L894.93 1511.21 L896.18 1512.04 L897.43 1512.87 L898.7 1513.68 L899.97 1514.47 L901.25 1515.25 L902.53 1516.03 L903.82 1516.8 L905.12 1517.55 L906.43 1518.27 L907.77 1518.93 L909.15 1519.53 L910.55 1520 L912 1520.31 L913.46 1520.39 L914.94 1520.28 L916.41 1520.11 L917.9 1520.01 L919.39 1520.06 L920.87 1520.23 L922.34 1520.49 L923.8 1520.83 L925.25 1521.21 L926.69 1521.62 L928.13 1522.06 L929.56 1522.51 L930.99 1522.97 L932.41 1523.43 L933.84 1523.89 L935.26 1524.36 L936.69 1524.83 L938.11 1525.3 L939.54 1525.77 L940.97 1526.22 L942.4 1526.68 L943.83 1527.13 L945.26 1527.57 L946.7 1527.99 L948.15 1528.39 L949.59 1528.78 L951.05 1529.14 L952.52 1529.45 L953.99 1529.71 L955.47 1529.88 L956.95 1529.91 L958.42 1529.77 L959.84 1529.41 L961.2 1528.84 L962.5 1528.13 L963.8 1527.39 L965.13 1526.75 L966.53 1526.29 L967.98 1526.03 L969.47 1525.95 L970.96 1525.99 L972.45 1526.13 L973.93 1526.32 L975.41 1526.55 L976.89 1526.8 L978.37 1527.08 L979.84 1527.36 L981.31 1527.65 L982.79 1527.93 L984.26 1528.21 L985.74 1528.47 L987.22 1528.72 L988.7 1528.94 L990.19 1529.13 L991.68 1529.27 L993.17 1529.35 L994.66 1529.34 L996.15 1529.23 L997.62 1528.99 L999.05 1528.61 L1000.45 1528.1 L1001.8 1527.47 L1003.12 1526.75 L1004.39 1525.97 L1005.64 1525.14 L1006.88 1524.29 L1008.12 1523.46 L1009.4 1522.69 L1010.73 1522.04 L1012.13 1521.55 L1013.57 1521.28 L1015.03 1521.26 L1016.49 1521.47 L1017.91 1521.89 L1019.29 1522.45 L1020.64 1523.08 L1021.99 1523.74 L1023.34 1524.39 L1024.68 1525.06 L1026.01 1525.75 L1027.33 1526.48 L1028.63 1527.23 L1029.92 1527.99 L1031.21 1528.75 L1032.51 1529.49 L1033.83 1530.22 L1035.16 1530.9 L1036.52 1531.51 L1037.92 1532.01 L1039.35 1532.35 L1040.8 1532.44 L1042.23 1532.22 L1043.59 1531.72 L1044.88 1531 L1046.13 1530.19 L1047.39 1529.4 L1048.71 1528.72 L1050.1 1528.2 L1051.54 1527.84 L1053.01 1527.61 L1054.5 1527.46 L1056 1527.36 L1057.5 1527.3 L1059 1527.26 L1060.5 1527.25 L1062 1527.27 L1063.5 1527.3 L1064.99 1527.37 L1066.49 1527.46 L1067.98 1527.6 L1069.46 1527.8 L1070.92 1528.1 L1072.35 1528.53 L1073.71 1529.11 L1075.01 1529.83 L1076.22 1530.61 L1078.3 1532.1" fill="none" stroke="#0a1eff" stroke-width="4.7" stroke-linejoin="round" stroke-linecap="round"/>
<rect x="118.4" y="920" width="960.1" height="686" stroke="#000" stroke-width="4.6" fill="none" stroke-linejoin="miter"/>
<line x1="1022.18" y1="1606" x2="1022.18" y2="1621" stroke="#000" stroke-width="4.6" stroke-linecap="butt"/>
<line x1="909.12" y1="1606" x2="909.12" y2="1621" stroke="#000" stroke-width="4.6" stroke-linecap="butt"/>
<line x1="796.06" y1="1606" x2="796.06" y2="1621" stroke="#000" stroke-width="4.6" stroke-linecap="butt"/>
<line x1="683" y1="1606" x2="683" y2="1621" stroke="#000" stroke-width="4.6" stroke-linecap="butt"/>
<line x1="569.94" y1="1606" x2="569.94" y2="1621" stroke="#000" stroke-width="4.6" stroke-linecap="butt"/>
<line x1="456.88" y1="1606" x2="456.88" y2="1621" stroke="#000" stroke-width="4.6" stroke-linecap="butt"/>
<line x1="343.82" y1="1606" x2="343.82" y2="1621" stroke="#000" stroke-width="4.6" stroke-linecap="butt"/>
<line x1="230.76" y1="1606" x2="230.76" y2="1621" stroke="#000" stroke-width="4.6" stroke-linecap="butt"/>
<line x1="117.7" y1="1606" x2="117.7" y2="1621" stroke="#000" stroke-width="4.6" stroke-linecap="butt"/>
<line x1="1078.71" y1="1606" x2="1078.71" y2="1615" stroke="#000" stroke-width="4.6" stroke-linecap="butt"/>
<line x1="965.65" y1="1606" x2="965.65" y2="1615" stroke="#000" stroke-width="4.6" stroke-linecap="butt"/>
<line x1="852.59" y1="1606" x2="852.59" y2="1615" stroke="#000" stroke-width="4.6" stroke-linecap="butt"/>
<line x1="739.53" y1="1606" x2="739.53" y2="1615" stroke="#000" stroke-width="4.6" stroke-linecap="butt"/>
<line x1="626.47" y1="1606" x2="626.47" y2="1615" stroke="#000" stroke-width="4.6" stroke-linecap="butt"/>
<line x1="513.41" y1="1606" x2="513.41" y2="1615" stroke="#000" stroke-width="4.6" stroke-linecap="butt"/>
<line x1="400.35" y1="1606" x2="400.35" y2="1615" stroke="#000" stroke-width="4.6" stroke-linecap="butt"/>
<line x1="287.29" y1="1606" x2="287.29" y2="1615" stroke="#000" stroke-width="4.6" stroke-linecap="butt"/>
<line x1="174.23" y1="1606" x2="174.23" y2="1615" stroke="#000" stroke-width="4.6" stroke-linecap="butt"/>
<text transform="translate(1022.18 1657.2) scale(1 1.06)" font-size="34" fill="#444" stroke="#444" stroke-width="0.6" text-anchor="middle">364</text>
<text transform="translate(909.12 1657.2) scale(1 1.06)" font-size="34" fill="#444" stroke="#444" stroke-width="0.6" text-anchor="middle">366</text>
<text transform="translate(796.06 1657.2) scale(1 1.06)" font-size="34" fill="#444" stroke="#444" stroke-width="0.6" text-anchor="middle">368</text>
<text transform="translate(683 1657.2) scale(1 1.06)" font-size="34" fill="#444" stroke="#444" stroke-width="0.6" text-anchor="middle">370</text>
<text transform="translate(569.94 1657.2) scale(1 1.06)" font-size="34" fill="#444" stroke="#444" stroke-width="0.6" text-anchor="middle">372</text>
<text transform="translate(456.88 1657.2) scale(1 1.06)" font-size="34" fill="#444" stroke="#444" stroke-width="0.6" text-anchor="middle">374</text>
<text transform="translate(343.82 1657.2) scale(1 1.06)" font-size="34" fill="#444" stroke="#444" stroke-width="0.6" text-anchor="middle">376</text>
<text transform="translate(230.76 1657.2) scale(1 1.06)" font-size="34" fill="#444" stroke="#444" stroke-width="0.6" text-anchor="middle">378</text>
<text transform="translate(117.7 1657.2) scale(1 1.06)" font-size="34" fill="#444" stroke="#444" stroke-width="0.6" text-anchor="middle">380</text>
<text x="411" y="1716.1" font-size="48.8" font-weight="bold" fill="#000" text-anchor="start"><tspan>Binding energy (eV)</tspan></text>
<text x="0" y="0" transform="translate(81.6 1255.2) rotate(-90)" font-size="49.1" font-weight="bold" fill="#000" text-anchor="middle"><tspan>Intensity (a.u.)</tspan></text>
<text x="418" y="1100.4" font-size="42" font-weight="bold" fill="#000" text-anchor="start"><tspan>Ag 3d</tspan><tspan font-size="25" dy="14" fill="#333">3/2</tspan></text>
<text x="755.5" y="978.7" font-size="42" font-weight="bold" fill="#000" text-anchor="start"><tspan>Ag 3d</tspan><tspan font-size="25" dy="14" fill="#333">5/2</tspan></text>
<text x="413" y="1170.5" font-size="30.7" font-weight="bold" fill="#222" text-anchor="start"><tspan>373.63 eV</tspan></text>
<text x="751" y="1034.5" font-size="30.9" font-weight="bold" fill="#222" text-anchor="start"><tspan>367.63 eV</tspan></text>
<text x="1128" y="963.7" font-size="57.9" fill="#000" stroke-linejoin="round"><tspan stroke="#000" stroke-width="1.7">(</tspan><tspan font-weight="bold" stroke="#000" stroke-width="0.2">d</tspan><tspan stroke="#000" stroke-width="1.7">)</tspan></text>
<path d="M1226.6 1264.13 L1229.18 1264.13 L1231.75 1264.14 L1234.33 1264.15 L1236.91 1264.16 L1239.49 1264.17 L1242.06 1264.18 L1244.64 1264.18 L1247.22 1264.19 L1249.8 1264.2 L1252.37 1264.21 L1254.95 1264.22 L1257.53 1264.23 L1260.11 1264.23 L1262.68 1264.24 L1265.26 1264.25 L1267.84 1264.26 L1270.42 1264.26 L1272.99 1264.27 L1275.57 1264.28 L1278.15 1264.29 L1280.73 1264.3 L1283.3 1264.3 L1285.88 1264.31 L1288.46 1264.32 L1291.04 1264.33 L1293.61 1264.33 L1296.19 1264.34 L1298.77 1264.35 L1301.35 1264.36 L1303.92 1264.36 L1306.5 1264.37 L1309.08 1264.38 L1311.66 1264.39 L1314.23 1264.39 L1316.81 1264.4 L1319.39 1264.41 L1321.97 1264.41 L1324.54 1264.42 L1327.12 1264.43 L1329.7 1264.43 L1332.28 1264.44 L1334.85 1264.45 L1337.43 1264.45 L1340.01 1264.46 L1342.58 1264.47 L1345.16 1264.47 L1347.74 1264.48 L1350.32 1264.49 L1352.89 1264.49 L1355.47 1264.5 L1358.05 1264.51 L1360.63 1264.51 L1363.2 1264.52 L1365.78 1264.52 L1368.36 1264.53 L1370.94 1264.53 L1373.51 1264.54 L1376.09 1264.55 L1378.67 1264.55 L1381.25 1264.56 L1383.82 1264.56 L1386.4 1264.57 L1388.98 1264.57 L1391.56 1264.58 L1394.13 1264.58 L1396.71 1264.59 L1399.29 1264.59 L1401.87 1264.6 L1404.44 1264.6 L1407.02 1264.61 L1409.6 1264.61 L1412.18 1264.62 L1414.75 1264.62 L1417.33 1264.62 L1419.91 1264.63 L1422.49 1264.63 L1425.06 1264.64 L1427.64 1264.64 L1430.22 1264.64 L1432.8 1264.65 L1435.37 1264.65 L1437.95 1264.65 L1440.53 1264.66 L1443.11 1264.66 L1445.68 1264.66 L1448.26 1264.67 L1450.84 1264.67 L1453.42 1264.67 L1455.99 1264.67 L1458.57 1264.68 L1461.15 1264.68 L1463.72 1264.68 L1466.3 1264.68 L1468.88 1264.68 L1471.46 1264.69 L1474.03 1264.69 L1476.61 1264.69 L1479.19 1264.69 L1481.77 1264.69 L1484.34 1264.69 L1486.92 1264.69 L1489.5 1264.69 L1492.08 1264.69 L1494.65 1264.69 L1497.23 1264.69 L1499.81 1264.69 L1502.39 1264.69 L1504.96 1264.69 L1507.54 1264.69 L1510.12 1264.69 L1512.7 1264.68 L1515.27 1264.68 L1517.85 1264.68 L1520.43 1264.68 L1523.01 1264.68 L1525.58 1264.67 L1528.16 1264.67 L1530.74 1264.67 L1533.32 1264.66 L1535.89 1264.66 L1538.47 1264.65 L1541.05 1264.65 L1543.63 1264.65 L1546.2 1264.64 L1548.78 1264.64 L1551.36 1264.63 L1553.94 1264.62 L1556.51 1264.62 L1559.09 1264.61 L1561.67 1264.6 L1564.25 1264.6 L1566.82 1264.59 L1569.4 1264.58 L1571.98 1264.57 L1574.55 1264.56 L1577.13 1264.55 L1579.71 1264.54 L1582.29 1264.53 L1584.86 1264.52 L1587.44 1264.51 L1590.02 1264.5 L1592.6 1264.49 L1595.17 1264.47 L1597.75 1264.46 L1600.33 1264.45 L1602.91 1264.43 L1605.48 1264.42 L1608.06 1264.4 L1610.64 1264.38 L1613.22 1264.37 L1615.79 1264.35 L1618.37 1264.33 L1620.95 1264.31 L1623.53 1264.29 L1626.1 1264.27 L1628.68 1264.25 L1631.26 1264.23 L1633.84 1264.2 L1636.41 1264.18 L1638.99 1264.16 L1641.57 1264.13 L1644.15 1264.1 L1646.72 1264.08 L1649.3 1264.05 L1651.88 1264.02 L1654.46 1263.99 L1657.03 1263.95 L1659.61 1263.92 L1662.19 1263.89 L1664.77 1263.85 L1667.34 1263.81 L1669.92 1263.77 L1672.5 1263.73 L1675.08 1263.69 L1677.65 1263.64 L1680.23 1263.6 L1682.81 1263.55 L1685.38 1263.5 L1687.96 1263.44 L1690.54 1263.38 L1693.12 1263.32 L1695.69 1263.26 L1698.27 1263.19 L1700.85 1263.12 L1703.43 1263.04 L1706 1262.96 L1708.58 1262.87 L1711.16 1262.78 L1713.74 1262.67 L1716.31 1262.56 L1718.89 1262.44 L1721.47 1262.32 L1724.05 1262.18 L1726.62 1262.02 L1729.2 1261.86 L1731.78 1261.68 L1734.36 1261.48 L1736.93 1261.26 L1739.51 1261.02 L1742.09 1260.76 L1744.67 1260.48 L1747.24 1260.16 L1749.82 1259.81 L1752.4 1259.43 L1754.98 1259.01 L1757.55 1258.55 L1760.13 1258.05 L1762.71 1257.49 L1765.29 1256.88 L1767.86 1256.21 L1770.44 1255.47 L1773.02 1254.67 L1775.6 1253.78 L1778.17 1252.82 L1780.75 1251.77 L1783.33 1250.62 L1785.91 1249.37 L1788.48 1248.02 L1791.06 1246.55 L1793.64 1244.95 L1796.22 1243.23 L1798.79 1241.37 L1801.37 1239.36 L1803.95 1237.21 L1806.52 1234.89 L1809.1 1232.41 L1811.68 1229.76 L1814.26 1226.93 L1816.83 1223.92 L1819.41 1220.72 L1821.99 1217.33 L1824.57 1213.74 L1827.14 1209.95 L1829.72 1205.97 L1832.3 1201.78 L1834.88 1197.39 L1837.45 1192.8 L1840.03 1188.02 L1842.61 1183.04 L1845.19 1177.88 L1847.76 1172.54 L1850.34 1167.03 L1852.92 1161.35 L1855.5 1155.53 L1858.07 1149.57 L1860.65 1143.48 L1863.23 1137.3 L1865.81 1131.02 L1868.38 1124.68 L1870.96 1118.29 L1873.54 1111.88 L1876.12 1105.47 L1878.69 1099.08 L1881.27 1092.75 L1883.85 1086.5 L1886.43 1080.35 L1889 1074.35 L1891.58 1068.52 L1894.16 1062.88 L1896.74 1057.48 L1899.31 1052.35 L1901.89 1047.51 L1904.47 1042.99 L1907.05 1038.83 L1909.62 1035.06 L1912.2 1031.7 L1914.78 1028.78 L1917.35 1026.32 L1919.93 1024.33 L1922.51 1022.85 L1925.09 1021.87 L1927.66 1021.4 L1930.24 1021.47 L1932.82 1022.13 L1935.4 1023.38 L1937.97 1025.2 L1940.55 1027.58 L1943.13 1030.5 L1945.71 1033.93 L1948.28 1037.84 L1950.86 1042.21 L1953.44 1046.98 L1956.02 1052.14 L1958.59 1057.64 L1961.17 1063.45 L1963.75 1069.51 L1966.33 1075.8 L1968.9 1082.28 L1971.48 1088.91 L1974.06 1095.66 L1976.64 1102.48 L1979.21 1109.35 L1981.79 1116.24 L1984.37 1123.1 L1986.95 1129.93 L1989.52 1136.68 L1992.1 1143.33 L1994.68 1149.87 L1997.26 1156.27 L1999.83 1162.51 L2002.41 1168.58 L2004.99 1174.47 L2007.57 1180.16 L2010.14 1185.63 L2012.72 1190.9 L2015.3 1195.94 L2017.88 1200.75 L2020.45 1205.34 L2023.03 1209.69 L2025.61 1213.82 L2028.18 1217.71 L2030.76 1221.39 L2033.34 1224.84 L2035.92 1228.08 L2038.49 1231.11 L2041.07 1233.94 L2043.65 1236.57 L2046.23 1239.02 L2048.8 1241.29 L2051.38 1243.38 L2053.96 1245.32 L2056.54 1247.11 L2059.11 1248.75 L2061.69 1250.26 L2064.27 1251.64 L2066.85 1252.9 L2069.42 1254.06 L2072 1255.11 L2074.58 1256.07 L2077.16 1256.94 L2079.73 1257.74 L2082.31 1258.46 L2084.89 1259.12 L2087.47 1259.71 L2090.04 1260.25 L2092.62 1260.74 L2095.2 1261.19 L2097.78 1261.6 L2100.35 1261.96 L2102.93 1262.3 L2105.51 1262.6 L2108.09 1262.88 L2110.66 1263.14 L2113.24 1263.37 L2115.82 1263.58 L2118.4 1263.78 L2120.97 1263.96 L2123.55 1264.13 L2126.13 1264.29 L2128.71 1264.43 L2131.28 1264.57 L2133.86 1264.69 L2136.44 1264.81 L2139.02 1264.93 L2141.59 1265.03 L2144.17 1265.13 L2146.75 1265.23 L2149.32 1265.32 L2151.9 1265.41 L2154.48 1265.49 L2157.06 1265.57 L2159.63 1265.65 L2162.21 1265.73 L2164.79 1265.8 L2167.37 1265.87 L2169.94 1265.94 L2172.52 1266 L2175.1 1266.07 L2177.68 1266.13 L2180.25 1266.19 L2182.83 1266.25 L2185.41 1266.31 L2187.99 1266.36 L2190.56 1266.42 L2193.14 1266.47 L2195.72 1266.52 L2198.3 1266.57 L2200.87 1266.62 L2203.45 1266.67 L2206.03 1266.72 L2208.61 1266.77 L2211.18 1266.82 L2213.76 1266.86 L2216.34 1266.91 L2218.92 1266.95 L2221.49 1266.99 L2224.07 1267.03 L2226.65 1267.08 L2229.23 1267.12 L2231.8 1267.16 L2234.38 1267.19 L2236.96 1267.23 L2239.54 1267.27 L2242.11 1267.31 L2244.69 1267.35 L2247.27 1267.38 L2249.85 1267.42 L2252.42 1267.45 L2255 1267.49 L2255 1268.99 L2252.42 1268.98 L2249.85 1268.97 L2247.27 1268.96 L2244.69 1268.95 L2242.11 1268.94 L2239.54 1268.93 L2236.96 1268.91 L2234.38 1268.9 L2231.8 1268.89 L2229.23 1268.88 L2226.65 1268.87 L2224.07 1268.86 L2221.49 1268.85 L2218.92 1268.84 L2216.34 1268.82 L2213.76 1268.81 L2211.18 1268.8 L2208.61 1268.79 L2206.03 1268.78 L2203.45 1268.77 L2200.87 1268.76 L2198.3 1268.75 L2195.72 1268.73 L2193.14 1268.72 L2190.56 1268.71 L2187.99 1268.7 L2185.41 1268.69 L2182.83 1268.68 L2180.25 1268.67 L2177.68 1268.66 L2175.1 1268.64 L2172.52 1268.63 L2169.94 1268.62 L2167.37 1268.61 L2164.79 1268.6 L2162.21 1268.59 L2159.63 1268.58 L2157.06 1268.57 L2154.48 1268.55 L2151.9 1268.54 L2149.32 1268.53 L2146.75 1268.52 L2144.17 1268.51 L2141.59 1268.5 L2139.02 1268.49 L2136.44 1268.48 L2133.86 1268.46 L2131.28 1268.45 L2128.71 1268.44 L2126.13 1268.43 L2123.55 1268.42 L2120.97 1268.41 L2118.4 1268.4 L2115.82 1268.39 L2113.24 1268.37 L2110.66 1268.36 L2108.09 1268.35 L2105.51 1268.34 L2102.93 1268.33 L2100.35 1268.32 L2097.78 1268.31 L2095.2 1268.3 L2092.62 1268.28 L2090.04 1268.27 L2087.47 1268.26 L2084.89 1268.25 L2082.31 1268.24 L2079.73 1268.23 L2077.16 1268.22 L2074.58 1268.21 L2072 1268.2 L2069.42 1268.18 L2066.85 1268.17 L2064.27 1268.16 L2061.69 1268.15 L2059.11 1268.14 L2056.54 1268.13 L2053.96 1268.12 L2051.38 1268.11 L2048.8 1268.09 L2046.23 1268.08 L2043.65 1268.07 L2041.07 1268.06 L2038.49 1268.05 L2035.92 1268.04 L2033.34 1268.03 L2030.76 1268.02 L2028.18 1268 L2025.61 1267.99 L2023.03 1267.98 L2020.45 1267.97 L2017.88 1267.96 L2015.3 1267.95 L2012.72 1267.94 L2010.14 1267.93 L2007.57 1267.91 L2004.99 1267.9 L2002.41 1267.89 L1999.83 1267.88 L1997.26 1267.87 L1994.68 1267.86 L1992.1 1267.85 L1989.52 1267.84 L1986.95 1267.82 L1984.37 1267.81 L1981.79 1267.8 L1979.21 1267.79 L1976.64 1267.78 L1974.06 1267.77 L1971.48 1267.76 L1968.9 1267.75 L1966.33 1267.73 L1963.75 1267.72 L1961.17 1267.71 L1958.59 1267.7 L1956.02 1267.69 L1953.44 1267.68 L1950.86 1267.67 L1948.28 1267.66 L1945.71 1267.64 L1943.13 1267.63 L1940.55 1267.62 L1937.97 1267.61 L1935.4 1267.6 L1932.82 1267.59 L1930.24 1267.58 L1927.66 1267.57 L1925.09 1267.55 L1922.51 1267.54 L1919.93 1267.53 L1917.35 1267.52 L1914.78 1267.51 L1912.2 1267.5 L1909.62 1267.49 L1907.05 1267.48 L1904.47 1267.46 L1901.89 1267.45 L1899.31 1267.44 L1896.74 1267.43 L1894.16 1267.42 L1891.58 1267.41 L1889 1267.4 L1886.43 1267.39 L1883.85 1267.37 L1881.27 1267.36 L1878.69 1267.35 L1876.12 1267.34 L1873.54 1267.33 L1870.96 1267.32 L1868.38 1267.31 L1865.81 1267.3 L1863.23 1267.28 L1860.65 1267.27 L1858.07 1267.26 L1855.5 1267.25 L1852.92 1267.24 L1850.34 1267.23 L1847.76 1267.22 L1845.19 1267.21 L1842.61 1267.19 L1840.03 1267.18 L1837.45 1267.17 L1834.88 1267.16 L1832.3 1267.15 L1829.72 1267.14 L1827.14 1267.13 L1824.57 1267.12 L1821.99 1267.1 L1819.41 1267.09 L1816.83 1267.08 L1814.26 1267.07 L1811.68 1267.06 L1809.1 1267.05 L1806.52 1267.04 L1803.95 1267.03 L1801.37 1267.01 L1798.79 1267 L1796.22 1266.99 L1793.64 1266.98 L1791.06 1266.97 L1788.48 1266.96 L1785.91 1266.95 L1783.33 1266.94 L1780.75 1266.93 L1778.17 1266.91 L1775.6 1266.9 L1773.02 1266.89 L1770.44 1266.88 L1767.86 1266.87 L1765.29 1266.86 L1762.71 1266.85 L1760.13 1266.84 L1757.55 1266.82 L1754.98 1266.81 L1752.4 1266.8 L1749.82 1266.79 L1747.24 1266.78 L1744.67 1266.77 L1742.09 1266.76 L1739.51 1266.75 L1736.93 1266.73 L1734.36 1266.72 L1731.78 1266.71 L1729.2 1266.7 L1726.62 1266.69 L1724.05 1266.68 L1721.47 1266.67 L1718.89 1266.66 L1716.31 1266.64 L1713.74 1266.63 L1711.16 1266.62 L1708.58 1266.61 L1706 1266.6 L1703.43 1266.59 L1700.85 1266.58 L1698.27 1266.57 L1695.69 1266.55 L1693.12 1266.54 L1690.54 1266.53 L1687.96 1266.52 L1685.38 1266.51 L1682.81 1266.5 L1680.23 1266.49 L1677.65 1266.48 L1675.08 1266.46 L1672.5 1266.45 L1669.92 1266.44 L1667.34 1266.43 L1664.77 1266.42 L1662.19 1266.41 L1659.61 1266.4 L1657.03 1266.39 L1654.46 1266.37 L1651.88 1266.36 L1649.3 1266.35 L1646.72 1266.34 L1644.15 1266.33 L1641.57 1266.32 L1638.99 1266.31 L1636.41 1266.3 L1633.84 1266.28 L1631.26 1266.27 L1628.68 1266.26 L1626.1 1266.25 L1623.53 1266.24 L1620.95 1266.23 L1618.37 1266.22 L1615.79 1266.21 L1613.22 1266.19 L1610.64 1266.18 L1608.06 1266.17 L1605.48 1266.16 L1602.91 1266.15 L1600.33 1266.14 L1597.75 1266.13 L1595.17 1266.12 L1592.6 1266.1 L1590.02 1266.09 L1587.44 1266.08 L1584.86 1266.07 L1582.29 1266.06 L1579.71 1266.05 L1577.13 1266.04 L1574.55 1266.03 L1571.98 1266.01 L1569.4 1266 L1566.82 1265.99 L1564.25 1265.98 L1561.67 1265.97 L1559.09 1265.96 L1556.51 1265.95 L1553.94 1265.94 L1551.36 1265.92 L1548.78 1265.91 L1546.2 1265.9 L1543.63 1265.89 L1541.05 1265.88 L1538.47 1265.87 L1535.89 1265.86 L1533.32 1265.85 L1530.74 1265.83 L1528.16 1265.82 L1525.58 1265.81 L1523.01 1265.8 L1520.43 1265.79 L1517.85 1265.78 L1515.27 1265.77 L1512.7 1265.76 L1510.12 1265.74 L1507.54 1265.73 L1504.96 1265.72 L1502.39 1265.71 L1499.81 1265.7 L1497.23 1265.69 L1494.65 1265.68 L1492.08 1265.67 L1489.5 1265.66 L1486.92 1265.64 L1484.34 1265.63 L1481.77 1265.62 L1479.19 1265.61 L1476.61 1265.6 L1474.03 1265.59 L1471.46 1265.58 L1468.88 1265.57 L1466.3 1265.55 L1463.72 1265.54 L1461.15 1265.53 L1458.57 1265.52 L1455.99 1265.51 L1453.42 1265.5 L1450.84 1265.49 L1448.26 1265.48 L1445.68 1265.46 L1443.11 1265.45 L1440.53 1265.44 L1437.95 1265.43 L1435.37 1265.42 L1432.8 1265.41 L1430.22 1265.4 L1427.64 1265.39 L1425.06 1265.37 L1422.49 1265.36 L1419.91 1265.35 L1417.33 1265.34 L1414.75 1265.33 L1412.18 1265.32 L1409.6 1265.31 L1407.02 1265.3 L1404.44 1265.28 L1401.87 1265.27 L1399.29 1265.26 L1396.71 1265.25 L1394.13 1265.24 L1391.56 1265.23 L1388.98 1265.22 L1386.4 1265.21 L1383.82 1265.19 L1381.25 1265.18 L1378.67 1265.17 L1376.09 1265.16 L1373.51 1265.15 L1370.94 1265.14 L1368.36 1265.13 L1365.78 1265.12 L1363.2 1265.1 L1360.63 1265.09 L1358.05 1265.08 L1355.47 1265.07 L1352.89 1265.06 L1350.32 1265.05 L1347.74 1265.04 L1345.16 1265.03 L1342.58 1265.01 L1340.01 1265 L1337.43 1264.99 L1334.85 1264.98 L1332.28 1264.97 L1329.7 1264.96 L1327.12 1264.95 L1324.54 1264.94 L1321.97 1264.92 L1319.39 1264.91 L1316.81 1264.9 L1314.23 1264.89 L1311.66 1264.88 L1309.08 1264.87 L1306.5 1264.86 L1303.92 1264.85 L1301.35 1264.83 L1298.77 1264.82 L1296.19 1264.81 L1293.61 1264.8 L1291.04 1264.79 L1288.46 1264.78 L1285.88 1264.77 L1283.3 1264.76 L1280.73 1264.74 L1278.15 1264.73 L1275.57 1264.72 L1272.99 1264.71 L1270.42 1264.7 L1267.84 1264.69 L1265.26 1264.68 L1262.68 1264.67 L1260.11 1264.65 L1257.53 1264.64 L1254.95 1264.63 L1252.37 1264.62 L1249.8 1264.61 L1247.22 1264.6 L1244.64 1264.59 L1242.06 1264.58 L1239.49 1264.56 L1236.91 1264.55 L1234.33 1264.54 L1231.75 1264.53 L1229.18 1264.52 L1226.6 1264.51 Z" fill="url(#gB)" stroke="none"/>
<path d="M1226.6 1264.13 L1229.18 1264.13 L1231.75 1264.14 L1234.33 1264.15 L1236.91 1264.16 L1239.49 1264.17 L1242.06 1264.18 L1244.64 1264.18 L1247.22 1264.19 L1249.8 1264.2 L1252.37 1264.21 L1254.95 1264.22 L1257.53 1264.23 L1260.11 1264.23 L1262.68 1264.24 L1265.26 1264.25 L1267.84 1264.26 L1270.42 1264.26 L1272.99 1264.27 L1275.57 1264.28 L1278.15 1264.29 L1280.73 1264.3 L1283.3 1264.3 L1285.88 1264.31 L1288.46 1264.32 L1291.04 1264.33 L1293.61 1264.33 L1296.19 1264.34 L1298.77 1264.35 L1301.35 1264.36 L1303.92 1264.36 L1306.5 1264.37 L1309.08 1264.38 L1311.66 1264.39 L1314.23 1264.39 L1316.81 1264.4 L1319.39 1264.41 L1321.97 1264.41 L1324.54 1264.42 L1327.12 1264.43 L1329.7 1264.43 L1332.28 1264.44 L1334.85 1264.45 L1337.43 1264.45 L1340.01 1264.46 L1342.58 1264.47 L1345.16 1264.47 L1347.74 1264.48 L1350.32 1264.49 L1352.89 1264.49 L1355.47 1264.5 L1358.05 1264.51 L1360.63 1264.51 L1363.2 1264.52 L1365.78 1264.52 L1368.36 1264.53 L1370.94 1264.53 L1373.51 1264.54 L1376.09 1264.55 L1378.67 1264.55 L1381.25 1264.56 L1383.82 1264.56 L1386.4 1264.57 L1388.98 1264.57 L1391.56 1264.58 L1394.13 1264.58 L1396.71 1264.59 L1399.29 1264.59 L1401.87 1264.6 L1404.44 1264.6 L1407.02 1264.61 L1409.6 1264.61 L1412.18 1264.62 L1414.75 1264.62 L1417.33 1264.62 L1419.91 1264.63 L1422.49 1264.63 L1425.06 1264.64 L1427.64 1264.64 L1430.22 1264.64 L1432.8 1264.65 L1435.37 1264.65 L1437.95 1264.65 L1440.53 1264.66 L1443.11 1264.66 L1445.68 1264.66 L1448.26 1264.67 L1450.84 1264.67 L1453.42 1264.67 L1455.99 1264.67 L1458.57 1264.68 L1461.15 1264.68 L1463.72 1264.68 L1466.3 1264.68 L1468.88 1264.68 L1471.46 1264.69 L1474.03 1264.69 L1476.61 1264.69 L1479.19 1264.69 L1481.77 1264.69 L1484.34 1264.69 L1486.92 1264.69 L1489.5 1264.69 L1492.08 1264.69 L1494.65 1264.69 L1497.23 1264.69 L1499.81 1264.69 L1502.39 1264.69 L1504.96 1264.69 L1507.54 1264.69 L1510.12 1264.69 L1512.7 1264.68 L1515.27 1264.68 L1517.85 1264.68 L1520.43 1264.68 L1523.01 1264.68 L1525.58 1264.67 L1528.16 1264.67 L1530.74 1264.67 L1533.32 1264.66 L1535.89 1264.66 L1538.47 1264.65 L1541.05 1264.65 L1543.63 1264.65 L1546.2 1264.64 L1548.78 1264.64 L1551.36 1264.63 L1553.94 1264.62 L1556.51 1264.62 L1559.09 1264.61 L1561.67 1264.6 L1564.25 1264.6 L1566.82 1264.59 L1569.4 1264.58 L1571.98 1264.57 L1574.55 1264.56 L1577.13 1264.55 L1579.71 1264.54 L1582.29 1264.53 L1584.86 1264.52 L1587.44 1264.51 L1590.02 1264.5 L1592.6 1264.49 L1595.17 1264.47 L1597.75 1264.46 L1600.33 1264.45 L1602.91 1264.43 L1605.48 1264.42 L1608.06 1264.4 L1610.64 1264.38 L1613.22 1264.37 L1615.79 1264.35 L1618.37 1264.33 L1620.95 1264.31 L1623.53 1264.29 L1626.1 1264.27 L1628.68 1264.25 L1631.26 1264.23 L1633.84 1264.2 L1636.41 1264.18 L1638.99 1264.16 L1641.57 1264.13 L1644.15 1264.1 L1646.72 1264.08 L1649.3 1264.05 L1651.88 1264.02 L1654.46 1263.99 L1657.03 1263.95 L1659.61 1263.92 L1662.19 1263.89 L1664.77 1263.85 L1667.34 1263.81 L1669.92 1263.77 L1672.5 1263.73 L1675.08 1263.69 L1677.65 1263.64 L1680.23 1263.6 L1682.81 1263.55 L1685.38 1263.5 L1687.96 1263.44 L1690.54 1263.38 L1693.12 1263.32 L1695.69 1263.26 L1698.27 1263.19 L1700.85 1263.12 L1703.43 1263.04 L1706 1262.96 L1708.58 1262.87 L1711.16 1262.78 L1713.74 1262.67 L1716.31 1262.56 L1718.89 1262.44 L1721.47 1262.32 L1724.05 1262.18 L1726.62 1262.02 L1729.2 1261.86 L1731.78 1261.68 L1734.36 1261.48 L1736.93 1261.26 L1739.51 1261.02 L1742.09 1260.76 L1744.67 1260.48 L1747.24 1260.16 L1749.82 1259.81 L1752.4 1259.43 L1754.98 1259.01 L1757.55 1258.55 L1760.13 1258.05 L1762.71 1257.49 L1765.29 1256.88 L1767.86 1256.21 L1770.44 1255.47 L1773.02 1254.67 L1775.6 1253.78 L1778.17 1252.82 L1780.75 1251.77 L1783.33 1250.62 L1785.91 1249.37 L1788.48 1248.02 L1791.06 1246.55 L1793.64 1244.95 L1796.22 1243.23 L1798.79 1241.37 L1801.37 1239.36 L1803.95 1237.21 L1806.52 1234.89 L1809.1 1232.41 L1811.68 1229.76 L1814.26 1226.93 L1816.83 1223.92 L1819.41 1220.72 L1821.99 1217.33 L1824.57 1213.74 L1827.14 1209.95 L1829.72 1205.97 L1832.3 1201.78 L1834.88 1197.39 L1837.45 1192.8 L1840.03 1188.02 L1842.61 1183.04 L1845.19 1177.88 L1847.76 1172.54 L1850.34 1167.03 L1852.92 1161.35 L1855.5 1155.53 L1858.07 1149.57 L1860.65 1143.48 L1863.23 1137.3 L1865.81 1131.02 L1868.38 1124.68 L1870.96 1118.29 L1873.54 1111.88 L1876.12 1105.47 L1878.69 1099.08 L1881.27 1092.75 L1883.85 1086.5 L1886.43 1080.35 L1889 1074.35 L1891.58 1068.52 L1894.16 1062.88 L1896.74 1057.48 L1899.31 1052.35 L1901.89 1047.51 L1904.47 1042.99 L1907.05 1038.83 L1909.62 1035.06 L1912.2 1031.7 L1914.78 1028.78 L1917.35 1026.32 L1919.93 1024.33 L1922.51 1022.85 L1925.09 1021.87 L1927.66 1021.4 L1930.24 1021.47 L1932.82 1022.13 L1935.4 1023.38 L1937.97 1025.2 L1940.55 1027.58 L1943.13 1030.5 L1945.71 1033.93 L1948.28 1037.84 L1950.86 1042.21 L1953.44 1046.98 L1956.02 1052.14 L1958.59 1057.64 L1961.17 1063.45 L1963.75 1069.51 L1966.33 1075.8 L1968.9 1082.28 L1971.48 1088.91 L1974.06 1095.66 L1976.64 1102.48 L1979.21 1109.35 L1981.79 1116.24 L1984.37 1123.1 L1986.95 1129.93 L1989.52 1136.68 L1992.1 1143.33 L1994.68 1149.87 L1997.26 1156.27 L1999.83 1162.51 L2002.41 1168.58 L2004.99 1174.47 L2007.57 1180.16 L2010.14 1185.63 L2012.72 1190.9 L2015.3 1195.94 L2017.88 1200.75 L2020.45 1205.34 L2023.03 1209.69 L2025.61 1213.82 L2028.18 1217.71 L2030.76 1221.39 L2033.34 1224.84 L2035.92 1228.08 L2038.49 1231.11 L2041.07 1233.94 L2043.65 1236.57 L2046.23 1239.02 L2048.8 1241.29 L2051.38 1243.38 L2053.96 1245.32 L2056.54 1247.11 L2059.11 1248.75 L2061.69 1250.26 L2064.27 1251.64 L2066.85 1252.9 L2069.42 1254.06 L2072 1255.11 L2074.58 1256.07 L2077.16 1256.94 L2079.73 1257.74 L2082.31 1258.46 L2084.89 1259.12 L2087.47 1259.71 L2090.04 1260.25 L2092.62 1260.74 L2095.2 1261.19 L2097.78 1261.6 L2100.35 1261.96 L2102.93 1262.3 L2105.51 1262.6 L2108.09 1262.88 L2110.66 1263.14 L2113.24 1263.37 L2115.82 1263.58 L2118.4 1263.78 L2120.97 1263.96 L2123.55 1264.13 L2126.13 1264.29 L2128.71 1264.43 L2131.28 1264.57 L2133.86 1264.69 L2136.44 1264.81 L2139.02 1264.93 L2141.59 1265.03 L2144.17 1265.13 L2146.75 1265.23 L2149.32 1265.32 L2151.9 1265.41 L2154.48 1265.49 L2157.06 1265.57 L2159.63 1265.65 L2162.21 1265.73 L2164.79 1265.8 L2167.37 1265.87 L2169.94 1265.94 L2172.52 1266 L2175.1 1266.07 L2177.68 1266.13 L2180.25 1266.19 L2182.83 1266.25 L2185.41 1266.31 L2187.99 1266.36 L2190.56 1266.42 L2193.14 1266.47 L2195.72 1266.52 L2198.3 1266.57 L2200.87 1266.62 L2203.45 1266.67 L2206.03 1266.72 L2208.61 1266.77 L2211.18 1266.82 L2213.76 1266.86 L2216.34 1266.91 L2218.92 1266.95 L2221.49 1266.99 L2224.07 1267.03 L2226.65 1267.08 L2229.23 1267.12 L2231.8 1267.16 L2234.38 1267.19 L2236.96 1267.23 L2239.54 1267.27 L2242.11 1267.31 L2244.69 1267.35 L2247.27 1267.38 L2249.85 1267.42 L2252.42 1267.45 L2255 1267.49" fill="none" stroke="#c8c8ff" stroke-width="1.2" stroke-linejoin="round" stroke-linecap="round"/>
<path d="M1226.6 1263.8 L1229.18 1263.79 L1231.75 1263.78 L1234.33 1263.77 L1236.91 1263.76 L1239.49 1263.75 L1242.06 1263.74 L1244.64 1263.72 L1247.22 1263.71 L1249.8 1263.69 L1252.37 1263.67 L1254.95 1263.65 L1257.53 1263.63 L1260.11 1263.61 L1262.68 1263.58 L1265.26 1263.56 L1267.84 1263.53 L1270.42 1263.5 L1272.99 1263.47 L1275.57 1263.43 L1278.15 1263.4 L1280.73 1263.36 L1283.3 1263.31 L1285.88 1263.27 L1288.46 1263.22 L1291.04 1263.17 L1293.61 1263.12 L1296.19 1263.06 L1298.77 1263.01 L1301.35 1262.94 L1303.92 1262.88 L1306.5 1262.81 L1309.08 1262.73 L1311.66 1262.66 L1314.23 1262.57 L1316.81 1262.49 L1319.39 1262.4 L1321.97 1262.3 L1324.54 1262.2 L1327.12 1262.1 L1329.7 1261.99 L1332.28 1261.87 L1334.85 1261.75 L1337.43 1261.63 L1340.01 1261.5 L1342.58 1261.36 L1345.16 1261.21 L1347.74 1261.06 L1350.32 1260.9 L1352.89 1260.74 L1355.47 1260.56 L1358.05 1260.38 L1360.63 1260.2 L1363.2 1260 L1365.78 1259.8 L1368.36 1259.58 L1370.94 1259.36 L1373.51 1259.13 L1376.09 1258.89 L1378.67 1258.64 L1381.25 1258.38 L1383.82 1258.11 L1386.4 1257.84 L1388.98 1257.55 L1391.56 1257.25 L1394.13 1256.93 L1396.71 1256.61 L1399.29 1256.28 L1401.87 1255.93 L1404.44 1255.57 L1407.02 1255.2 L1409.6 1254.82 L1412.18 1254.42 L1414.75 1254.02 L1417.33 1253.59 L1419.91 1253.16 L1422.49 1252.71 L1425.06 1252.24 L1427.64 1251.77 L1430.22 1251.27 L1432.8 1250.77 L1435.37 1250.25 L1437.95 1249.71 L1440.53 1249.16 L1443.11 1248.59 L1445.68 1248.01 L1448.26 1247.41 L1450.84 1246.79 L1453.42 1246.16 L1455.99 1245.52 L1458.57 1244.85 L1461.15 1244.17 L1463.72 1243.48 L1466.3 1242.77 L1468.88 1242.04 L1471.46 1241.29 L1474.03 1240.53 L1476.61 1239.75 L1479.19 1238.96 L1481.77 1238.15 L1484.34 1237.32 L1486.92 1236.47 L1489.5 1235.61 L1492.08 1234.74 L1494.65 1233.84 L1497.23 1232.94 L1499.81 1232.01 L1502.39 1231.07 L1504.96 1230.12 L1507.54 1229.15 L1510.12 1228.16 L1512.7 1227.16 L1515.27 1226.15 L1517.85 1225.12 L1520.43 1224.08 L1523.01 1223.03 L1525.58 1221.96 L1528.16 1220.89 L1530.74 1219.8 L1533.32 1218.7 L1535.89 1217.58 L1538.47 1216.46 L1541.05 1215.33 L1543.63 1214.19 L1546.2 1213.04 L1548.78 1211.89 L1551.36 1210.72 L1553.94 1209.55 L1556.51 1208.37 L1559.09 1207.19 L1561.67 1206.01 L1564.25 1204.82 L1566.82 1203.63 L1569.4 1202.43 L1571.98 1201.24 L1574.55 1200.04 L1577.13 1198.85 L1579.71 1197.66 L1582.29 1196.47 L1584.86 1195.28 L1587.44 1194.09 L1590.02 1192.92 L1592.6 1191.74 L1595.17 1190.58 L1597.75 1189.42 L1600.33 1188.27 L1602.91 1187.13 L1605.48 1186 L1608.06 1184.89 L1610.64 1183.78 L1613.22 1182.69 L1615.79 1181.62 L1618.37 1180.56 L1620.95 1179.52 L1623.53 1178.49 L1626.1 1177.49 L1628.68 1176.5 L1631.26 1175.54 L1633.84 1174.59 L1636.41 1173.67 L1638.99 1172.77 L1641.57 1171.9 L1644.15 1171.05 L1646.72 1170.23 L1649.3 1169.44 L1651.88 1168.67 L1654.46 1167.93 L1657.03 1167.23 L1659.61 1166.55 L1662.19 1165.9 L1664.77 1165.29 L1667.34 1164.71 L1669.92 1164.16 L1672.5 1163.64 L1675.08 1163.16 L1677.65 1162.72 L1680.23 1162.31 L1682.81 1161.94 L1685.38 1161.6 L1687.96 1161.3 L1690.54 1161.04 L1693.12 1160.82 L1695.69 1160.63 L1698.27 1160.48 L1700.85 1160.37 L1703.43 1160.3 L1706 1160.27 L1708.58 1160.27 L1711.16 1160.32 L1713.74 1160.42 L1716.31 1160.56 L1718.89 1160.75 L1721.47 1160.98 L1724.05 1161.25 L1726.62 1161.57 L1729.2 1161.93 L1731.78 1162.34 L1734.36 1162.79 L1736.93 1163.28 L1739.51 1163.81 L1742.09 1164.39 L1744.67 1165 L1747.24 1165.65 L1749.82 1166.34 L1752.4 1167.07 L1754.98 1167.83 L1757.55 1168.63 L1760.13 1169.47 L1762.71 1170.34 L1765.29 1171.24 L1767.86 1172.17 L1770.44 1173.13 L1773.02 1174.12 L1775.6 1175.14 L1778.17 1176.18 L1780.75 1177.25 L1783.33 1178.35 L1785.91 1179.46 L1788.48 1180.6 L1791.06 1181.76 L1793.64 1182.94 L1796.22 1184.14 L1798.79 1185.35 L1801.37 1186.58 L1803.95 1187.82 L1806.52 1189.08 L1809.1 1190.35 L1811.68 1191.62 L1814.26 1192.91 L1816.83 1194.21 L1819.41 1195.51 L1821.99 1196.81 L1824.57 1198.13 L1827.14 1199.44 L1829.72 1200.76 L1832.3 1202.08 L1834.88 1203.39 L1837.45 1204.71 L1840.03 1206.02 L1842.61 1207.34 L1845.19 1208.64 L1847.76 1209.94 L1850.34 1211.24 L1852.92 1212.53 L1855.5 1213.81 L1858.07 1215.08 L1860.65 1216.34 L1863.23 1217.6 L1865.81 1218.84 L1868.38 1220.07 L1870.96 1221.28 L1873.54 1222.48 L1876.12 1223.67 L1878.69 1224.85 L1881.27 1226.01 L1883.85 1227.15 L1886.43 1228.28 L1889 1229.4 L1891.58 1230.49 L1894.16 1231.57 L1896.74 1232.63 L1899.31 1233.68 L1901.89 1234.7 L1904.47 1235.71 L1907.05 1236.7 L1909.62 1237.66 L1912.2 1238.62 L1914.78 1239.55 L1917.35 1240.46 L1919.93 1241.35 L1922.51 1242.22 L1925.09 1243.08 L1927.66 1243.91 L1930.24 1244.73 L1932.82 1245.52 L1935.4 1246.3 L1937.97 1247.06 L1940.55 1247.79 L1943.13 1248.51 L1945.71 1249.21 L1948.28 1249.89 L1950.86 1250.56 L1953.44 1251.2 L1956.02 1251.83 L1958.59 1252.44 L1961.17 1253.03 L1963.75 1253.6 L1966.33 1254.16 L1968.9 1254.69 L1971.48 1255.22 L1974.06 1255.72 L1976.64 1256.21 L1979.21 1256.69 L1981.79 1257.15 L1984.37 1257.59 L1986.95 1258.02 L1989.52 1258.43 L1992.1 1258.83 L1994.68 1259.22 L1997.26 1259.59 L1999.83 1259.95 L2002.41 1260.3 L2004.99 1260.63 L2007.57 1260.95 L2010.14 1261.26 L2012.72 1261.56 L2015.3 1261.85 L2017.88 1262.12 L2020.45 1262.39 L2023.03 1262.64 L2025.61 1262.89 L2028.18 1263.12 L2030.76 1263.35 L2033.34 1263.56 L2035.92 1263.77 L2038.49 1263.97 L2041.07 1264.16 L2043.65 1264.35 L2046.23 1264.52 L2048.8 1264.69 L2051.38 1264.86 L2053.96 1265.01 L2056.54 1265.16 L2059.11 1265.3 L2061.69 1265.44 L2064.27 1265.57 L2066.85 1265.69 L2069.42 1265.81 L2072 1265.93 L2074.58 1266.03 L2077.16 1266.14 L2079.73 1266.24 L2082.31 1266.34 L2084.89 1266.43 L2087.47 1266.51 L2090.04 1266.6 L2092.62 1266.68 L2095.2 1266.76 L2097.78 1266.83 L2100.35 1266.9 L2102.93 1266.97 L2105.51 1267.03 L2108.09 1267.09 L2110.66 1267.15 L2113.24 1267.21 L2115.82 1267.26 L2118.4 1267.31 L2120.97 1267.36 L2123.55 1267.41 L2126.13 1267.46 L2128.71 1267.5 L2131.28 1267.55 L2133.86 1267.59 L2136.44 1267.63 L2139.02 1267.66 L2141.59 1267.7 L2144.17 1267.74 L2146.75 1267.77 L2149.32 1267.8 L2151.9 1267.83 L2154.48 1267.87 L2157.06 1267.89 L2159.63 1267.92 L2162.21 1267.95 L2164.79 1267.98 L2167.37 1268 L2169.94 1268.03 L2172.52 1268.05 L2175.1 1268.08 L2177.68 1268.1 L2180.25 1268.13 L2182.83 1268.15 L2185.41 1268.17 L2187.99 1268.19 L2190.56 1268.21 L2193.14 1268.23 L2195.72 1268.25 L2198.3 1268.27 L2200.87 1268.29 L2203.45 1268.31 L2206.03 1268.33 L2208.61 1268.35 L2211.18 1268.36 L2213.76 1268.38 L2216.34 1268.4 L2218.92 1268.42 L2221.49 1268.43 L2224.07 1268.45 L2226.65 1268.47 L2229.23 1268.48 L2231.8 1268.5 L2234.38 1268.52 L2236.96 1268.53 L2239.54 1268.55 L2242.11 1268.56 L2244.69 1268.58 L2247.27 1268.59 L2249.85 1268.61 L2252.42 1268.62 L2255 1268.64 L2255 1268.99 L2252.42 1268.98 L2249.85 1268.97 L2247.27 1268.96 L2244.69 1268.95 L2242.11 1268.94 L2239.54 1268.93 L2236.96 1268.91 L2234.38 1268.9 L2231.8 1268.89 L2229.23 1268.88 L2226.65 1268.87 L2224.07 1268.86 L2221.49 1268.85 L2218.92 1268.84 L2216.34 1268.82 L2213.76 1268.81 L2211.18 1268.8 L2208.61 1268.79 L2206.03 1268.78 L2203.45 1268.77 L2200.87 1268.76 L2198.3 1268.75 L2195.72 1268.73 L2193.14 1268.72 L2190.56 1268.71 L2187.99 1268.7 L2185.41 1268.69 L2182.83 1268.68 L2180.25 1268.67 L2177.68 1268.66 L2175.1 1268.64 L2172.52 1268.63 L2169.94 1268.62 L2167.37 1268.61 L2164.79 1268.6 L2162.21 1268.59 L2159.63 1268.58 L2157.06 1268.57 L2154.48 1268.55 L2151.9 1268.54 L2149.32 1268.53 L2146.75 1268.52 L2144.17 1268.51 L2141.59 1268.5 L2139.02 1268.49 L2136.44 1268.48 L2133.86 1268.46 L2131.28 1268.45 L2128.71 1268.44 L2126.13 1268.43 L2123.55 1268.42 L2120.97 1268.41 L2118.4 1268.4 L2115.82 1268.39 L2113.24 1268.37 L2110.66 1268.36 L2108.09 1268.35 L2105.51 1268.34 L2102.93 1268.33 L2100.35 1268.32 L2097.78 1268.31 L2095.2 1268.3 L2092.62 1268.28 L2090.04 1268.27 L2087.47 1268.26 L2084.89 1268.25 L2082.31 1268.24 L2079.73 1268.23 L2077.16 1268.22 L2074.58 1268.21 L2072 1268.2 L2069.42 1268.18 L2066.85 1268.17 L2064.27 1268.16 L2061.69 1268.15 L2059.11 1268.14 L2056.54 1268.13 L2053.96 1268.12 L2051.38 1268.11 L2048.8 1268.09 L2046.23 1268.08 L2043.65 1268.07 L2041.07 1268.06 L2038.49 1268.05 L2035.92 1268.04 L2033.34 1268.03 L2030.76 1268.02 L2028.18 1268 L2025.61 1267.99 L2023.03 1267.98 L2020.45 1267.97 L2017.88 1267.96 L2015.3 1267.95 L2012.72 1267.94 L2010.14 1267.93 L2007.57 1267.91 L2004.99 1267.9 L2002.41 1267.89 L1999.83 1267.88 L1997.26 1267.87 L1994.68 1267.86 L1992.1 1267.85 L1989.52 1267.84 L1986.95 1267.82 L1984.37 1267.81 L1981.79 1267.8 L1979.21 1267.79 L1976.64 1267.78 L1974.06 1267.77 L1971.48 1267.76 L1968.9 1267.75 L1966.33 1267.73 L1963.75 1267.72 L1961.17 1267.71 L1958.59 1267.7 L1956.02 1267.69 L1953.44 1267.68 L1950.86 1267.67 L1948.28 1267.66 L1945.71 1267.64 L1943.13 1267.63 L1940.55 1267.62 L1937.97 1267.61 L1935.4 1267.6 L1932.82 1267.59 L1930.24 1267.58 L1927.66 1267.57 L1925.09 1267.55 L1922.51 1267.54 L1919.93 1267.53 L1917.35 1267.52 L1914.78 1267.51 L1912.2 1267.5 L1909.62 1267.49 L1907.05 1267.48 L1904.47 1267.46 L1901.89 1267.45 L1899.31 1267.44 L1896.74 1267.43 L1894.16 1267.42 L1891.58 1267.41 L1889 1267.4 L1886.43 1267.39 L1883.85 1267.37 L1881.27 1267.36 L1878.69 1267.35 L1876.12 1267.34 L1873.54 1267.33 L1870.96 1267.32 L1868.38 1267.31 L1865.81 1267.3 L1863.23 1267.28 L1860.65 1267.27 L1858.07 1267.26 L1855.5 1267.25 L1852.92 1267.24 L1850.34 1267.23 L1847.76 1267.22 L1845.19 1267.21 L1842.61 1267.19 L1840.03 1267.18 L1837.45 1267.17 L1834.88 1267.16 L1832.3 1267.15 L1829.72 1267.14 L1827.14 1267.13 L1824.57 1267.12 L1821.99 1267.1 L1819.41 1267.09 L1816.83 1267.08 L1814.26 1267.07 L1811.68 1267.06 L1809.1 1267.05 L1806.52 1267.04 L1803.95 1267.03 L1801.37 1267.01 L1798.79 1267 L1796.22 1266.99 L1793.64 1266.98 L1791.06 1266.97 L1788.48 1266.96 L1785.91 1266.95 L1783.33 1266.94 L1780.75 1266.93 L1778.17 1266.91 L1775.6 1266.9 L1773.02 1266.89 L1770.44 1266.88 L1767.86 1266.87 L1765.29 1266.86 L1762.71 1266.85 L1760.13 1266.84 L1757.55 1266.82 L1754.98 1266.81 L1752.4 1266.8 L1749.82 1266.79 L1747.24 1266.78 L1744.67 1266.77 L1742.09 1266.76 L1739.51 1266.75 L1736.93 1266.73 L1734.36 1266.72 L1731.78 1266.71 L1729.2 1266.7 L1726.62 1266.69 L1724.05 1266.68 L1721.47 1266.67 L1718.89 1266.66 L1716.31 1266.64 L1713.74 1266.63 L1711.16 1266.62 L1708.58 1266.61 L1706 1266.6 L1703.43 1266.59 L1700.85 1266.58 L1698.27 1266.57 L1695.69 1266.55 L1693.12 1266.54 L1690.54 1266.53 L1687.96 1266.52 L1685.38 1266.51 L1682.81 1266.5 L1680.23 1266.49 L1677.65 1266.48 L1675.08 1266.46 L1672.5 1266.45 L1669.92 1266.44 L1667.34 1266.43 L1664.77 1266.42 L1662.19 1266.41 L1659.61 1266.4 L1657.03 1266.39 L1654.46 1266.37 L1651.88 1266.36 L1649.3 1266.35 L1646.72 1266.34 L1644.15 1266.33 L1641.57 1266.32 L1638.99 1266.31 L1636.41 1266.3 L1633.84 1266.28 L1631.26 1266.27 L1628.68 1266.26 L1626.1 1266.25 L1623.53 1266.24 L1620.95 1266.23 L1618.37 1266.22 L1615.79 1266.21 L1613.22 1266.19 L1610.64 1266.18 L1608.06 1266.17 L1605.48 1266.16 L1602.91 1266.15 L1600.33 1266.14 L1597.75 1266.13 L1595.17 1266.12 L1592.6 1266.1 L1590.02 1266.09 L1587.44 1266.08 L1584.86 1266.07 L1582.29 1266.06 L1579.71 1266.05 L1577.13 1266.04 L1574.55 1266.03 L1571.98 1266.01 L1569.4 1266 L1566.82 1265.99 L1564.25 1265.98 L1561.67 1265.97 L1559.09 1265.96 L1556.51 1265.95 L1553.94 1265.94 L1551.36 1265.92 L1548.78 1265.91 L1546.2 1265.9 L1543.63 1265.89 L1541.05 1265.88 L1538.47 1265.87 L1535.89 1265.86 L1533.32 1265.85 L1530.74 1265.83 L1528.16 1265.82 L1525.58 1265.81 L1523.01 1265.8 L1520.43 1265.79 L1517.85 1265.78 L1515.27 1265.77 L1512.7 1265.76 L1510.12 1265.74 L1507.54 1265.73 L1504.96 1265.72 L1502.39 1265.71 L1499.81 1265.7 L1497.23 1265.69 L1494.65 1265.68 L1492.08 1265.67 L1489.5 1265.66 L1486.92 1265.64 L1484.34 1265.63 L1481.77 1265.62 L1479.19 1265.61 L1476.61 1265.6 L1474.03 1265.59 L1471.46 1265.58 L1468.88 1265.57 L1466.3 1265.55 L1463.72 1265.54 L1461.15 1265.53 L1458.57 1265.52 L1455.99 1265.51 L1453.42 1265.5 L1450.84 1265.49 L1448.26 1265.48 L1445.68 1265.46 L1443.11 1265.45 L1440.53 1265.44 L1437.95 1265.43 L1435.37 1265.42 L1432.8 1265.41 L1430.22 1265.4 L1427.64 1265.39 L1425.06 1265.37 L1422.49 1265.36 L1419.91 1265.35 L1417.33 1265.34 L1414.75 1265.33 L1412.18 1265.32 L1409.6 1265.31 L1407.02 1265.3 L1404.44 1265.28 L1401.87 1265.27 L1399.29 1265.26 L1396.71 1265.25 L1394.13 1265.24 L1391.56 1265.23 L1388.98 1265.22 L1386.4 1265.21 L1383.82 1265.19 L1381.25 1265.18 L1378.67 1265.17 L1376.09 1265.16 L1373.51 1265.15 L1370.94 1265.14 L1368.36 1265.13 L1365.78 1265.12 L1363.2 1265.1 L1360.63 1265.09 L1358.05 1265.08 L1355.47 1265.07 L1352.89 1265.06 L1350.32 1265.05 L1347.74 1265.04 L1345.16 1265.03 L1342.58 1265.01 L1340.01 1265 L1337.43 1264.99 L1334.85 1264.98 L1332.28 1264.97 L1329.7 1264.96 L1327.12 1264.95 L1324.54 1264.94 L1321.97 1264.92 L1319.39 1264.91 L1316.81 1264.9 L1314.23 1264.89 L1311.66 1264.88 L1309.08 1264.87 L1306.5 1264.86 L1303.92 1264.85 L1301.35 1264.83 L1298.77 1264.82 L1296.19 1264.81 L1293.61 1264.8 L1291.04 1264.79 L1288.46 1264.78 L1285.88 1264.77 L1283.3 1264.76 L1280.73 1264.74 L1278.15 1264.73 L1275.57 1264.72 L1272.99 1264.71 L1270.42 1264.7 L1267.84 1264.69 L1265.26 1264.68 L1262.68 1264.67 L1260.11 1264.65 L1257.53 1264.64 L1254.95 1264.63 L1252.37 1264.62 L1249.8 1264.61 L1247.22 1264.6 L1244.64 1264.59 L1242.06 1264.58 L1239.49 1264.56 L1236.91 1264.55 L1234.33 1264.54 L1231.75 1264.53 L1229.18 1264.52 L1226.6 1264.51 Z" fill="url(#gM)" stroke="none"/>
<path d="M1226.6 1263.8 L1229.18 1263.79 L1231.75 1263.78 L1234.33 1263.77 L1236.91 1263.76 L1239.49 1263.75 L1242.06 1263.74 L1244.64 1263.72 L1247.22 1263.71 L1249.8 1263.69 L1252.37 1263.67 L1254.95 1263.65 L1257.53 1263.63 L1260.11 1263.61 L1262.68 1263.58 L1265.26 1263.56 L1267.84 1263.53 L1270.42 1263.5 L1272.99 1263.47 L1275.57 1263.43 L1278.15 1263.4 L1280.73 1263.36 L1283.3 1263.31 L1285.88 1263.27 L1288.46 1263.22 L1291.04 1263.17 L1293.61 1263.12 L1296.19 1263.06 L1298.77 1263.01 L1301.35 1262.94 L1303.92 1262.88 L1306.5 1262.81 L1309.08 1262.73 L1311.66 1262.66 L1314.23 1262.57 L1316.81 1262.49 L1319.39 1262.4 L1321.97 1262.3 L1324.54 1262.2 L1327.12 1262.1 L1329.7 1261.99 L1332.28 1261.87 L1334.85 1261.75 L1337.43 1261.63 L1340.01 1261.5 L1342.58 1261.36 L1345.16 1261.21 L1347.74 1261.06 L1350.32 1260.9 L1352.89 1260.74 L1355.47 1260.56 L1358.05 1260.38 L1360.63 1260.2 L1363.2 1260 L1365.78 1259.8 L1368.36 1259.58 L1370.94 1259.36 L1373.51 1259.13 L1376.09 1258.89 L1378.67 1258.64 L1381.25 1258.38 L1383.82 1258.11 L1386.4 1257.84 L1388.98 1257.55 L1391.56 1257.25 L1394.13 1256.93 L1396.71 1256.61 L1399.29 1256.28 L1401.87 1255.93 L1404.44 1255.57 L1407.02 1255.2 L1409.6 1254.82 L1412.18 1254.42 L1414.75 1254.02 L1417.33 1253.59 L1419.91 1253.16 L1422.49 1252.71 L1425.06 1252.24 L1427.64 1251.77 L1430.22 1251.27 L1432.8 1250.77 L1435.37 1250.25 L1437.95 1249.71 L1440.53 1249.16 L1443.11 1248.59 L1445.68 1248.01 L1448.26 1247.41 L1450.84 1246.79 L1453.42 1246.16 L1455.99 1245.52 L1458.57 1244.85 L1461.15 1244.17 L1463.72 1243.48 L1466.3 1242.77 L1468.88 1242.04 L1471.46 1241.29 L1474.03 1240.53 L1476.61 1239.75 L1479.19 1238.96 L1481.77 1238.15 L1484.34 1237.32 L1486.92 1236.47 L1489.5 1235.61 L1492.08 1234.74 L1494.65 1233.84 L1497.23 1232.94 L1499.81 1232.01 L1502.39 1231.07 L1504.96 1230.12 L1507.54 1229.15 L1510.12 1228.16 L1512.7 1227.16 L1515.27 1226.15 L1517.85 1225.12 L1520.43 1224.08 L1523.01 1223.03 L1525.58 1221.96 L1528.16 1220.89 L1530.74 1219.8 L1533.32 1218.7 L1535.89 1217.58 L1538.47 1216.46 L1541.05 1215.33 L1543.63 1214.19 L1546.2 1213.04 L1548.78 1211.89 L1551.36 1210.72 L1553.94 1209.55 L1556.51 1208.37 L1559.09 1207.19 L1561.67 1206.01 L1564.25 1204.82 L1566.82 1203.63 L1569.4 1202.43 L1571.98 1201.24 L1574.55 1200.04 L1577.13 1198.85 L1579.71 1197.66 L1582.29 1196.47 L1584.86 1195.28 L1587.44 1194.09 L1590.02 1192.92 L1592.6 1191.74 L1595.17 1190.58 L1597.75 1189.42 L1600.33 1188.27 L1602.91 1187.13 L1605.48 1186 L1608.06 1184.89 L1610.64 1183.78 L1613.22 1182.69 L1615.79 1181.62 L1618.37 1180.56 L1620.95 1179.52 L1623.53 1178.49 L1626.1 1177.49 L1628.68 1176.5 L1631.26 1175.54 L1633.84 1174.59 L1636.41 1173.67 L1638.99 1172.77 L1641.57 1171.9 L1644.15 1171.05 L1646.72 1170.23 L1649.3 1169.44 L1651.88 1168.67 L1654.46 1167.93 L1657.03 1167.23 L1659.61 1166.55 L1662.19 1165.9 L1664.77 1165.29 L1667.34 1164.71 L1669.92 1164.16 L1672.5 1163.64 L1675.08 1163.16 L1677.65 1162.72 L1680.23 1162.31 L1682.81 1161.94 L1685.38 1161.6 L1687.96 1161.3 L1690.54 1161.04 L1693.12 1160.82 L1695.69 1160.63 L1698.27 1160.48 L1700.85 1160.37 L1703.43 1160.3 L1706 1160.27 L1708.58 1160.27 L1711.16 1160.32 L1713.74 1160.42 L1716.31 1160.56 L1718.89 1160.75 L1721.47 1160.98 L1724.05 1161.25 L1726.62 1161.57 L1729.2 1161.93 L1731.78 1162.34 L1734.36 1162.79 L1736.93 1163.28 L1739.51 1163.81 L1742.09 1164.39 L1744.67 1165 L1747.24 1165.65 L1749.82 1166.34 L1752.4 1167.07 L1754.98 1167.83 L1757.55 1168.63 L1760.13 1169.47 L1762.71 1170.34 L1765.29 1171.24 L1767.86 1172.17 L1770.44 1173.13 L1773.02 1174.12 L1775.6 1175.14 L1778.17 1176.18 L1780.75 1177.25 L1783.33 1178.35 L1785.91 1179.46 L1788.48 1180.6 L1791.06 1181.76 L1793.64 1182.94 L1796.22 1184.14 L1798.79 1185.35 L1801.37 1186.58 L1803.95 1187.82 L1806.52 1189.08 L1809.1 1190.35 L1811.68 1191.62 L1814.26 1192.91 L1816.83 1194.21 L1819.41 1195.51 L1821.99 1196.81 L1824.57 1198.13 L1827.14 1199.44 L1829.72 1200.76 L1832.3 1202.08 L1834.88 1203.39 L1837.45 1204.71 L1840.03 1206.02 L1842.61 1207.34 L1845.19 1208.64 L1847.76 1209.94 L1850.34 1211.24 L1852.92 1212.53 L1855.5 1213.81 L1858.07 1215.08 L1860.65 1216.34 L1863.23 1217.6 L1865.81 1218.84 L1868.38 1220.07 L1870.96 1221.28 L1873.54 1222.48 L1876.12 1223.67 L1878.69 1224.85 L1881.27 1226.01 L1883.85 1227.15 L1886.43 1228.28 L1889 1229.4 L1891.58 1230.49 L1894.16 1231.57 L1896.74 1232.63 L1899.31 1233.68 L1901.89 1234.7 L1904.47 1235.71 L1907.05 1236.7 L1909.62 1237.66 L1912.2 1238.62 L1914.78 1239.55 L1917.35 1240.46 L1919.93 1241.35 L1922.51 1242.22 L1925.09 1243.08 L1927.66 1243.91 L1930.24 1244.73 L1932.82 1245.52 L1935.4 1246.3 L1937.97 1247.06 L1940.55 1247.79 L1943.13 1248.51 L1945.71 1249.21 L1948.28 1249.89 L1950.86 1250.56 L1953.44 1251.2 L1956.02 1251.83 L1958.59 1252.44 L1961.17 1253.03 L1963.75 1253.6 L1966.33 1254.16 L1968.9 1254.69 L1971.48 1255.22 L1974.06 1255.72 L1976.64 1256.21 L1979.21 1256.69 L1981.79 1257.15 L1984.37 1257.59 L1986.95 1258.02 L1989.52 1258.43 L1992.1 1258.83 L1994.68 1259.22 L1997.26 1259.59 L1999.83 1259.95 L2002.41 1260.3 L2004.99 1260.63 L2007.57 1260.95 L2010.14 1261.26 L2012.72 1261.56 L2015.3 1261.85 L2017.88 1262.12 L2020.45 1262.39 L2023.03 1262.64 L2025.61 1262.89 L2028.18 1263.12 L2030.76 1263.35 L2033.34 1263.56 L2035.92 1263.77 L2038.49 1263.97 L2041.07 1264.16 L2043.65 1264.35 L2046.23 1264.52 L2048.8 1264.69 L2051.38 1264.86 L2053.96 1265.01 L2056.54 1265.16 L2059.11 1265.3 L2061.69 1265.44 L2064.27 1265.57 L2066.85 1265.69 L2069.42 1265.81 L2072 1265.93 L2074.58 1266.03 L2077.16 1266.14 L2079.73 1266.24 L2082.31 1266.34 L2084.89 1266.43 L2087.47 1266.51 L2090.04 1266.6 L2092.62 1266.68 L2095.2 1266.76 L2097.78 1266.83 L2100.35 1266.9 L2102.93 1266.97 L2105.51 1267.03 L2108.09 1267.09 L2110.66 1267.15 L2113.24 1267.21 L2115.82 1267.26 L2118.4 1267.31 L2120.97 1267.36 L2123.55 1267.41 L2126.13 1267.46 L2128.71 1267.5 L2131.28 1267.55 L2133.86 1267.59 L2136.44 1267.63 L2139.02 1267.66 L2141.59 1267.7 L2144.17 1267.74 L2146.75 1267.77 L2149.32 1267.8 L2151.9 1267.83 L2154.48 1267.87 L2157.06 1267.89 L2159.63 1267.92 L2162.21 1267.95 L2164.79 1267.98 L2167.37 1268 L2169.94 1268.03 L2172.52 1268.05 L2175.1 1268.08 L2177.68 1268.1 L2180.25 1268.13 L2182.83 1268.15 L2185.41 1268.17 L2187.99 1268.19 L2190.56 1268.21 L2193.14 1268.23 L2195.72 1268.25 L2198.3 1268.27 L2200.87 1268.29 L2203.45 1268.31 L2206.03 1268.33 L2208.61 1268.35 L2211.18 1268.36 L2213.76 1268.38 L2216.34 1268.4 L2218.92 1268.42 L2221.49 1268.43 L2224.07 1268.45 L2226.65 1268.47 L2229.23 1268.48 L2231.8 1268.5 L2234.38 1268.52 L2236.96 1268.53 L2239.54 1268.55 L2242.11 1268.56 L2244.69 1268.58 L2247.27 1268.59 L2249.85 1268.61 L2252.42 1268.62 L2255 1268.64" fill="none" stroke="#ffc0ff" stroke-width="1.2" stroke-linejoin="round" stroke-linecap="round"/>
<path d="M1226.6 1264.51 L1229.18 1264.52 L1231.75 1264.53 L1234.33 1264.54 L1236.91 1264.55 L1239.49 1264.56 L1242.06 1264.58 L1244.64 1264.59 L1247.22 1264.6 L1249.8 1264.61 L1252.37 1264.62 L1254.95 1264.63 L1257.53 1264.64 L1260.11 1264.65 L1262.68 1264.67 L1265.26 1264.68 L1267.84 1264.69 L1270.42 1264.7 L1272.99 1264.71 L1275.57 1264.72 L1278.15 1264.73 L1280.73 1264.74 L1283.3 1264.76 L1285.88 1264.77 L1288.46 1264.78 L1291.04 1264.79 L1293.61 1264.8 L1296.19 1264.81 L1298.77 1264.82 L1301.35 1264.83 L1303.92 1264.84 L1306.5 1264.86 L1309.08 1264.87 L1311.66 1264.88 L1314.23 1264.89 L1316.81 1264.9 L1319.39 1264.9 L1321.97 1264.91 L1324.54 1264.92 L1327.12 1264.92 L1329.7 1264.93 L1332.28 1264.93 L1334.85 1264.93 L1337.43 1264.92 L1340.01 1264.91 L1342.58 1264.9 L1345.16 1264.87 L1347.74 1264.85 L1350.32 1264.81 L1352.89 1264.76 L1355.47 1264.7 L1358.05 1264.62 L1360.63 1264.53 L1363.2 1264.43 L1365.78 1264.3 L1368.36 1264.15 L1370.94 1263.99 L1373.51 1263.79 L1376.09 1263.58 L1378.67 1263.34 L1381.25 1263.07 L1383.82 1262.78 L1386.4 1262.47 L1388.98 1262.14 L1391.56 1261.79 L1394.13 1261.42 L1396.71 1261.05 L1399.29 1260.67 L1401.87 1260.29 L1404.44 1259.92 L1407.02 1259.56 L1409.6 1259.22 L1412.18 1258.91 L1414.75 1258.63 L1417.33 1258.39 L1419.91 1258.19 L1422.49 1258.04 L1425.06 1257.94 L1427.64 1257.89 L1430.22 1257.9 L1432.8 1257.97 L1435.37 1258.09 L1437.95 1258.26 L1440.53 1258.48 L1443.11 1258.74 L1445.68 1259.04 L1448.26 1259.37 L1450.84 1259.73 L1453.42 1260.11 L1455.99 1260.51 L1458.57 1260.91 L1461.15 1261.31 L1463.72 1261.7 L1466.3 1262.09 L1468.88 1262.47 L1471.46 1262.82 L1474.03 1263.16 L1476.61 1263.47 L1479.19 1263.76 L1481.77 1264.02 L1484.34 1264.26 L1486.92 1264.48 L1489.5 1264.67 L1492.08 1264.84 L1494.65 1264.99 L1497.23 1265.12 L1499.81 1265.24 L1502.39 1265.33 L1504.96 1265.42 L1507.54 1265.49 L1510.12 1265.55 L1512.7 1265.6 L1515.27 1265.65 L1517.85 1265.69 L1520.43 1265.72 L1523.01 1265.75 L1525.58 1265.77 L1528.16 1265.79 L1530.74 1265.81 L1533.32 1265.83 L1535.89 1265.84 L1538.47 1265.86 L1541.05 1265.87 L1543.63 1265.89 L1546.2 1265.9 L1548.78 1265.91 L1551.36 1265.92 L1553.94 1265.93 L1556.51 1265.95 L1559.09 1265.96 L1561.67 1265.97 L1564.25 1265.98 L1566.82 1265.99 L1569.4 1266 L1571.98 1266.01 L1574.55 1266.03 L1577.13 1266.04 L1579.71 1266.05 L1582.29 1266.06 L1584.86 1266.07 L1587.44 1266.08 L1590.02 1266.09 L1592.6 1266.1 L1595.17 1266.12 L1597.75 1266.13 L1600.33 1266.14 L1602.91 1266.15 L1605.48 1266.16 L1608.06 1266.17 L1610.64 1266.18 L1613.22 1266.19 L1615.79 1266.21 L1618.37 1266.22 L1620.95 1266.23 L1623.53 1266.24 L1626.1 1266.25 L1628.68 1266.26 L1631.26 1266.27 L1633.84 1266.28 L1636.41 1266.3 L1638.99 1266.31 L1641.57 1266.32 L1644.15 1266.33 L1646.72 1266.34 L1649.3 1266.35 L1651.88 1266.36 L1654.46 1266.37 L1657.03 1266.39 L1659.61 1266.4 L1662.19 1266.41 L1664.77 1266.42 L1667.34 1266.43 L1669.92 1266.44 L1672.5 1266.45 L1675.08 1266.46 L1677.65 1266.48 L1680.23 1266.49 L1682.81 1266.5 L1685.38 1266.51 L1687.96 1266.52 L1690.54 1266.53 L1693.12 1266.54 L1695.69 1266.55 L1698.27 1266.57 L1700.85 1266.58 L1703.43 1266.59 L1706 1266.6 L1708.58 1266.61 L1711.16 1266.62 L1713.74 1266.63 L1716.31 1266.64 L1718.89 1266.66 L1721.47 1266.67 L1724.05 1266.68 L1726.62 1266.69 L1729.2 1266.7 L1731.78 1266.71 L1734.36 1266.72 L1736.93 1266.73 L1739.51 1266.75 L1742.09 1266.76 L1744.67 1266.77 L1747.24 1266.78 L1749.82 1266.79 L1752.4 1266.8 L1754.98 1266.81 L1757.55 1266.82 L1760.13 1266.84 L1762.71 1266.85 L1765.29 1266.86 L1767.86 1266.87 L1770.44 1266.88 L1773.02 1266.89 L1775.6 1266.9 L1778.17 1266.91 L1780.75 1266.93 L1783.33 1266.94 L1785.91 1266.95 L1788.48 1266.96 L1791.06 1266.97 L1793.64 1266.98 L1796.22 1266.99 L1798.79 1267 L1801.37 1267.01 L1803.95 1267.03 L1806.52 1267.04 L1809.1 1267.05 L1811.68 1267.06 L1814.26 1267.07 L1816.83 1267.08 L1819.41 1267.09 L1821.99 1267.1 L1824.57 1267.12 L1827.14 1267.13 L1829.72 1267.14 L1832.3 1267.15 L1834.88 1267.16 L1837.45 1267.17 L1840.03 1267.18 L1842.61 1267.19 L1845.19 1267.21 L1847.76 1267.22 L1850.34 1267.23 L1852.92 1267.24 L1855.5 1267.25 L1858.07 1267.26 L1860.65 1267.27 L1863.23 1267.28 L1865.81 1267.3 L1868.38 1267.31 L1870.96 1267.32 L1873.54 1267.33 L1876.12 1267.34 L1878.69 1267.35 L1881.27 1267.36 L1883.85 1267.37 L1886.43 1267.39 L1889 1267.4 L1891.58 1267.41 L1894.16 1267.42 L1896.74 1267.43 L1899.31 1267.44 L1901.89 1267.45 L1904.47 1267.46 L1907.05 1267.48 L1909.62 1267.49 L1912.2 1267.5 L1914.78 1267.51 L1917.35 1267.52 L1919.93 1267.53 L1922.51 1267.54 L1925.09 1267.55 L1927.66 1267.57 L1930.24 1267.58 L1932.82 1267.59 L1935.4 1267.6 L1937.97 1267.61 L1940.55 1267.62 L1943.13 1267.63 L1945.71 1267.64 L1948.28 1267.66 L1950.86 1267.67 L1953.44 1267.68 L1956.02 1267.69 L1958.59 1267.7 L1961.17 1267.71 L1963.75 1267.72 L1966.33 1267.73 L1968.9 1267.75 L1971.48 1267.76 L1974.06 1267.77 L1976.64 1267.78 L1979.21 1267.79 L1981.79 1267.8 L1984.37 1267.81 L1986.95 1267.82 L1989.52 1267.84 L1992.1 1267.85 L1994.68 1267.86 L1997.26 1267.87 L1999.83 1267.88 L2002.41 1267.89 L2004.99 1267.9 L2007.57 1267.91 L2010.14 1267.93 L2012.72 1267.94 L2015.3 1267.95 L2017.88 1267.96 L2020.45 1267.97 L2023.03 1267.98 L2025.61 1267.99 L2028.18 1268 L2030.76 1268.02 L2033.34 1268.03 L2035.92 1268.04 L2038.49 1268.05 L2041.07 1268.06 L2043.65 1268.07 L2046.23 1268.08 L2048.8 1268.09 L2051.38 1268.11 L2053.96 1268.12 L2056.54 1268.13 L2059.11 1268.14 L2061.69 1268.15 L2064.27 1268.16 L2066.85 1268.17 L2069.42 1268.18 L2072 1268.2 L2074.58 1268.21 L2077.16 1268.22 L2079.73 1268.23 L2082.31 1268.24 L2084.89 1268.25 L2087.47 1268.26 L2090.04 1268.27 L2092.62 1268.28 L2095.2 1268.3 L2097.78 1268.31 L2100.35 1268.32 L2102.93 1268.33 L2105.51 1268.34 L2108.09 1268.35 L2110.66 1268.36 L2113.24 1268.37 L2115.82 1268.39 L2118.4 1268.4 L2120.97 1268.41 L2123.55 1268.42 L2126.13 1268.43 L2128.71 1268.44 L2131.28 1268.45 L2133.86 1268.46 L2136.44 1268.48 L2139.02 1268.49 L2141.59 1268.5 L2144.17 1268.51 L2146.75 1268.52 L2149.32 1268.53 L2151.9 1268.54 L2154.48 1268.55 L2157.06 1268.57 L2159.63 1268.58 L2162.21 1268.59 L2164.79 1268.6 L2167.37 1268.61 L2169.94 1268.62 L2172.52 1268.63 L2175.1 1268.64 L2177.68 1268.66 L2180.25 1268.67 L2182.83 1268.68 L2185.41 1268.69 L2187.99 1268.7 L2190.56 1268.71 L2193.14 1268.72 L2195.72 1268.73 L2198.3 1268.75 L2200.87 1268.76 L2203.45 1268.77 L2206.03 1268.78 L2208.61 1268.79 L2211.18 1268.8 L2213.76 1268.81 L2216.34 1268.82 L2218.92 1268.84 L2221.49 1268.85 L2224.07 1268.86 L2226.65 1268.87 L2229.23 1268.88 L2231.8 1268.89 L2234.38 1268.9 L2236.96 1268.91 L2239.54 1268.93 L2242.11 1268.94 L2244.69 1268.95 L2247.27 1268.96 L2249.85 1268.97 L2252.42 1268.98 L2255 1268.99 L2255 1268.99 L2252.42 1268.98 L2249.85 1268.97 L2247.27 1268.96 L2244.69 1268.95 L2242.11 1268.94 L2239.54 1268.93 L2236.96 1268.91 L2234.38 1268.9 L2231.8 1268.89 L2229.23 1268.88 L2226.65 1268.87 L2224.07 1268.86 L2221.49 1268.85 L2218.92 1268.84 L2216.34 1268.82 L2213.76 1268.81 L2211.18 1268.8 L2208.61 1268.79 L2206.03 1268.78 L2203.45 1268.77 L2200.87 1268.76 L2198.3 1268.75 L2195.72 1268.73 L2193.14 1268.72 L2190.56 1268.71 L2187.99 1268.7 L2185.41 1268.69 L2182.83 1268.68 L2180.25 1268.67 L2177.68 1268.66 L2175.1 1268.64 L2172.52 1268.63 L2169.94 1268.62 L2167.37 1268.61 L2164.79 1268.6 L2162.21 1268.59 L2159.63 1268.58 L2157.06 1268.57 L2154.48 1268.55 L2151.9 1268.54 L2149.32 1268.53 L2146.75 1268.52 L2144.17 1268.51 L2141.59 1268.5 L2139.02 1268.49 L2136.44 1268.48 L2133.86 1268.46 L2131.28 1268.45 L2128.71 1268.44 L2126.13 1268.43 L2123.55 1268.42 L2120.97 1268.41 L2118.4 1268.4 L2115.82 1268.39 L2113.24 1268.37 L2110.66 1268.36 L2108.09 1268.35 L2105.51 1268.34 L2102.93 1268.33 L2100.35 1268.32 L2097.78 1268.31 L2095.2 1268.3 L2092.62 1268.28 L2090.04 1268.27 L2087.47 1268.26 L2084.89 1268.25 L2082.31 1268.24 L2079.73 1268.23 L2077.16 1268.22 L2074.58 1268.21 L2072 1268.2 L2069.42 1268.18 L2066.85 1268.17 L2064.27 1268.16 L2061.69 1268.15 L2059.11 1268.14 L2056.54 1268.13 L2053.96 1268.12 L2051.38 1268.11 L2048.8 1268.09 L2046.23 1268.08 L2043.65 1268.07 L2041.07 1268.06 L2038.49 1268.05 L2035.92 1268.04 L2033.34 1268.03 L2030.76 1268.02 L2028.18 1268 L2025.61 1267.99 L2023.03 1267.98 L2020.45 1267.97 L2017.88 1267.96 L2015.3 1267.95 L2012.72 1267.94 L2010.14 1267.93 L2007.57 1267.91 L2004.99 1267.9 L2002.41 1267.89 L1999.83 1267.88 L1997.26 1267.87 L1994.68 1267.86 L1992.1 1267.85 L1989.52 1267.84 L1986.95 1267.82 L1984.37 1267.81 L1981.79 1267.8 L1979.21 1267.79 L1976.64 1267.78 L1974.06 1267.77 L1971.48 1267.76 L1968.9 1267.75 L1966.33 1267.73 L1963.75 1267.72 L1961.17 1267.71 L1958.59 1267.7 L1956.02 1267.69 L1953.44 1267.68 L1950.86 1267.67 L1948.28 1267.66 L1945.71 1267.64 L1943.13 1267.63 L1940.55 1267.62 L1937.97 1267.61 L1935.4 1267.6 L1932.82 1267.59 L1930.24 1267.58 L1927.66 1267.57 L1925.09 1267.55 L1922.51 1267.54 L1919.93 1267.53 L1917.35 1267.52 L1914.78 1267.51 L1912.2 1267.5 L1909.62 1267.49 L1907.05 1267.48 L1904.47 1267.46 L1901.89 1267.45 L1899.31 1267.44 L1896.74 1267.43 L1894.16 1267.42 L1891.58 1267.41 L1889 1267.4 L1886.43 1267.39 L1883.85 1267.37 L1881.27 1267.36 L1878.69 1267.35 L1876.12 1267.34 L1873.54 1267.33 L1870.96 1267.32 L1868.38 1267.31 L1865.81 1267.3 L1863.23 1267.28 L1860.65 1267.27 L1858.07 1267.26 L1855.5 1267.25 L1852.92 1267.24 L1850.34 1267.23 L1847.76 1267.22 L1845.19 1267.21 L1842.61 1267.19 L1840.03 1267.18 L1837.45 1267.17 L1834.88 1267.16 L1832.3 1267.15 L1829.72 1267.14 L1827.14 1267.13 L1824.57 1267.12 L1821.99 1267.1 L1819.41 1267.09 L1816.83 1267.08 L1814.26 1267.07 L1811.68 1267.06 L1809.1 1267.05 L1806.52 1267.04 L1803.95 1267.03 L1801.37 1267.01 L1798.79 1267 L1796.22 1266.99 L1793.64 1266.98 L1791.06 1266.97 L1788.48 1266.96 L1785.91 1266.95 L1783.33 1266.94 L1780.75 1266.93 L1778.17 1266.91 L1775.6 1266.9 L1773.02 1266.89 L1770.44 1266.88 L1767.86 1266.87 L1765.29 1266.86 L1762.71 1266.85 L1760.13 1266.84 L1757.55 1266.82 L1754.98 1266.81 L1752.4 1266.8 L1749.82 1266.79 L1747.24 1266.78 L1744.67 1266.77 L1742.09 1266.76 L1739.51 1266.75 L1736.93 1266.73 L1734.36 1266.72 L1731.78 1266.71 L1729.2 1266.7 L1726.62 1266.69 L1724.05 1266.68 L1721.47 1266.67 L1718.89 1266.66 L1716.31 1266.64 L1713.74 1266.63 L1711.16 1266.62 L1708.58 1266.61 L1706 1266.6 L1703.43 1266.59 L1700.85 1266.58 L1698.27 1266.57 L1695.69 1266.55 L1693.12 1266.54 L1690.54 1266.53 L1687.96 1266.52 L1685.38 1266.51 L1682.81 1266.5 L1680.23 1266.49 L1677.65 1266.48 L1675.08 1266.46 L1672.5 1266.45 L1669.92 1266.44 L1667.34 1266.43 L1664.77 1266.42 L1662.19 1266.41 L1659.61 1266.4 L1657.03 1266.39 L1654.46 1266.37 L1651.88 1266.36 L1649.3 1266.35 L1646.72 1266.34 L1644.15 1266.33 L1641.57 1266.32 L1638.99 1266.31 L1636.41 1266.3 L1633.84 1266.28 L1631.26 1266.27 L1628.68 1266.26 L1626.1 1266.25 L1623.53 1266.24 L1620.95 1266.23 L1618.37 1266.22 L1615.79 1266.21 L1613.22 1266.19 L1610.64 1266.18 L1608.06 1266.17 L1605.48 1266.16 L1602.91 1266.15 L1600.33 1266.14 L1597.75 1266.13 L1595.17 1266.12 L1592.6 1266.1 L1590.02 1266.09 L1587.44 1266.08 L1584.86 1266.07 L1582.29 1266.06 L1579.71 1266.05 L1577.13 1266.04 L1574.55 1266.03 L1571.98 1266.01 L1569.4 1266 L1566.82 1265.99 L1564.25 1265.98 L1561.67 1265.97 L1559.09 1265.96 L1556.51 1265.95 L1553.94 1265.94 L1551.36 1265.92 L1548.78 1265.91 L1546.2 1265.9 L1543.63 1265.89 L1541.05 1265.88 L1538.47 1265.87 L1535.89 1265.86 L1533.32 1265.85 L1530.74 1265.83 L1528.16 1265.82 L1525.58 1265.81 L1523.01 1265.8 L1520.43 1265.79 L1517.85 1265.78 L1515.27 1265.77 L1512.7 1265.76 L1510.12 1265.74 L1507.54 1265.73 L1504.96 1265.72 L1502.39 1265.71 L1499.81 1265.7 L1497.23 1265.69 L1494.65 1265.68 L1492.08 1265.67 L1489.5 1265.66 L1486.92 1265.64 L1484.34 1265.63 L1481.77 1265.62 L1479.19 1265.61 L1476.61 1265.6 L1474.03 1265.59 L1471.46 1265.58 L1468.88 1265.57 L1466.3 1265.55 L1463.72 1265.54 L1461.15 1265.53 L1458.57 1265.52 L1455.99 1265.51 L1453.42 1265.5 L1450.84 1265.49 L1448.26 1265.48 L1445.68 1265.46 L1443.11 1265.45 L1440.53 1265.44 L1437.95 1265.43 L1435.37 1265.42 L1432.8 1265.41 L1430.22 1265.4 L1427.64 1265.39 L1425.06 1265.37 L1422.49 1265.36 L1419.91 1265.35 L1417.33 1265.34 L1414.75 1265.33 L1412.18 1265.32 L1409.6 1265.31 L1407.02 1265.3 L1404.44 1265.28 L1401.87 1265.27 L1399.29 1265.26 L1396.71 1265.25 L1394.13 1265.24 L1391.56 1265.23 L1388.98 1265.22 L1386.4 1265.21 L1383.82 1265.19 L1381.25 1265.18 L1378.67 1265.17 L1376.09 1265.16 L1373.51 1265.15 L1370.94 1265.14 L1368.36 1265.13 L1365.78 1265.12 L1363.2 1265.1 L1360.63 1265.09 L1358.05 1265.08 L1355.47 1265.07 L1352.89 1265.06 L1350.32 1265.05 L1347.74 1265.04 L1345.16 1265.03 L1342.58 1265.01 L1340.01 1265 L1337.43 1264.99 L1334.85 1264.98 L1332.28 1264.97 L1329.7 1264.96 L1327.12 1264.95 L1324.54 1264.94 L1321.97 1264.92 L1319.39 1264.91 L1316.81 1264.9 L1314.23 1264.89 L1311.66 1264.88 L1309.08 1264.87 L1306.5 1264.86 L1303.92 1264.85 L1301.35 1264.83 L1298.77 1264.82 L1296.19 1264.81 L1293.61 1264.8 L1291.04 1264.79 L1288.46 1264.78 L1285.88 1264.77 L1283.3 1264.76 L1280.73 1264.74 L1278.15 1264.73 L1275.57 1264.72 L1272.99 1264.71 L1270.42 1264.7 L1267.84 1264.69 L1265.26 1264.68 L1262.68 1264.67 L1260.11 1264.65 L1257.53 1264.64 L1254.95 1264.63 L1252.37 1264.62 L1249.8 1264.61 L1247.22 1264.6 L1244.64 1264.59 L1242.06 1264.58 L1239.49 1264.56 L1236.91 1264.55 L1234.33 1264.54 L1231.75 1264.53 L1229.18 1264.52 L1226.6 1264.51 Z" fill="#008000" stroke="none"/>
<path d="M1226.6 1264.51 L1229.18 1264.52 L1231.75 1264.53 L1234.33 1264.54 L1236.91 1264.55 L1239.49 1264.56 L1242.06 1264.58 L1244.64 1264.59 L1247.22 1264.6 L1249.8 1264.61 L1252.37 1264.62 L1254.95 1264.63 L1257.53 1264.64 L1260.11 1264.65 L1262.68 1264.67 L1265.26 1264.68 L1267.84 1264.69 L1270.42 1264.7 L1272.99 1264.71 L1275.57 1264.72 L1278.15 1264.73 L1280.73 1264.74 L1283.3 1264.76 L1285.88 1264.77 L1288.46 1264.78 L1291.04 1264.79 L1293.61 1264.8 L1296.19 1264.81 L1298.77 1264.82 L1301.35 1264.83 L1303.92 1264.84 L1306.5 1264.86 L1309.08 1264.87 L1311.66 1264.88 L1314.23 1264.89 L1316.81 1264.9 L1319.39 1264.9 L1321.97 1264.91 L1324.54 1264.92 L1327.12 1264.92 L1329.7 1264.93 L1332.28 1264.93 L1334.85 1264.93 L1337.43 1264.92 L1340.01 1264.91 L1342.58 1264.9 L1345.16 1264.87 L1347.74 1264.85 L1350.32 1264.81 L1352.89 1264.76 L1355.47 1264.7 L1358.05 1264.62 L1360.63 1264.53 L1363.2 1264.43 L1365.78 1264.3 L1368.36 1264.15 L1370.94 1263.99 L1373.51 1263.79 L1376.09 1263.58 L1378.67 1263.34 L1381.25 1263.07 L1383.82 1262.78 L1386.4 1262.47 L1388.98 1262.14 L1391.56 1261.79 L1394.13 1261.42 L1396.71 1261.05 L1399.29 1260.67 L1401.87 1260.29 L1404.44 1259.92 L1407.02 1259.56 L1409.6 1259.22 L1412.18 1258.91 L1414.75 1258.63 L1417.33 1258.39 L1419.91 1258.19 L1422.49 1258.04 L1425.06 1257.94 L1427.64 1257.89 L1430.22 1257.9 L1432.8 1257.97 L1435.37 1258.09 L1437.95 1258.26 L1440.53 1258.48 L1443.11 1258.74 L1445.68 1259.04 L1448.26 1259.37 L1450.84 1259.73 L1453.42 1260.11 L1455.99 1260.51 L1458.57 1260.91 L1461.15 1261.31 L1463.72 1261.7 L1466.3 1262.09 L1468.88 1262.47 L1471.46 1262.82 L1474.03 1263.16 L1476.61 1263.47 L1479.19 1263.76 L1481.77 1264.02 L1484.34 1264.26 L1486.92 1264.48 L1489.5 1264.67 L1492.08 1264.84 L1494.65 1264.99 L1497.23 1265.12 L1499.81 1265.24 L1502.39 1265.33 L1504.96 1265.42 L1507.54 1265.49 L1510.12 1265.55 L1512.7 1265.6 L1515.27 1265.65 L1517.85 1265.69 L1520.43 1265.72 L1523.01 1265.75 L1525.58 1265.77 L1528.16 1265.79 L1530.74 1265.81 L1533.32 1265.83 L1535.89 1265.84 L1538.47 1265.86 L1541.05 1265.87 L1543.63 1265.89 L1546.2 1265.9 L1548.78 1265.91 L1551.36 1265.92 L1553.94 1265.93 L1556.51 1265.95 L1559.09 1265.96 L1561.67 1265.97 L1564.25 1265.98 L1566.82 1265.99 L1569.4 1266 L1571.98 1266.01 L1574.55 1266.03 L1577.13 1266.04 L1579.71 1266.05 L1582.29 1266.06 L1584.86 1266.07 L1587.44 1266.08 L1590.02 1266.09 L1592.6 1266.1 L1595.17 1266.12 L1597.75 1266.13 L1600.33 1266.14 L1602.91 1266.15 L1605.48 1266.16 L1608.06 1266.17 L1610.64 1266.18 L1613.22 1266.19 L1615.79 1266.21 L1618.37 1266.22 L1620.95 1266.23 L1623.53 1266.24 L1626.1 1266.25 L1628.68 1266.26 L1631.26 1266.27 L1633.84 1266.28 L1636.41 1266.3 L1638.99 1266.31 L1641.57 1266.32 L1644.15 1266.33 L1646.72 1266.34 L1649.3 1266.35 L1651.88 1266.36 L1654.46 1266.37 L1657.03 1266.39 L1659.61 1266.4 L1662.19 1266.41 L1664.77 1266.42 L1667.34 1266.43 L1669.92 1266.44 L1672.5 1266.45 L1675.08 1266.46 L1677.65 1266.48 L1680.23 1266.49 L1682.81 1266.5 L1685.38 1266.51 L1687.96 1266.52 L1690.54 1266.53 L1693.12 1266.54 L1695.69 1266.55 L1698.27 1266.57 L1700.85 1266.58 L1703.43 1266.59 L1706 1266.6 L1708.58 1266.61 L1711.16 1266.62 L1713.74 1266.63 L1716.31 1266.64 L1718.89 1266.66 L1721.47 1266.67 L1724.05 1266.68 L1726.62 1266.69 L1729.2 1266.7 L1731.78 1266.71 L1734.36 1266.72 L1736.93 1266.73 L1739.51 1266.75 L1742.09 1266.76 L1744.67 1266.77 L1747.24 1266.78 L1749.82 1266.79 L1752.4 1266.8 L1754.98 1266.81 L1757.55 1266.82 L1760.13 1266.84 L1762.71 1266.85 L1765.29 1266.86 L1767.86 1266.87 L1770.44 1266.88 L1773.02 1266.89 L1775.6 1266.9 L1778.17 1266.91 L1780.75 1266.93 L1783.33 1266.94 L1785.91 1266.95 L1788.48 1266.96 L1791.06 1266.97 L1793.64 1266.98 L1796.22 1266.99 L1798.79 1267 L1801.37 1267.01 L1803.95 1267.03 L1806.52 1267.04 L1809.1 1267.05 L1811.68 1267.06 L1814.26 1267.07 L1816.83 1267.08 L1819.41 1267.09 L1821.99 1267.1 L1824.57 1267.12 L1827.14 1267.13 L1829.72 1267.14 L1832.3 1267.15 L1834.88 1267.16 L1837.45 1267.17 L1840.03 1267.18 L1842.61 1267.19 L1845.19 1267.21 L1847.76 1267.22 L1850.34 1267.23 L1852.92 1267.24 L1855.5 1267.25 L1858.07 1267.26 L1860.65 1267.27 L1863.23 1267.28 L1865.81 1267.3 L1868.38 1267.31 L1870.96 1267.32 L1873.54 1267.33 L1876.12 1267.34 L1878.69 1267.35 L1881.27 1267.36 L1883.85 1267.37 L1886.43 1267.39 L1889 1267.4 L1891.58 1267.41 L1894.16 1267.42 L1896.74 1267.43 L1899.31 1267.44 L1901.89 1267.45 L1904.47 1267.46 L1907.05 1267.48 L1909.62 1267.49 L1912.2 1267.5 L1914.78 1267.51 L1917.35 1267.52 L1919.93 1267.53 L1922.51 1267.54 L1925.09 1267.55 L1927.66 1267.57 L1930.24 1267.58 L1932.82 1267.59 L1935.4 1267.6 L1937.97 1267.61 L1940.55 1267.62 L1943.13 1267.63 L1945.71 1267.64 L1948.28 1267.66 L1950.86 1267.67 L1953.44 1267.68 L1956.02 1267.69 L1958.59 1267.7 L1961.17 1267.71 L1963.75 1267.72 L1966.33 1267.73 L1968.9 1267.75 L1971.48 1267.76 L1974.06 1267.77 L1976.64 1267.78 L1979.21 1267.79 L1981.79 1267.8 L1984.37 1267.81 L1986.95 1267.82 L1989.52 1267.84 L1992.1 1267.85 L1994.68 1267.86 L1997.26 1267.87 L1999.83 1267.88 L2002.41 1267.89 L2004.99 1267.9 L2007.57 1267.91 L2010.14 1267.93 L2012.72 1267.94 L2015.3 1267.95 L2017.88 1267.96 L2020.45 1267.97 L2023.03 1267.98 L2025.61 1267.99 L2028.18 1268 L2030.76 1268.02 L2033.34 1268.03 L2035.92 1268.04 L2038.49 1268.05 L2041.07 1268.06 L2043.65 1268.07 L2046.23 1268.08 L2048.8 1268.09 L2051.38 1268.11 L2053.96 1268.12 L2056.54 1268.13 L2059.11 1268.14 L2061.69 1268.15 L2064.27 1268.16 L2066.85 1268.17 L2069.42 1268.18 L2072 1268.2 L2074.58 1268.21 L2077.16 1268.22 L2079.73 1268.23 L2082.31 1268.24 L2084.89 1268.25 L2087.47 1268.26 L2090.04 1268.27 L2092.62 1268.28 L2095.2 1268.3 L2097.78 1268.31 L2100.35 1268.32 L2102.93 1268.33 L2105.51 1268.34 L2108.09 1268.35 L2110.66 1268.36 L2113.24 1268.37 L2115.82 1268.39 L2118.4 1268.4 L2120.97 1268.41 L2123.55 1268.42 L2126.13 1268.43 L2128.71 1268.44 L2131.28 1268.45 L2133.86 1268.46 L2136.44 1268.48 L2139.02 1268.49 L2141.59 1268.5 L2144.17 1268.51 L2146.75 1268.52 L2149.32 1268.53 L2151.9 1268.54 L2154.48 1268.55 L2157.06 1268.57 L2159.63 1268.58 L2162.21 1268.59 L2164.79 1268.6 L2167.37 1268.61 L2169.94 1268.62 L2172.52 1268.63 L2175.1 1268.64 L2177.68 1268.66 L2180.25 1268.67 L2182.83 1268.68 L2185.41 1268.69 L2187.99 1268.7 L2190.56 1268.71 L2193.14 1268.72 L2195.72 1268.73 L2198.3 1268.75 L2200.87 1268.76 L2203.45 1268.77 L2206.03 1268.78 L2208.61 1268.79 L2211.18 1268.8 L2213.76 1268.81 L2216.34 1268.82 L2218.92 1268.84 L2221.49 1268.85 L2224.07 1268.86 L2226.65 1268.87 L2229.23 1268.88 L2231.8 1268.89 L2234.38 1268.9 L2236.96 1268.91 L2239.54 1268.93 L2242.11 1268.94 L2244.69 1268.95 L2247.27 1268.96 L2249.85 1268.97 L2252.42 1268.98 L2255 1268.99" fill="none" stroke="#0a9a30" stroke-width="3" stroke-linejoin="round" stroke-linecap="round"/>
<path d="M1224.6 1264.5 L1226.6 1264.16 L1229.18 1264.15 L1231.75 1264.14 L1234.33 1264.14 L1236.91 1264.13 L1239.49 1264.12 L1242.06 1264.1 L1244.64 1264.09 L1247.22 1264.08 L1249.8 1264.06 L1252.37 1264.04 L1254.95 1264.02 L1257.53 1264 L1260.11 1263.98 L1262.68 1263.96 L1265.26 1263.93 L1267.84 1263.9 L1270.42 1263.87 L1272.99 1263.84 L1275.57 1263.8 L1278.15 1263.77 L1280.73 1263.73 L1283.3 1263.68 L1285.88 1263.64 L1288.46 1263.59 L1291.04 1263.54 L1293.61 1263.48 L1296.19 1263.43 L1298.77 1263.37 L1301.35 1263.3 L1303.92 1263.23 L1306.5 1263.16 L1309.08 1263.08 L1311.66 1263 L1314.23 1262.92 L1316.81 1262.83 L1319.39 1262.73 L1321.97 1262.63 L1324.54 1262.52 L1327.12 1262.41 L1329.7 1262.28 L1332.28 1262.15 L1334.85 1262.02 L1337.43 1261.87 L1340.01 1261.71 L1342.58 1261.54 L1345.16 1261.36 L1347.74 1261.16 L1350.32 1260.95 L1352.89 1260.71 L1355.47 1260.46 L1358.05 1260.19 L1360.63 1259.9 L1363.2 1259.58 L1365.78 1259.23 L1368.36 1258.85 L1370.94 1258.44 L1373.51 1258 L1376.09 1257.52 L1378.67 1257.01 L1381.25 1256.47 L1383.82 1255.89 L1386.4 1255.28 L1388.98 1254.64 L1391.56 1253.97 L1394.13 1253.27 L1396.71 1252.56 L1399.29 1251.82 L1401.87 1251.08 L1404.44 1250.33 L1407.02 1249.58 L1409.6 1248.84 L1412.18 1248.11 L1414.75 1247.4 L1417.33 1246.71 L1419.91 1246.06 L1422.49 1245.44 L1425.06 1244.86 L1427.64 1244.31 L1430.22 1243.81 L1432.8 1243.35 L1435.37 1242.92 L1437.95 1242.54 L1440.53 1242.18 L1443.11 1241.86 L1445.68 1241.55 L1448.26 1241.27 L1450.84 1241 L1453.42 1240.72 L1455.99 1240.45 L1458.57 1240.17 L1461.15 1239.87 L1463.72 1239.56 L1466.3 1239.21 L1468.88 1238.84 L1471.46 1238.43 L1474.03 1237.99 L1476.61 1237.51 L1479.19 1236.98 L1481.77 1236.42 L1484.34 1235.82 L1486.92 1235.17 L1489.5 1234.49 L1492.08 1233.77 L1494.65 1233.01 L1497.23 1232.22 L1499.81 1231.4 L1502.39 1230.54 L1504.96 1229.66 L1507.54 1228.75 L1510.12 1227.81 L1512.7 1226.85 L1515.27 1225.87 L1517.85 1224.87 L1520.43 1223.86 L1523.01 1222.82 L1525.58 1221.77 L1528.16 1220.71 L1530.74 1219.63 L1533.32 1218.54 L1535.89 1217.43 L1538.47 1216.32 L1541.05 1215.2 L1543.63 1214.07 L1546.2 1212.92 L1548.78 1211.78 L1551.36 1210.62 L1553.94 1209.46 L1556.51 1208.29 L1559.09 1207.12 L1561.67 1205.94 L1564.25 1204.76 L1566.82 1203.58 L1569.4 1202.39 L1571.98 1201.21 L1574.55 1200.03 L1577.13 1198.84 L1579.71 1197.66 L1582.29 1196.48 L1584.86 1195.3 L1587.44 1194.13 L1590.02 1192.96 L1592.6 1191.8 L1595.17 1190.65 L1597.75 1189.5 L1600.33 1188.36 L1602.91 1187.23 L1605.48 1186.12 L1608.06 1185.01 L1610.64 1183.92 L1613.22 1182.83 L1615.79 1181.77 L1618.37 1180.72 L1620.95 1179.68 L1623.53 1178.67 L1626.1 1177.67 L1628.68 1176.69 L1631.26 1175.72 L1633.84 1174.78 L1636.41 1173.87 L1638.99 1172.97 L1641.57 1172.1 L1644.15 1171.25 L1646.72 1170.42 L1649.3 1169.62 L1651.88 1168.85 L1654.46 1168.11 L1657.03 1167.39 L1659.61 1166.7 L1662.19 1166.04 L1664.77 1165.41 L1667.34 1164.81 L1669.92 1164.25 L1672.5 1163.71 L1675.08 1163.21 L1677.65 1162.73 L1680.23 1162.29 L1682.81 1161.89 L1685.38 1161.51 L1687.96 1161.17 L1690.54 1160.87 L1693.12 1160.59 L1695.69 1160.35 L1698.27 1160.15 L1700.85 1159.97 L1703.43 1159.83 L1706 1159.72 L1708.58 1159.65 L1711.16 1159.6 L1713.74 1159.59 L1716.31 1159.62 L1718.89 1159.69 L1721.47 1159.79 L1724.05 1159.93 L1726.62 1160.1 L1729.2 1160.3 L1731.78 1160.53 L1734.36 1160.78 L1736.93 1161.06 L1739.51 1161.36 L1742.09 1161.68 L1744.67 1162.02 L1747.24 1162.36 L1749.82 1162.71 L1752.4 1163.06 L1754.98 1163.41 L1757.55 1163.76 L1760.13 1164.08 L1762.71 1164.39 L1765.29 1164.68 L1767.86 1164.93 L1770.44 1165.15 L1773.02 1165.32 L1775.6 1165.44 L1778.17 1165.49 L1780.75 1165.48 L1783.33 1165.39 L1785.91 1165.22 L1788.48 1164.95 L1791.06 1164.59 L1793.64 1164.11 L1796.22 1163.5 L1798.79 1162.78 L1801.37 1161.91 L1803.95 1160.89 L1806.52 1159.73 L1809.1 1158.4 L1811.68 1156.89 L1814.26 1155.22 L1816.83 1153.35 L1819.41 1151.3 L1821.99 1149.06 L1824.57 1146.61 L1827.14 1143.97 L1829.72 1141.12 L1832.3 1138.06 L1834.88 1134.8 L1837.45 1131.34 L1840.03 1127.68 L1842.61 1123.83 L1845.19 1119.79 L1847.76 1115.56 L1850.34 1111.17 L1852.92 1106.61 L1855.5 1101.91 L1858.07 1097.08 L1860.65 1092.13 L1863.23 1087.08 L1865.81 1081.96 L1868.38 1076.77 L1870.96 1071.55 L1873.54 1066.31 L1876.12 1061.08 L1878.69 1055.89 L1881.27 1050.77 L1883.85 1045.73 L1886.43 1040.8 L1889 1036.02 L1891.58 1031.42 L1894.16 1027 L1896.74 1022.82 L1899.31 1018.88 L1901.89 1015.23 L1904.47 1011.87 L1907.05 1008.83 L1909.62 1006.14 L1912.2 1003.82 L1914.78 1001.88 L1917.35 1000.33 L1919.93 999.2 L1922.51 998.5 L1925.09 998.22 L1927.66 998.39 L1930.24 999 L1932.82 1000.08 L1935.4 1001.66 L1937.97 1003.72 L1940.55 1006.27 L1943.13 1009.29 L1945.71 1012.77 L1948.28 1016.69 L1950.86 1021.04 L1953.44 1025.78 L1956.02 1030.89 L1958.59 1036.36 L1961.17 1042.15 L1963.75 1048.23 L1966.33 1054.57 L1968.9 1061.14 L1971.48 1067.9 L1974.06 1074.83 L1976.64 1081.9 L1979.21 1089.06 L1981.79 1096.3 L1984.37 1103.57 L1986.95 1110.85 L1989.52 1118.11 L1992.1 1125.32 L1994.68 1132.45 L1997.26 1139.49 L1999.83 1146.4 L2002.41 1153.18 L2004.99 1159.79 L2007.57 1166.22 L2010.14 1172.47 L2012.72 1178.5 L2015.3 1184.33 L2017.88 1189.92 L2020.45 1195.29 L2023.03 1200.42 L2025.61 1205.32 L2028.18 1209.97 L2030.76 1214.38 L2033.34 1218.55 L2035.92 1222.49 L2038.49 1226.19 L2041.07 1229.66 L2043.65 1232.92 L2046.23 1235.95 L2048.8 1238.78 L2051.38 1241.41 L2053.96 1243.85 L2056.54 1246.11 L2059.11 1248.19 L2061.69 1250.1 L2064.27 1251.86 L2066.85 1253.47 L2069.42 1254.95 L2072 1256.3 L2074.58 1257.52 L2077.16 1258.64 L2079.73 1259.65 L2082.31 1260.57 L2084.89 1261.4 L2087.47 1262.14 L2090.04 1262.82 L2092.62 1263.42 L2095.2 1263.96 L2097.78 1264.45 L2100.35 1264.89 L2102.93 1265.28 L2105.51 1265.63 L2108.09 1265.94 L2110.66 1266.21 L2113.24 1266.46 L2115.82 1266.68 L2118.4 1266.88 L2120.97 1267.05 L2123.55 1267.21 L2126.13 1267.34 L2128.71 1267.47 L2131.28 1267.58 L2133.86 1267.68 L2136.44 1267.77 L2139.02 1267.84 L2141.59 1267.92 L2144.17 1267.98 L2146.75 1268.04 L2149.32 1268.09 L2151.9 1268.14 L2154.48 1268.18 L2157.06 1268.22 L2159.63 1268.26 L2162.21 1268.29 L2164.79 1268.32 L2167.37 1268.35 L2169.94 1268.38 L2172.52 1268.41 L2175.1 1268.43 L2177.68 1268.45 L2180.25 1268.48 L2182.83 1268.5 L2185.41 1268.52 L2187.99 1268.54 L2190.56 1268.56 L2193.14 1268.57 L2195.72 1268.59 L2198.3 1268.61 L2200.87 1268.63 L2203.45 1268.64 L2206.03 1268.66 L2208.61 1268.67 L2211.18 1268.69 L2213.76 1268.7 L2216.34 1268.72 L2218.92 1268.73 L2221.49 1268.75 L2224.07 1268.76 L2226.65 1268.77 L2229.23 1268.79 L2231.8 1268.8 L2234.38 1268.81 L2236.96 1268.83 L2239.54 1268.84 L2242.11 1268.85 L2244.69 1268.87 L2247.27 1268.88 L2249.85 1268.89 L2252.42 1268.91 L2255 1268.92 L2257 1269" fill="none" stroke="#222" stroke-width="3.4" stroke-linejoin="round" stroke-linecap="round"/>
<path d="M1226.6 1571.01 L1229.18 1571.03 L1231.75 1571.05 L1234.33 1571.07 L1236.91 1571.08 L1239.49 1571.1 L1242.06 1571.12 L1244.64 1571.14 L1247.22 1571.15 L1249.8 1571.17 L1252.37 1571.19 L1254.95 1571.21 L1257.53 1571.22 L1260.11 1571.24 L1262.68 1571.26 L1265.26 1571.28 L1267.84 1571.29 L1270.42 1571.31 L1272.99 1571.33 L1275.57 1571.35 L1278.15 1571.36 L1280.73 1571.38 L1283.3 1571.4 L1285.88 1571.42 L1288.46 1571.43 L1291.04 1571.45 L1293.61 1571.47 L1296.19 1571.49 L1298.77 1571.5 L1301.35 1571.52 L1303.92 1571.54 L1306.5 1571.56 L1309.08 1571.57 L1311.66 1571.59 L1314.23 1571.61 L1316.81 1571.63 L1319.39 1571.64 L1321.97 1571.66 L1324.54 1571.68 L1327.12 1571.7 L1329.7 1571.71 L1332.28 1571.73 L1334.85 1571.75 L1337.43 1571.77 L1340.01 1571.78 L1342.58 1571.8 L1345.16 1571.82 L1347.74 1571.84 L1350.32 1571.85 L1352.89 1571.87 L1355.47 1571.89 L1358.05 1571.91 L1360.63 1571.92 L1363.2 1571.94 L1365.78 1571.96 L1368.36 1571.98 L1370.94 1571.99 L1373.51 1572.01 L1376.09 1572.03 L1378.67 1572.05 L1381.25 1572.06 L1383.82 1572.08 L1386.4 1572.1 L1388.98 1572.11 L1391.56 1572.13 L1394.13 1572.15 L1396.71 1572.17 L1399.29 1572.18 L1401.87 1572.2 L1404.44 1572.22 L1407.02 1572.24 L1409.6 1572.25 L1412.18 1572.27 L1414.75 1572.29 L1417.33 1572.31 L1419.91 1572.32 L1422.49 1572.34 L1425.06 1572.36 L1427.64 1572.38 L1430.22 1572.39 L1432.8 1572.41 L1435.37 1572.43 L1437.95 1572.45 L1440.53 1572.46 L1443.11 1572.48 L1445.68 1572.5 L1448.26 1572.52 L1450.84 1572.53 L1453.42 1572.55 L1455.99 1572.57 L1458.57 1572.59 L1461.15 1572.6 L1463.72 1572.62 L1466.3 1572.64 L1468.88 1572.66 L1471.46 1572.67 L1474.03 1572.69 L1476.61 1572.71 L1479.19 1572.73 L1481.77 1572.74 L1484.34 1572.76 L1486.92 1572.78 L1489.5 1572.8 L1492.08 1572.81 L1494.65 1572.83 L1497.23 1572.85 L1499.81 1572.87 L1502.39 1572.88 L1504.96 1572.9 L1507.54 1572.92 L1510.12 1572.94 L1512.7 1572.95 L1515.27 1572.97 L1517.85 1572.99 L1520.43 1573.01 L1523.01 1573.02 L1525.58 1573.04 L1528.16 1573.06 L1530.74 1573.08 L1533.32 1573.09 L1535.89 1573.11 L1538.47 1573.13 L1541.05 1573.15 L1543.63 1573.16 L1546.2 1573.18 L1548.78 1573.2 L1551.36 1573.22 L1553.94 1573.23 L1556.51 1573.25 L1559.09 1573.27 L1561.67 1573.29 L1564.25 1573.3 L1566.82 1573.32 L1569.4 1573.34 L1571.98 1573.36 L1574.55 1573.37 L1577.13 1573.39 L1579.71 1573.41 L1582.29 1573.43 L1584.86 1573.44 L1587.44 1573.46 L1590.02 1573.48 L1592.6 1573.5 L1595.17 1573.51 L1597.75 1573.53 L1600.33 1573.55 L1602.91 1573.57 L1605.48 1573.58 L1608.06 1573.6 L1610.64 1573.62 L1613.22 1573.64 L1615.79 1573.65 L1618.37 1573.67 L1620.95 1573.69 L1623.53 1573.71 L1626.1 1573.72 L1628.68 1573.74 L1631.26 1573.76 L1633.84 1573.78 L1636.41 1573.79 L1638.99 1573.81 L1641.57 1573.83 L1644.15 1573.84 L1646.72 1573.86 L1649.3 1573.88 L1651.88 1573.9 L1654.46 1573.91 L1657.03 1573.93 L1659.61 1573.95 L1662.19 1573.96 L1664.77 1573.98 L1667.34 1574 L1669.92 1574.01 L1672.5 1574.03 L1675.08 1574.04 L1677.65 1574.06 L1680.23 1574.07 L1682.81 1574.09 L1685.38 1574.1 L1687.96 1574.11 L1690.54 1574.12 L1693.12 1574.13 L1695.69 1574.14 L1698.27 1574.14 L1700.85 1574.15 L1703.43 1574.15 L1706 1574.15 L1708.58 1574.14 L1711.16 1574.14 L1713.74 1574.12 L1716.31 1574.11 L1718.89 1574.08 L1721.47 1574.05 L1724.05 1574.02 L1726.62 1573.97 L1729.2 1573.92 L1731.78 1573.85 L1734.36 1573.77 L1736.93 1573.67 L1739.51 1573.56 L1742.09 1573.44 L1744.67 1573.29 L1747.24 1573.11 L1749.82 1572.92 L1752.4 1572.69 L1754.98 1572.43 L1757.55 1572.13 L1760.13 1571.8 L1762.71 1571.42 L1765.29 1570.99 L1767.86 1570.51 L1770.44 1569.97 L1773.02 1569.37 L1775.6 1568.69 L1778.17 1567.95 L1780.75 1567.11 L1783.33 1566.19 L1785.91 1565.17 L1788.48 1564.05 L1791.06 1562.82 L1793.64 1561.47 L1796.22 1559.98 L1798.79 1558.37 L1801.37 1556.61 L1803.95 1554.69 L1806.52 1552.62 L1809.1 1550.37 L1811.68 1547.95 L1814.26 1545.35 L1816.83 1542.55 L1819.41 1539.55 L1821.99 1536.35 L1824.57 1532.93 L1827.14 1529.3 L1829.72 1525.44 L1832.3 1521.37 L1834.88 1517.06 L1837.45 1512.53 L1840.03 1507.77 L1842.61 1502.79 L1845.19 1497.58 L1847.76 1492.15 L1850.34 1486.52 L1852.92 1480.68 L1855.5 1474.64 L1858.07 1468.43 L1860.65 1462.04 L1863.23 1455.51 L1865.81 1448.83 L1868.38 1442.04 L1870.96 1435.14 L1873.54 1428.18 L1876.12 1421.15 L1878.69 1414.11 L1881.27 1407.06 L1883.85 1400.04 L1886.43 1393.07 L1889 1386.19 L1891.58 1379.42 L1894.16 1372.8 L1896.74 1366.35 L1899.31 1360.12 L1901.89 1354.12 L1904.47 1348.38 L1907.05 1342.94 L1909.62 1337.83 L1912.2 1333.07 L1914.78 1328.69 L1917.35 1324.71 L1919.93 1321.15 L1922.51 1318.03 L1925.09 1315.37 L1927.66 1313.19 L1930.24 1311.5 L1932.82 1310.31 L1935.4 1309.62 L1937.97 1309.44 L1940.55 1309.78 L1943.13 1310.65 L1945.71 1312.06 L1948.28 1313.98 L1950.86 1316.41 L1953.44 1319.33 L1956.02 1322.73 L1958.59 1326.59 L1961.17 1330.88 L1963.75 1335.58 L1966.33 1340.66 L1968.9 1346.1 L1971.48 1351.87 L1974.06 1357.93 L1976.64 1364.25 L1979.21 1370.8 L1981.79 1377.55 L1984.37 1384.47 L1986.95 1391.51 L1989.52 1398.66 L1992.1 1405.87 L1994.68 1413.12 L1997.26 1420.37 L1999.83 1427.6 L2002.41 1434.79 L2004.99 1441.89 L2007.57 1448.9 L2010.14 1455.79 L2012.72 1462.53 L2015.3 1469.12 L2017.88 1475.53 L2020.45 1481.74 L2023.03 1487.76 L2025.61 1493.56 L2028.18 1499.14 L2030.76 1504.49 L2033.34 1509.61 L2035.92 1514.49 L2038.49 1519.13 L2041.07 1523.53 L2043.65 1527.7 L2046.23 1531.63 L2048.8 1535.34 L2051.38 1538.81 L2053.96 1542.07 L2056.54 1545.11 L2059.11 1547.94 L2061.69 1550.58 L2064.27 1553.02 L2066.85 1555.28 L2069.42 1557.37 L2072 1559.29 L2074.58 1561.06 L2077.16 1562.68 L2079.73 1564.16 L2082.31 1565.51 L2084.89 1566.74 L2087.47 1567.86 L2090.04 1568.88 L2092.62 1569.8 L2095.2 1570.63 L2097.78 1571.38 L2100.35 1572.05 L2102.93 1572.65 L2105.51 1573.19 L2108.09 1573.68 L2110.66 1574.11 L2113.24 1574.5 L2115.82 1574.84 L2118.4 1575.14 L2120.97 1575.41 L2123.55 1575.66 L2126.13 1575.87 L2128.71 1576.06 L2131.28 1576.22 L2133.86 1576.37 L2136.44 1576.5 L2139.02 1576.62 L2141.59 1576.72 L2144.17 1576.81 L2146.75 1576.89 L2149.32 1576.97 L2151.9 1577.03 L2154.48 1577.09 L2157.06 1577.14 L2159.63 1577.19 L2162.21 1577.23 L2164.79 1577.27 L2167.37 1577.3 L2169.94 1577.34 L2172.52 1577.37 L2175.1 1577.39 L2177.68 1577.42 L2180.25 1577.45 L2182.83 1577.47 L2185.41 1577.49 L2187.99 1577.51 L2190.56 1577.54 L2193.14 1577.56 L2195.72 1577.58 L2198.3 1577.6 L2200.87 1577.61 L2203.45 1577.63 L2206.03 1577.65 L2208.61 1577.67 L2211.18 1577.69 L2213.76 1577.71 L2216.34 1577.72 L2218.92 1577.74 L2221.49 1577.76 L2224.07 1577.78 L2226.65 1577.8 L2229.23 1577.81 L2231.8 1577.83 L2234.38 1577.85 L2236.96 1577.87 L2239.54 1577.88 L2242.11 1577.9 L2244.69 1577.92 L2247.27 1577.94 L2249.85 1577.95 L2252.42 1577.97 L2255 1577.99 L2255 1577.99 L2252.42 1577.97 L2249.85 1577.95 L2247.27 1577.94 L2244.69 1577.92 L2242.11 1577.9 L2239.54 1577.88 L2236.96 1577.87 L2234.38 1577.85 L2231.8 1577.83 L2229.23 1577.81 L2226.65 1577.8 L2224.07 1577.78 L2221.49 1577.76 L2218.92 1577.74 L2216.34 1577.73 L2213.76 1577.71 L2211.18 1577.69 L2208.61 1577.67 L2206.03 1577.66 L2203.45 1577.64 L2200.87 1577.62 L2198.3 1577.6 L2195.72 1577.59 L2193.14 1577.57 L2190.56 1577.55 L2187.99 1577.53 L2185.41 1577.52 L2182.83 1577.5 L2180.25 1577.48 L2177.68 1577.46 L2175.1 1577.45 L2172.52 1577.43 L2169.94 1577.41 L2167.37 1577.39 L2164.79 1577.38 L2162.21 1577.36 L2159.63 1577.34 L2157.06 1577.32 L2154.48 1577.31 L2151.9 1577.29 L2149.32 1577.27 L2146.75 1577.25 L2144.17 1577.24 L2141.59 1577.22 L2139.02 1577.2 L2136.44 1577.18 L2133.86 1577.17 L2131.28 1577.15 L2128.71 1577.13 L2126.13 1577.12 L2123.55 1577.1 L2120.97 1577.08 L2118.4 1577.06 L2115.82 1577.05 L2113.24 1577.03 L2110.66 1577.01 L2108.09 1576.99 L2105.51 1576.98 L2102.93 1576.96 L2100.35 1576.94 L2097.78 1576.92 L2095.2 1576.91 L2092.62 1576.89 L2090.04 1576.87 L2087.47 1576.85 L2084.89 1576.84 L2082.31 1576.82 L2079.73 1576.8 L2077.16 1576.78 L2074.58 1576.77 L2072 1576.75 L2069.42 1576.73 L2066.85 1576.71 L2064.27 1576.7 L2061.69 1576.68 L2059.11 1576.66 L2056.54 1576.64 L2053.96 1576.63 L2051.38 1576.61 L2048.8 1576.59 L2046.23 1576.57 L2043.65 1576.56 L2041.07 1576.54 L2038.49 1576.52 L2035.92 1576.5 L2033.34 1576.49 L2030.76 1576.47 L2028.18 1576.45 L2025.61 1576.43 L2023.03 1576.42 L2020.45 1576.4 L2017.88 1576.38 L2015.3 1576.36 L2012.72 1576.35 L2010.14 1576.33 L2007.57 1576.31 L2004.99 1576.29 L2002.41 1576.28 L1999.83 1576.26 L1997.26 1576.24 L1994.68 1576.22 L1992.1 1576.21 L1989.52 1576.19 L1986.95 1576.17 L1984.37 1576.15 L1981.79 1576.14 L1979.21 1576.12 L1976.64 1576.1 L1974.06 1576.08 L1971.48 1576.07 L1968.9 1576.05 L1966.33 1576.03 L1963.75 1576.01 L1961.17 1576 L1958.59 1575.98 L1956.02 1575.96 L1953.44 1575.94 L1950.86 1575.93 L1948.28 1575.91 L1945.71 1575.89 L1943.13 1575.87 L1940.55 1575.86 L1937.97 1575.84 L1935.4 1575.82 L1932.82 1575.8 L1930.24 1575.79 L1927.66 1575.77 L1925.09 1575.75 L1922.51 1575.73 L1919.93 1575.72 L1917.35 1575.7 L1914.78 1575.68 L1912.2 1575.66 L1909.62 1575.65 L1907.05 1575.63 L1904.47 1575.61 L1901.89 1575.59 L1899.31 1575.58 L1896.74 1575.56 L1894.16 1575.54 L1891.58 1575.52 L1889 1575.51 L1886.43 1575.49 L1883.85 1575.47 L1881.27 1575.45 L1878.69 1575.44 L1876.12 1575.42 L1873.54 1575.4 L1870.96 1575.38 L1868.38 1575.37 L1865.81 1575.35 L1863.23 1575.33 L1860.65 1575.31 L1858.07 1575.3 L1855.5 1575.28 L1852.92 1575.26 L1850.34 1575.24 L1847.76 1575.23 L1845.19 1575.21 L1842.61 1575.19 L1840.03 1575.17 L1837.45 1575.16 L1834.88 1575.14 L1832.3 1575.12 L1829.72 1575.1 L1827.14 1575.09 L1824.57 1575.07 L1821.99 1575.05 L1819.41 1575.03 L1816.83 1575.02 L1814.26 1575 L1811.68 1574.98 L1809.1 1574.96 L1806.52 1574.95 L1803.95 1574.93 L1801.37 1574.91 L1798.79 1574.89 L1796.22 1574.88 L1793.64 1574.86 L1791.06 1574.84 L1788.48 1574.82 L1785.91 1574.81 L1783.33 1574.79 L1780.75 1574.77 L1778.17 1574.75 L1775.6 1574.74 L1773.02 1574.72 L1770.44 1574.7 L1767.86 1574.68 L1765.29 1574.67 L1762.71 1574.65 L1760.13 1574.63 L1757.55 1574.61 L1754.98 1574.6 L1752.4 1574.58 L1749.82 1574.56 L1747.24 1574.55 L1744.67 1574.53 L1742.09 1574.51 L1739.51 1574.49 L1736.93 1574.48 L1734.36 1574.46 L1731.78 1574.44 L1729.2 1574.42 L1726.62 1574.41 L1724.05 1574.39 L1721.47 1574.37 L1718.89 1574.35 L1716.31 1574.34 L1713.74 1574.32 L1711.16 1574.3 L1708.58 1574.28 L1706 1574.27 L1703.43 1574.25 L1700.85 1574.23 L1698.27 1574.21 L1695.69 1574.2 L1693.12 1574.18 L1690.54 1574.16 L1687.96 1574.14 L1685.38 1574.13 L1682.81 1574.11 L1680.23 1574.09 L1677.65 1574.07 L1675.08 1574.06 L1672.5 1574.04 L1669.92 1574.02 L1667.34 1574 L1664.77 1573.99 L1662.19 1573.97 L1659.61 1573.95 L1657.03 1573.93 L1654.46 1573.92 L1651.88 1573.9 L1649.3 1573.88 L1646.72 1573.86 L1644.15 1573.85 L1641.57 1573.83 L1638.99 1573.81 L1636.41 1573.79 L1633.84 1573.78 L1631.26 1573.76 L1628.68 1573.74 L1626.1 1573.72 L1623.53 1573.71 L1620.95 1573.69 L1618.37 1573.67 L1615.79 1573.65 L1613.22 1573.64 L1610.64 1573.62 L1608.06 1573.6 L1605.48 1573.58 L1602.91 1573.57 L1600.33 1573.55 L1597.75 1573.53 L1595.17 1573.51 L1592.6 1573.5 L1590.02 1573.48 L1587.44 1573.46 L1584.86 1573.44 L1582.29 1573.43 L1579.71 1573.41 L1577.13 1573.39 L1574.55 1573.37 L1571.98 1573.36 L1569.4 1573.34 L1566.82 1573.32 L1564.25 1573.3 L1561.67 1573.29 L1559.09 1573.27 L1556.51 1573.25 L1553.94 1573.23 L1551.36 1573.22 L1548.78 1573.2 L1546.2 1573.18 L1543.63 1573.16 L1541.05 1573.15 L1538.47 1573.13 L1535.89 1573.11 L1533.32 1573.09 L1530.74 1573.08 L1528.16 1573.06 L1525.58 1573.04 L1523.01 1573.02 L1520.43 1573.01 L1517.85 1572.99 L1515.27 1572.97 L1512.7 1572.95 L1510.12 1572.94 L1507.54 1572.92 L1504.96 1572.9 L1502.39 1572.88 L1499.81 1572.87 L1497.23 1572.85 L1494.65 1572.83 L1492.08 1572.81 L1489.5 1572.8 L1486.92 1572.78 L1484.34 1572.76 L1481.77 1572.74 L1479.19 1572.73 L1476.61 1572.71 L1474.03 1572.69 L1471.46 1572.67 L1468.88 1572.66 L1466.3 1572.64 L1463.72 1572.62 L1461.15 1572.6 L1458.57 1572.59 L1455.99 1572.57 L1453.42 1572.55 L1450.84 1572.53 L1448.26 1572.52 L1445.68 1572.5 L1443.11 1572.48 L1440.53 1572.46 L1437.95 1572.45 L1435.37 1572.43 L1432.8 1572.41 L1430.22 1572.39 L1427.64 1572.38 L1425.06 1572.36 L1422.49 1572.34 L1419.91 1572.32 L1417.33 1572.31 L1414.75 1572.29 L1412.18 1572.27 L1409.6 1572.25 L1407.02 1572.24 L1404.44 1572.22 L1401.87 1572.2 L1399.29 1572.18 L1396.71 1572.17 L1394.13 1572.15 L1391.56 1572.13 L1388.98 1572.11 L1386.4 1572.1 L1383.82 1572.08 L1381.25 1572.06 L1378.67 1572.05 L1376.09 1572.03 L1373.51 1572.01 L1370.94 1571.99 L1368.36 1571.98 L1365.78 1571.96 L1363.2 1571.94 L1360.63 1571.92 L1358.05 1571.91 L1355.47 1571.89 L1352.89 1571.87 L1350.32 1571.85 L1347.74 1571.84 L1345.16 1571.82 L1342.58 1571.8 L1340.01 1571.78 L1337.43 1571.77 L1334.85 1571.75 L1332.28 1571.73 L1329.7 1571.71 L1327.12 1571.7 L1324.54 1571.68 L1321.97 1571.66 L1319.39 1571.64 L1316.81 1571.63 L1314.23 1571.61 L1311.66 1571.59 L1309.08 1571.57 L1306.5 1571.56 L1303.92 1571.54 L1301.35 1571.52 L1298.77 1571.5 L1296.19 1571.49 L1293.61 1571.47 L1291.04 1571.45 L1288.46 1571.43 L1285.88 1571.42 L1283.3 1571.4 L1280.73 1571.38 L1278.15 1571.36 L1275.57 1571.35 L1272.99 1571.33 L1270.42 1571.31 L1267.84 1571.29 L1265.26 1571.28 L1262.68 1571.26 L1260.11 1571.24 L1257.53 1571.22 L1254.95 1571.21 L1252.37 1571.19 L1249.8 1571.17 L1247.22 1571.15 L1244.64 1571.14 L1242.06 1571.12 L1239.49 1571.1 L1236.91 1571.08 L1234.33 1571.07 L1231.75 1571.05 L1229.18 1571.03 L1226.6 1571.01 Z" fill="url(#gB)" stroke="none"/>
<path d="M1226.6 1571.01 L1229.18 1571.03 L1231.75 1571.05 L1234.33 1571.07 L1236.91 1571.08 L1239.49 1571.1 L1242.06 1571.12 L1244.64 1571.14 L1247.22 1571.15 L1249.8 1571.17 L1252.37 1571.19 L1254.95 1571.21 L1257.53 1571.22 L1260.11 1571.24 L1262.68 1571.26 L1265.26 1571.28 L1267.84 1571.29 L1270.42 1571.31 L1272.99 1571.33 L1275.57 1571.35 L1278.15 1571.36 L1280.73 1571.38 L1283.3 1571.4 L1285.88 1571.42 L1288.46 1571.43 L1291.04 1571.45 L1293.61 1571.47 L1296.19 1571.49 L1298.77 1571.5 L1301.35 1571.52 L1303.92 1571.54 L1306.5 1571.56 L1309.08 1571.57 L1311.66 1571.59 L1314.23 1571.61 L1316.81 1571.63 L1319.39 1571.64 L1321.97 1571.66 L1324.54 1571.68 L1327.12 1571.7 L1329.7 1571.71 L1332.28 1571.73 L1334.85 1571.75 L1337.43 1571.77 L1340.01 1571.78 L1342.58 1571.8 L1345.16 1571.82 L1347.74 1571.84 L1350.32 1571.85 L1352.89 1571.87 L1355.47 1571.89 L1358.05 1571.91 L1360.63 1571.92 L1363.2 1571.94 L1365.78 1571.96 L1368.36 1571.98 L1370.94 1571.99 L1373.51 1572.01 L1376.09 1572.03 L1378.67 1572.05 L1381.25 1572.06 L1383.82 1572.08 L1386.4 1572.1 L1388.98 1572.11 L1391.56 1572.13 L1394.13 1572.15 L1396.71 1572.17 L1399.29 1572.18 L1401.87 1572.2 L1404.44 1572.22 L1407.02 1572.24 L1409.6 1572.25 L1412.18 1572.27 L1414.75 1572.29 L1417.33 1572.31 L1419.91 1572.32 L1422.49 1572.34 L1425.06 1572.36 L1427.64 1572.38 L1430.22 1572.39 L1432.8 1572.41 L1435.37 1572.43 L1437.95 1572.45 L1440.53 1572.46 L1443.11 1572.48 L1445.68 1572.5 L1448.26 1572.52 L1450.84 1572.53 L1453.42 1572.55 L1455.99 1572.57 L1458.57 1572.59 L1461.15 1572.6 L1463.72 1572.62 L1466.3 1572.64 L1468.88 1572.66 L1471.46 1572.67 L1474.03 1572.69 L1476.61 1572.71 L1479.19 1572.73 L1481.77 1572.74 L1484.34 1572.76 L1486.92 1572.78 L1489.5 1572.8 L1492.08 1572.81 L1494.65 1572.83 L1497.23 1572.85 L1499.81 1572.87 L1502.39 1572.88 L1504.96 1572.9 L1507.54 1572.92 L1510.12 1572.94 L1512.7 1572.95 L1515.27 1572.97 L1517.85 1572.99 L1520.43 1573.01 L1523.01 1573.02 L1525.58 1573.04 L1528.16 1573.06 L1530.74 1573.08 L1533.32 1573.09 L1535.89 1573.11 L1538.47 1573.13 L1541.05 1573.15 L1543.63 1573.16 L1546.2 1573.18 L1548.78 1573.2 L1551.36 1573.22 L1553.94 1573.23 L1556.51 1573.25 L1559.09 1573.27 L1561.67 1573.29 L1564.25 1573.3 L1566.82 1573.32 L1569.4 1573.34 L1571.98 1573.36 L1574.55 1573.37 L1577.13 1573.39 L1579.71 1573.41 L1582.29 1573.43 L1584.86 1573.44 L1587.44 1573.46 L1590.02 1573.48 L1592.6 1573.5 L1595.17 1573.51 L1597.75 1573.53 L1600.33 1573.55 L1602.91 1573.57 L1605.48 1573.58 L1608.06 1573.6 L1610.64 1573.62 L1613.22 1573.64 L1615.79 1573.65 L1618.37 1573.67 L1620.95 1573.69 L1623.53 1573.71 L1626.1 1573.72 L1628.68 1573.74 L1631.26 1573.76 L1633.84 1573.78 L1636.41 1573.79 L1638.99 1573.81 L1641.57 1573.83 L1644.15 1573.84 L1646.72 1573.86 L1649.3 1573.88 L1651.88 1573.9 L1654.46 1573.91 L1657.03 1573.93 L1659.61 1573.95 L1662.19 1573.96 L1664.77 1573.98 L1667.34 1574 L1669.92 1574.01 L1672.5 1574.03 L1675.08 1574.04 L1677.65 1574.06 L1680.23 1574.07 L1682.81 1574.09 L1685.38 1574.1 L1687.96 1574.11 L1690.54 1574.12 L1693.12 1574.13 L1695.69 1574.14 L1698.27 1574.14 L1700.85 1574.15 L1703.43 1574.15 L1706 1574.15 L1708.58 1574.14 L1711.16 1574.14 L1713.74 1574.12 L1716.31 1574.11 L1718.89 1574.08 L1721.47 1574.05 L1724.05 1574.02 L1726.62 1573.97 L1729.2 1573.92 L1731.78 1573.85 L1734.36 1573.77 L1736.93 1573.67 L1739.51 1573.56 L1742.09 1573.44 L1744.67 1573.29 L1747.24 1573.11 L1749.82 1572.92 L1752.4 1572.69 L1754.98 1572.43 L1757.55 1572.13 L1760.13 1571.8 L1762.71 1571.42 L1765.29 1570.99 L1767.86 1570.51 L1770.44 1569.97 L1773.02 1569.37 L1775.6 1568.69 L1778.17 1567.95 L1780.75 1567.11 L1783.33 1566.19 L1785.91 1565.17 L1788.48 1564.05 L1791.06 1562.82 L1793.64 1561.47 L1796.22 1559.98 L1798.79 1558.37 L1801.37 1556.61 L1803.95 1554.69 L1806.52 1552.62 L1809.1 1550.37 L1811.68 1547.95 L1814.26 1545.35 L1816.83 1542.55 L1819.41 1539.55 L1821.99 1536.35 L1824.57 1532.93 L1827.14 1529.3 L1829.72 1525.44 L1832.3 1521.37 L1834.88 1517.06 L1837.45 1512.53 L1840.03 1507.77 L1842.61 1502.79 L1845.19 1497.58 L1847.76 1492.15 L1850.34 1486.52 L1852.92 1480.68 L1855.5 1474.64 L1858.07 1468.43 L1860.65 1462.04 L1863.23 1455.51 L1865.81 1448.83 L1868.38 1442.04 L1870.96 1435.14 L1873.54 1428.18 L1876.12 1421.15 L1878.69 1414.11 L1881.27 1407.06 L1883.85 1400.04 L1886.43 1393.07 L1889 1386.19 L1891.58 1379.42 L1894.16 1372.8 L1896.74 1366.35 L1899.31 1360.12 L1901.89 1354.12 L1904.47 1348.38 L1907.05 1342.94 L1909.62 1337.83 L1912.2 1333.07 L1914.78 1328.69 L1917.35 1324.71 L1919.93 1321.15 L1922.51 1318.03 L1925.09 1315.37 L1927.66 1313.19 L1930.24 1311.5 L1932.82 1310.31 L1935.4 1309.62 L1937.97 1309.44 L1940.55 1309.78 L1943.13 1310.65 L1945.71 1312.06 L1948.28 1313.98 L1950.86 1316.41 L1953.44 1319.33 L1956.02 1322.73 L1958.59 1326.59 L1961.17 1330.88 L1963.75 1335.58 L1966.33 1340.66 L1968.9 1346.1 L1971.48 1351.87 L1974.06 1357.93 L1976.64 1364.25 L1979.21 1370.8 L1981.79 1377.55 L1984.37 1384.47 L1986.95 1391.51 L1989.52 1398.66 L1992.1 1405.87 L1994.68 1413.12 L1997.26 1420.37 L1999.83 1427.6 L2002.41 1434.79 L2004.99 1441.89 L2007.57 1448.9 L2010.14 1455.79 L2012.72 1462.53 L2015.3 1469.12 L2017.88 1475.53 L2020.45 1481.74 L2023.03 1487.76 L2025.61 1493.56 L2028.18 1499.14 L2030.76 1504.49 L2033.34 1509.61 L2035.92 1514.49 L2038.49 1519.13 L2041.07 1523.53 L2043.65 1527.7 L2046.23 1531.63 L2048.8 1535.34 L2051.38 1538.81 L2053.96 1542.07 L2056.54 1545.11 L2059.11 1547.94 L2061.69 1550.58 L2064.27 1553.02 L2066.85 1555.28 L2069.42 1557.37 L2072 1559.29 L2074.58 1561.06 L2077.16 1562.68 L2079.73 1564.16 L2082.31 1565.51 L2084.89 1566.74 L2087.47 1567.86 L2090.04 1568.88 L2092.62 1569.8 L2095.2 1570.63 L2097.78 1571.38 L2100.35 1572.05 L2102.93 1572.65 L2105.51 1573.19 L2108.09 1573.68 L2110.66 1574.11 L2113.24 1574.5 L2115.82 1574.84 L2118.4 1575.14 L2120.97 1575.41 L2123.55 1575.66 L2126.13 1575.87 L2128.71 1576.06 L2131.28 1576.22 L2133.86 1576.37 L2136.44 1576.5 L2139.02 1576.62 L2141.59 1576.72 L2144.17 1576.81 L2146.75 1576.89 L2149.32 1576.97 L2151.9 1577.03 L2154.48 1577.09 L2157.06 1577.14 L2159.63 1577.19 L2162.21 1577.23 L2164.79 1577.27 L2167.37 1577.3 L2169.94 1577.34 L2172.52 1577.37 L2175.1 1577.39 L2177.68 1577.42 L2180.25 1577.45 L2182.83 1577.47 L2185.41 1577.49 L2187.99 1577.51 L2190.56 1577.54 L2193.14 1577.56 L2195.72 1577.58 L2198.3 1577.6 L2200.87 1577.61 L2203.45 1577.63 L2206.03 1577.65 L2208.61 1577.67 L2211.18 1577.69 L2213.76 1577.71 L2216.34 1577.72 L2218.92 1577.74 L2221.49 1577.76 L2224.07 1577.78 L2226.65 1577.8 L2229.23 1577.81 L2231.8 1577.83 L2234.38 1577.85 L2236.96 1577.87 L2239.54 1577.88 L2242.11 1577.9 L2244.69 1577.92 L2247.27 1577.94 L2249.85 1577.95 L2252.42 1577.97 L2255 1577.99" fill="none" stroke="#c8c8ff" stroke-width="1.2" stroke-linejoin="round" stroke-linecap="round"/>
<path d="M1226.6 1570.71 L1229.18 1570.73 L1231.75 1570.74 L1234.33 1570.76 L1236.91 1570.77 L1239.49 1570.79 L1242.06 1570.8 L1244.64 1570.81 L1247.22 1570.83 L1249.8 1570.84 L1252.37 1570.85 L1254.95 1570.87 L1257.53 1570.88 L1260.11 1570.89 L1262.68 1570.91 L1265.26 1570.92 L1267.84 1570.93 L1270.42 1570.94 L1272.99 1570.96 L1275.57 1570.97 L1278.15 1570.98 L1280.73 1570.99 L1283.3 1571 L1285.88 1571.02 L1288.46 1571.03 L1291.04 1571.04 L1293.61 1571.05 L1296.19 1571.06 L1298.77 1571.07 L1301.35 1571.08 L1303.92 1571.09 L1306.5 1571.09 L1309.08 1571.1 L1311.66 1571.11 L1314.23 1571.12 L1316.81 1571.12 L1319.39 1571.13 L1321.97 1571.14 L1324.54 1571.14 L1327.12 1571.14 L1329.7 1571.15 L1332.28 1571.15 L1334.85 1571.15 L1337.43 1571.15 L1340.01 1571.15 L1342.58 1571.15 L1345.16 1571.15 L1347.74 1571.14 L1350.32 1571.14 L1352.89 1571.13 L1355.47 1571.13 L1358.05 1571.12 L1360.63 1571.11 L1363.2 1571.1 L1365.78 1571.08 L1368.36 1571.07 L1370.94 1571.05 L1373.51 1571.03 L1376.09 1571.01 L1378.67 1570.98 L1381.25 1570.96 L1383.82 1570.93 L1386.4 1570.9 L1388.98 1570.86 L1391.56 1570.82 L1394.13 1570.78 L1396.71 1570.74 L1399.29 1570.69 L1401.87 1570.64 L1404.44 1570.58 L1407.02 1570.52 L1409.6 1570.46 L1412.18 1570.39 L1414.75 1570.32 L1417.33 1570.24 L1419.91 1570.16 L1422.49 1570.07 L1425.06 1569.98 L1427.64 1569.88 L1430.22 1569.77 L1432.8 1569.66 L1435.37 1569.54 L1437.95 1569.42 L1440.53 1569.29 L1443.11 1569.15 L1445.68 1569 L1448.26 1568.84 L1450.84 1568.68 L1453.42 1568.51 L1455.99 1568.33 L1458.57 1568.13 L1461.15 1567.93 L1463.72 1567.72 L1466.3 1567.5 L1468.88 1567.27 L1471.46 1567.03 L1474.03 1566.78 L1476.61 1566.51 L1479.19 1566.24 L1481.77 1565.95 L1484.34 1565.65 L1486.92 1565.33 L1489.5 1565 L1492.08 1564.66 L1494.65 1564.31 L1497.23 1563.94 L1499.81 1563.56 L1502.39 1563.16 L1504.96 1562.74 L1507.54 1562.31 L1510.12 1561.87 L1512.7 1561.41 L1515.27 1560.93 L1517.85 1560.44 L1520.43 1559.93 L1523.01 1559.41 L1525.58 1558.86 L1528.16 1558.3 L1530.74 1557.72 L1533.32 1557.13 L1535.89 1556.52 L1538.47 1555.89 L1541.05 1555.24 L1543.63 1554.57 L1546.2 1553.89 L1548.78 1553.19 L1551.36 1552.47 L1553.94 1551.73 L1556.51 1550.98 L1559.09 1550.21 L1561.67 1549.42 L1564.25 1548.61 L1566.82 1547.79 L1569.4 1546.95 L1571.98 1546.1 L1574.55 1545.22 L1577.13 1544.34 L1579.71 1543.44 L1582.29 1542.52 L1584.86 1541.59 L1587.44 1540.64 L1590.02 1539.68 L1592.6 1538.71 L1595.17 1537.73 L1597.75 1536.73 L1600.33 1535.73 L1602.91 1534.71 L1605.48 1533.69 L1608.06 1532.65 L1610.64 1531.61 L1613.22 1530.56 L1615.79 1529.51 L1618.37 1528.45 L1620.95 1527.39 L1623.53 1526.33 L1626.1 1525.26 L1628.68 1524.19 L1631.26 1523.12 L1633.84 1522.06 L1636.41 1520.99 L1638.99 1519.93 L1641.57 1518.88 L1644.15 1517.83 L1646.72 1516.79 L1649.3 1515.75 L1651.88 1514.73 L1654.46 1513.72 L1657.03 1512.72 L1659.61 1511.73 L1662.19 1510.76 L1664.77 1509.8 L1667.34 1508.86 L1669.92 1507.94 L1672.5 1507.04 L1675.08 1506.16 L1677.65 1505.31 L1680.23 1504.47 L1682.81 1503.67 L1685.38 1502.89 L1687.96 1502.13 L1690.54 1501.41 L1693.12 1500.71 L1695.69 1500.04 L1698.27 1499.41 L1700.85 1498.81 L1703.43 1498.24 L1706 1497.71 L1708.58 1497.22 L1711.16 1496.76 L1713.74 1496.33 L1716.31 1495.95 L1718.89 1495.6 L1721.47 1495.3 L1724.05 1495.03 L1726.62 1494.8 L1729.2 1494.62 L1731.78 1494.48 L1734.36 1494.37 L1736.93 1494.31 L1739.51 1494.29 L1742.09 1494.32 L1744.67 1494.38 L1747.24 1494.48 L1749.82 1494.63 L1752.4 1494.81 L1754.98 1495.03 L1757.55 1495.3 L1760.13 1495.6 L1762.71 1495.94 L1765.29 1496.32 L1767.86 1496.73 L1770.44 1497.19 L1773.02 1497.67 L1775.6 1498.2 L1778.17 1498.76 L1780.75 1499.35 L1783.33 1499.97 L1785.91 1500.63 L1788.48 1501.32 L1791.06 1502.03 L1793.64 1502.78 L1796.22 1503.55 L1798.79 1504.35 L1801.37 1505.18 L1803.95 1506.03 L1806.52 1506.9 L1809.1 1507.8 L1811.68 1508.71 L1814.26 1509.65 L1816.83 1510.6 L1819.41 1511.57 L1821.99 1512.56 L1824.57 1513.56 L1827.14 1514.57 L1829.72 1515.6 L1832.3 1516.64 L1834.88 1517.68 L1837.45 1518.74 L1840.03 1519.8 L1842.61 1520.88 L1845.19 1521.95 L1847.76 1523.03 L1850.34 1524.11 L1852.92 1525.2 L1855.5 1526.28 L1858.07 1527.37 L1860.65 1528.45 L1863.23 1529.53 L1865.81 1530.61 L1868.38 1531.68 L1870.96 1532.75 L1873.54 1533.81 L1876.12 1534.87 L1878.69 1535.91 L1881.27 1536.95 L1883.85 1537.98 L1886.43 1539 L1889 1540.01 L1891.58 1541.01 L1894.16 1542 L1896.74 1542.97 L1899.31 1543.93 L1901.89 1544.88 L1904.47 1545.81 L1907.05 1546.73 L1909.62 1547.64 L1912.2 1548.53 L1914.78 1549.4 L1917.35 1550.26 L1919.93 1551.1 L1922.51 1551.93 L1925.09 1552.74 L1927.66 1553.53 L1930.24 1554.3 L1932.82 1555.06 L1935.4 1555.8 L1937.97 1556.53 L1940.55 1557.24 L1943.13 1557.93 L1945.71 1558.6 L1948.28 1559.26 L1950.86 1559.89 L1953.44 1560.52 L1956.02 1561.12 L1958.59 1561.71 L1961.17 1562.28 L1963.75 1562.84 L1966.33 1563.37 L1968.9 1563.9 L1971.48 1564.4 L1974.06 1564.89 L1976.64 1565.37 L1979.21 1565.83 L1981.79 1566.28 L1984.37 1566.71 L1986.95 1567.12 L1989.52 1567.53 L1992.1 1567.92 L1994.68 1568.29 L1997.26 1568.65 L1999.83 1569 L2002.41 1569.34 L2004.99 1569.66 L2007.57 1569.97 L2010.14 1570.28 L2012.72 1570.56 L2015.3 1570.84 L2017.88 1571.11 L2020.45 1571.37 L2023.03 1571.61 L2025.61 1571.85 L2028.18 1572.08 L2030.76 1572.3 L2033.34 1572.51 L2035.92 1572.71 L2038.49 1572.9 L2041.07 1573.09 L2043.65 1573.27 L2046.23 1573.44 L2048.8 1573.6 L2051.38 1573.76 L2053.96 1573.9 L2056.54 1574.05 L2059.11 1574.19 L2061.69 1574.32 L2064.27 1574.44 L2066.85 1574.56 L2069.42 1574.68 L2072 1574.79 L2074.58 1574.89 L2077.16 1574.99 L2079.73 1575.09 L2082.31 1575.18 L2084.89 1575.27 L2087.47 1575.36 L2090.04 1575.44 L2092.62 1575.52 L2095.2 1575.59 L2097.78 1575.66 L2100.35 1575.73 L2102.93 1575.8 L2105.51 1575.86 L2108.09 1575.92 L2110.66 1575.98 L2113.24 1576.04 L2115.82 1576.09 L2118.4 1576.15 L2120.97 1576.2 L2123.55 1576.25 L2126.13 1576.29 L2128.71 1576.34 L2131.28 1576.38 L2133.86 1576.42 L2136.44 1576.47 L2139.02 1576.51 L2141.59 1576.54 L2144.17 1576.58 L2146.75 1576.62 L2149.32 1576.65 L2151.9 1576.69 L2154.48 1576.72 L2157.06 1576.75 L2159.63 1576.78 L2162.21 1576.82 L2164.79 1576.85 L2167.37 1576.88 L2169.94 1576.9 L2172.52 1576.93 L2175.1 1576.96 L2177.68 1576.99 L2180.25 1577.02 L2182.83 1577.04 L2185.41 1577.07 L2187.99 1577.09 L2190.56 1577.12 L2193.14 1577.14 L2195.72 1577.17 L2198.3 1577.19 L2200.87 1577.22 L2203.45 1577.24 L2206.03 1577.26 L2208.61 1577.29 L2211.18 1577.31 L2213.76 1577.33 L2216.34 1577.36 L2218.92 1577.38 L2221.49 1577.4 L2224.07 1577.42 L2226.65 1577.45 L2229.23 1577.47 L2231.8 1577.49 L2234.38 1577.51 L2236.96 1577.53 L2239.54 1577.55 L2242.11 1577.57 L2244.69 1577.6 L2247.27 1577.62 L2249.85 1577.64 L2252.42 1577.66 L2255 1577.68 L2255 1577.99 L2252.42 1577.97 L2249.85 1577.95 L2247.27 1577.94 L2244.69 1577.92 L2242.11 1577.9 L2239.54 1577.88 L2236.96 1577.87 L2234.38 1577.85 L2231.8 1577.83 L2229.23 1577.81 L2226.65 1577.8 L2224.07 1577.78 L2221.49 1577.76 L2218.92 1577.74 L2216.34 1577.73 L2213.76 1577.71 L2211.18 1577.69 L2208.61 1577.67 L2206.03 1577.66 L2203.45 1577.64 L2200.87 1577.62 L2198.3 1577.6 L2195.72 1577.59 L2193.14 1577.57 L2190.56 1577.55 L2187.99 1577.53 L2185.41 1577.52 L2182.83 1577.5 L2180.25 1577.48 L2177.68 1577.46 L2175.1 1577.45 L2172.52 1577.43 L2169.94 1577.41 L2167.37 1577.39 L2164.79 1577.38 L2162.21 1577.36 L2159.63 1577.34 L2157.06 1577.32 L2154.48 1577.31 L2151.9 1577.29 L2149.32 1577.27 L2146.75 1577.25 L2144.17 1577.24 L2141.59 1577.22 L2139.02 1577.2 L2136.44 1577.18 L2133.86 1577.17 L2131.28 1577.15 L2128.71 1577.13 L2126.13 1577.12 L2123.55 1577.1 L2120.97 1577.08 L2118.4 1577.06 L2115.82 1577.05 L2113.24 1577.03 L2110.66 1577.01 L2108.09 1576.99 L2105.51 1576.98 L2102.93 1576.96 L2100.35 1576.94 L2097.78 1576.92 L2095.2 1576.91 L2092.62 1576.89 L2090.04 1576.87 L2087.47 1576.85 L2084.89 1576.84 L2082.31 1576.82 L2079.73 1576.8 L2077.16 1576.78 L2074.58 1576.77 L2072 1576.75 L2069.42 1576.73 L2066.85 1576.71 L2064.27 1576.7 L2061.69 1576.68 L2059.11 1576.66 L2056.54 1576.64 L2053.96 1576.63 L2051.38 1576.61 L2048.8 1576.59 L2046.23 1576.57 L2043.65 1576.56 L2041.07 1576.54 L2038.49 1576.52 L2035.92 1576.5 L2033.34 1576.49 L2030.76 1576.47 L2028.18 1576.45 L2025.61 1576.43 L2023.03 1576.42 L2020.45 1576.4 L2017.88 1576.38 L2015.3 1576.36 L2012.72 1576.35 L2010.14 1576.33 L2007.57 1576.31 L2004.99 1576.29 L2002.41 1576.28 L1999.83 1576.26 L1997.26 1576.24 L1994.68 1576.22 L1992.1 1576.21 L1989.52 1576.19 L1986.95 1576.17 L1984.37 1576.15 L1981.79 1576.14 L1979.21 1576.12 L1976.64 1576.1 L1974.06 1576.08 L1971.48 1576.07 L1968.9 1576.05 L1966.33 1576.03 L1963.75 1576.01 L1961.17 1576 L1958.59 1575.98 L1956.02 1575.96 L1953.44 1575.94 L1950.86 1575.93 L1948.28 1575.91 L1945.71 1575.89 L1943.13 1575.87 L1940.55 1575.86 L1937.97 1575.84 L1935.4 1575.82 L1932.82 1575.8 L1930.24 1575.79 L1927.66 1575.77 L1925.09 1575.75 L1922.51 1575.73 L1919.93 1575.72 L1917.35 1575.7 L1914.78 1575.68 L1912.2 1575.66 L1909.62 1575.65 L1907.05 1575.63 L1904.47 1575.61 L1901.89 1575.59 L1899.31 1575.58 L1896.74 1575.56 L1894.16 1575.54 L1891.58 1575.52 L1889 1575.51 L1886.43 1575.49 L1883.85 1575.47 L1881.27 1575.45 L1878.69 1575.44 L1876.12 1575.42 L1873.54 1575.4 L1870.96 1575.38 L1868.38 1575.37 L1865.81 1575.35 L1863.23 1575.33 L1860.65 1575.31 L1858.07 1575.3 L1855.5 1575.28 L1852.92 1575.26 L1850.34 1575.24 L1847.76 1575.23 L1845.19 1575.21 L1842.61 1575.19 L1840.03 1575.17 L1837.45 1575.16 L1834.88 1575.14 L1832.3 1575.12 L1829.72 1575.1 L1827.14 1575.09 L1824.57 1575.07 L1821.99 1575.05 L1819.41 1575.03 L1816.83 1575.02 L1814.26 1575 L1811.68 1574.98 L1809.1 1574.96 L1806.52 1574.95 L1803.95 1574.93 L1801.37 1574.91 L1798.79 1574.89 L1796.22 1574.88 L1793.64 1574.86 L1791.06 1574.84 L1788.48 1574.82 L1785.91 1574.81 L1783.33 1574.79 L1780.75 1574.77 L1778.17 1574.75 L1775.6 1574.74 L1773.02 1574.72 L1770.44 1574.7 L1767.86 1574.68 L1765.29 1574.67 L1762.71 1574.65 L1760.13 1574.63 L1757.55 1574.61 L1754.98 1574.6 L1752.4 1574.58 L1749.82 1574.56 L1747.24 1574.55 L1744.67 1574.53 L1742.09 1574.51 L1739.51 1574.49 L1736.93 1574.48 L1734.36 1574.46 L1731.78 1574.44 L1729.2 1574.42 L1726.62 1574.41 L1724.05 1574.39 L1721.47 1574.37 L1718.89 1574.35 L1716.31 1574.34 L1713.74 1574.32 L1711.16 1574.3 L1708.58 1574.28 L1706 1574.27 L1703.43 1574.25 L1700.85 1574.23 L1698.27 1574.21 L1695.69 1574.2 L1693.12 1574.18 L1690.54 1574.16 L1687.96 1574.14 L1685.38 1574.13 L1682.81 1574.11 L1680.23 1574.09 L1677.65 1574.07 L1675.08 1574.06 L1672.5 1574.04 L1669.92 1574.02 L1667.34 1574 L1664.77 1573.99 L1662.19 1573.97 L1659.61 1573.95 L1657.03 1573.93 L1654.46 1573.92 L1651.88 1573.9 L1649.3 1573.88 L1646.72 1573.86 L1644.15 1573.85 L1641.57 1573.83 L1638.99 1573.81 L1636.41 1573.79 L1633.84 1573.78 L1631.26 1573.76 L1628.68 1573.74 L1626.1 1573.72 L1623.53 1573.71 L1620.95 1573.69 L1618.37 1573.67 L1615.79 1573.65 L1613.22 1573.64 L1610.64 1573.62 L1608.06 1573.6 L1605.48 1573.58 L1602.91 1573.57 L1600.33 1573.55 L1597.75 1573.53 L1595.17 1573.51 L1592.6 1573.5 L1590.02 1573.48 L1587.44 1573.46 L1584.86 1573.44 L1582.29 1573.43 L1579.71 1573.41 L1577.13 1573.39 L1574.55 1573.37 L1571.98 1573.36 L1569.4 1573.34 L1566.82 1573.32 L1564.25 1573.3 L1561.67 1573.29 L1559.09 1573.27 L1556.51 1573.25 L1553.94 1573.23 L1551.36 1573.22 L1548.78 1573.2 L1546.2 1573.18 L1543.63 1573.16 L1541.05 1573.15 L1538.47 1573.13 L1535.89 1573.11 L1533.32 1573.09 L1530.74 1573.08 L1528.16 1573.06 L1525.58 1573.04 L1523.01 1573.02 L1520.43 1573.01 L1517.85 1572.99 L1515.27 1572.97 L1512.7 1572.95 L1510.12 1572.94 L1507.54 1572.92 L1504.96 1572.9 L1502.39 1572.88 L1499.81 1572.87 L1497.23 1572.85 L1494.65 1572.83 L1492.08 1572.81 L1489.5 1572.8 L1486.92 1572.78 L1484.34 1572.76 L1481.77 1572.74 L1479.19 1572.73 L1476.61 1572.71 L1474.03 1572.69 L1471.46 1572.67 L1468.88 1572.66 L1466.3 1572.64 L1463.72 1572.62 L1461.15 1572.6 L1458.57 1572.59 L1455.99 1572.57 L1453.42 1572.55 L1450.84 1572.53 L1448.26 1572.52 L1445.68 1572.5 L1443.11 1572.48 L1440.53 1572.46 L1437.95 1572.45 L1435.37 1572.43 L1432.8 1572.41 L1430.22 1572.39 L1427.64 1572.38 L1425.06 1572.36 L1422.49 1572.34 L1419.91 1572.32 L1417.33 1572.31 L1414.75 1572.29 L1412.18 1572.27 L1409.6 1572.25 L1407.02 1572.24 L1404.44 1572.22 L1401.87 1572.2 L1399.29 1572.18 L1396.71 1572.17 L1394.13 1572.15 L1391.56 1572.13 L1388.98 1572.11 L1386.4 1572.1 L1383.82 1572.08 L1381.25 1572.06 L1378.67 1572.05 L1376.09 1572.03 L1373.51 1572.01 L1370.94 1571.99 L1368.36 1571.98 L1365.78 1571.96 L1363.2 1571.94 L1360.63 1571.92 L1358.05 1571.91 L1355.47 1571.89 L1352.89 1571.87 L1350.32 1571.85 L1347.74 1571.84 L1345.16 1571.82 L1342.58 1571.8 L1340.01 1571.78 L1337.43 1571.77 L1334.85 1571.75 L1332.28 1571.73 L1329.7 1571.71 L1327.12 1571.7 L1324.54 1571.68 L1321.97 1571.66 L1319.39 1571.64 L1316.81 1571.63 L1314.23 1571.61 L1311.66 1571.59 L1309.08 1571.57 L1306.5 1571.56 L1303.92 1571.54 L1301.35 1571.52 L1298.77 1571.5 L1296.19 1571.49 L1293.61 1571.47 L1291.04 1571.45 L1288.46 1571.43 L1285.88 1571.42 L1283.3 1571.4 L1280.73 1571.38 L1278.15 1571.36 L1275.57 1571.35 L1272.99 1571.33 L1270.42 1571.31 L1267.84 1571.29 L1265.26 1571.28 L1262.68 1571.26 L1260.11 1571.24 L1257.53 1571.22 L1254.95 1571.21 L1252.37 1571.19 L1249.8 1571.17 L1247.22 1571.15 L1244.64 1571.14 L1242.06 1571.12 L1239.49 1571.1 L1236.91 1571.08 L1234.33 1571.07 L1231.75 1571.05 L1229.18 1571.03 L1226.6 1571.01 Z" fill="url(#gM)" stroke="none"/>
<path d="M1226.6 1570.71 L1229.18 1570.73 L1231.75 1570.74 L1234.33 1570.76 L1236.91 1570.77 L1239.49 1570.79 L1242.06 1570.8 L1244.64 1570.81 L1247.22 1570.83 L1249.8 1570.84 L1252.37 1570.85 L1254.95 1570.87 L1257.53 1570.88 L1260.11 1570.89 L1262.68 1570.91 L1265.26 1570.92 L1267.84 1570.93 L1270.42 1570.94 L1272.99 1570.96 L1275.57 1570.97 L1278.15 1570.98 L1280.73 1570.99 L1283.3 1571 L1285.88 1571.02 L1288.46 1571.03 L1291.04 1571.04 L1293.61 1571.05 L1296.19 1571.06 L1298.77 1571.07 L1301.35 1571.08 L1303.92 1571.09 L1306.5 1571.09 L1309.08 1571.1 L1311.66 1571.11 L1314.23 1571.12 L1316.81 1571.12 L1319.39 1571.13 L1321.97 1571.14 L1324.54 1571.14 L1327.12 1571.14 L1329.7 1571.15 L1332.28 1571.15 L1334.85 1571.15 L1337.43 1571.15 L1340.01 1571.15 L1342.58 1571.15 L1345.16 1571.15 L1347.74 1571.14 L1350.32 1571.14 L1352.89 1571.13 L1355.47 1571.13 L1358.05 1571.12 L1360.63 1571.11 L1363.2 1571.1 L1365.78 1571.08 L1368.36 1571.07 L1370.94 1571.05 L1373.51 1571.03 L1376.09 1571.01 L1378.67 1570.98 L1381.25 1570.96 L1383.82 1570.93 L1386.4 1570.9 L1388.98 1570.86 L1391.56 1570.82 L1394.13 1570.78 L1396.71 1570.74 L1399.29 1570.69 L1401.87 1570.64 L1404.44 1570.58 L1407.02 1570.52 L1409.6 1570.46 L1412.18 1570.39 L1414.75 1570.32 L1417.33 1570.24 L1419.91 1570.16 L1422.49 1570.07 L1425.06 1569.98 L1427.64 1569.88 L1430.22 1569.77 L1432.8 1569.66 L1435.37 1569.54 L1437.95 1569.42 L1440.53 1569.29 L1443.11 1569.15 L1445.68 1569 L1448.26 1568.84 L1450.84 1568.68 L1453.42 1568.51 L1455.99 1568.33 L1458.57 1568.13 L1461.15 1567.93 L1463.72 1567.72 L1466.3 1567.5 L1468.88 1567.27 L1471.46 1567.03 L1474.03 1566.78 L1476.61 1566.51 L1479.19 1566.24 L1481.77 1565.95 L1484.34 1565.65 L1486.92 1565.33 L1489.5 1565 L1492.08 1564.66 L1494.65 1564.31 L1497.23 1563.94 L1499.81 1563.56 L1502.39 1563.16 L1504.96 1562.74 L1507.54 1562.31 L1510.12 1561.87 L1512.7 1561.41 L1515.27 1560.93 L1517.85 1560.44 L1520.43 1559.93 L1523.01 1559.41 L1525.58 1558.86 L1528.16 1558.3 L1530.74 1557.72 L1533.32 1557.13 L1535.89 1556.52 L1538.47 1555.89 L1541.05 1555.24 L1543.63 1554.57 L1546.2 1553.89 L1548.78 1553.19 L1551.36 1552.47 L1553.94 1551.73 L1556.51 1550.98 L1559.09 1550.21 L1561.67 1549.42 L1564.25 1548.61 L1566.82 1547.79 L1569.4 1546.95 L1571.98 1546.1 L1574.55 1545.22 L1577.13 1544.34 L1579.71 1543.44 L1582.29 1542.52 L1584.86 1541.59 L1587.44 1540.64 L1590.02 1539.68 L1592.6 1538.71 L1595.17 1537.73 L1597.75 1536.73 L1600.33 1535.73 L1602.91 1534.71 L1605.48 1533.69 L1608.06 1532.65 L1610.64 1531.61 L1613.22 1530.56 L1615.79 1529.51 L1618.37 1528.45 L1620.95 1527.39 L1623.53 1526.33 L1626.1 1525.26 L1628.68 1524.19 L1631.26 1523.12 L1633.84 1522.06 L1636.41 1520.99 L1638.99 1519.93 L1641.57 1518.88 L1644.15 1517.83 L1646.72 1516.79 L1649.3 1515.75 L1651.88 1514.73 L1654.46 1513.72 L1657.03 1512.72 L1659.61 1511.73 L1662.19 1510.76 L1664.77 1509.8 L1667.34 1508.86 L1669.92 1507.94 L1672.5 1507.04 L1675.08 1506.16 L1677.65 1505.31 L1680.23 1504.47 L1682.81 1503.67 L1685.38 1502.89 L1687.96 1502.13 L1690.54 1501.41 L1693.12 1500.71 L1695.69 1500.04 L1698.27 1499.41 L1700.85 1498.81 L1703.43 1498.24 L1706 1497.71 L1708.58 1497.22 L1711.16 1496.76 L1713.74 1496.33 L1716.31 1495.95 L1718.89 1495.6 L1721.47 1495.3 L1724.05 1495.03 L1726.62 1494.8 L1729.2 1494.62 L1731.78 1494.48 L1734.36 1494.37 L1736.93 1494.31 L1739.51 1494.29 L1742.09 1494.32 L1744.67 1494.38 L1747.24 1494.48 L1749.82 1494.63 L1752.4 1494.81 L1754.98 1495.03 L1757.55 1495.3 L1760.13 1495.6 L1762.71 1495.94 L1765.29 1496.32 L1767.86 1496.73 L1770.44 1497.19 L1773.02 1497.67 L1775.6 1498.2 L1778.17 1498.76 L1780.75 1499.35 L1783.33 1499.97 L1785.91 1500.63 L1788.48 1501.32 L1791.06 1502.03 L1793.64 1502.78 L1796.22 1503.55 L1798.79 1504.35 L1801.37 1505.18 L1803.95 1506.03 L1806.52 1506.9 L1809.1 1507.8 L1811.68 1508.71 L1814.26 1509.65 L1816.83 1510.6 L1819.41 1511.57 L1821.99 1512.56 L1824.57 1513.56 L1827.14 1514.57 L1829.72 1515.6 L1832.3 1516.64 L1834.88 1517.68 L1837.45 1518.74 L1840.03 1519.8 L1842.61 1520.88 L1845.19 1521.95 L1847.76 1523.03 L1850.34 1524.11 L1852.92 1525.2 L1855.5 1526.28 L1858.07 1527.37 L1860.65 1528.45 L1863.23 1529.53 L1865.81 1530.61 L1868.38 1531.68 L1870.96 1532.75 L1873.54 1533.81 L1876.12 1534.87 L1878.69 1535.91 L1881.27 1536.95 L1883.85 1537.98 L1886.43 1539 L1889 1540.01 L1891.58 1541.01 L1894.16 1542 L1896.74 1542.97 L1899.31 1543.93 L1901.89 1544.88 L1904.47 1545.81 L1907.05 1546.73 L1909.62 1547.64 L1912.2 1548.53 L1914.78 1549.4 L1917.35 1550.26 L1919.93 1551.1 L1922.51 1551.93 L1925.09 1552.74 L1927.66 1553.53 L1930.24 1554.3 L1932.82 1555.06 L1935.4 1555.8 L1937.97 1556.53 L1940.55 1557.24 L1943.13 1557.93 L1945.71 1558.6 L1948.28 1559.26 L1950.86 1559.89 L1953.44 1560.52 L1956.02 1561.12 L1958.59 1561.71 L1961.17 1562.28 L1963.75 1562.84 L1966.33 1563.37 L1968.9 1563.9 L1971.48 1564.4 L1974.06 1564.89 L1976.64 1565.37 L1979.21 1565.83 L1981.79 1566.28 L1984.37 1566.71 L1986.95 1567.12 L1989.52 1567.53 L1992.1 1567.92 L1994.68 1568.29 L1997.26 1568.65 L1999.83 1569 L2002.41 1569.34 L2004.99 1569.66 L2007.57 1569.97 L2010.14 1570.28 L2012.72 1570.56 L2015.3 1570.84 L2017.88 1571.11 L2020.45 1571.37 L2023.03 1571.61 L2025.61 1571.85 L2028.18 1572.08 L2030.76 1572.3 L2033.34 1572.51 L2035.92 1572.71 L2038.49 1572.9 L2041.07 1573.09 L2043.65 1573.27 L2046.23 1573.44 L2048.8 1573.6 L2051.38 1573.76 L2053.96 1573.9 L2056.54 1574.05 L2059.11 1574.19 L2061.69 1574.32 L2064.27 1574.44 L2066.85 1574.56 L2069.42 1574.68 L2072 1574.79 L2074.58 1574.89 L2077.16 1574.99 L2079.73 1575.09 L2082.31 1575.18 L2084.89 1575.27 L2087.47 1575.36 L2090.04 1575.44 L2092.62 1575.52 L2095.2 1575.59 L2097.78 1575.66 L2100.35 1575.73 L2102.93 1575.8 L2105.51 1575.86 L2108.09 1575.92 L2110.66 1575.98 L2113.24 1576.04 L2115.82 1576.09 L2118.4 1576.15 L2120.97 1576.2 L2123.55 1576.25 L2126.13 1576.29 L2128.71 1576.34 L2131.28 1576.38 L2133.86 1576.42 L2136.44 1576.47 L2139.02 1576.51 L2141.59 1576.54 L2144.17 1576.58 L2146.75 1576.62 L2149.32 1576.65 L2151.9 1576.69 L2154.48 1576.72 L2157.06 1576.75 L2159.63 1576.78 L2162.21 1576.82 L2164.79 1576.85 L2167.37 1576.88 L2169.94 1576.9 L2172.52 1576.93 L2175.1 1576.96 L2177.68 1576.99 L2180.25 1577.02 L2182.83 1577.04 L2185.41 1577.07 L2187.99 1577.09 L2190.56 1577.12 L2193.14 1577.14 L2195.72 1577.17 L2198.3 1577.19 L2200.87 1577.22 L2203.45 1577.24 L2206.03 1577.26 L2208.61 1577.29 L2211.18 1577.31 L2213.76 1577.33 L2216.34 1577.36 L2218.92 1577.38 L2221.49 1577.4 L2224.07 1577.42 L2226.65 1577.45 L2229.23 1577.47 L2231.8 1577.49 L2234.38 1577.51 L2236.96 1577.53 L2239.54 1577.55 L2242.11 1577.57 L2244.69 1577.6 L2247.27 1577.62 L2249.85 1577.64 L2252.42 1577.66 L2255 1577.68" fill="none" stroke="#ffc0ff" stroke-width="1.2" stroke-linejoin="round" stroke-linecap="round"/>
<path d="M1226.6 1570.09 L1229.18 1570.09 L1231.75 1570.09 L1234.33 1570.08 L1236.91 1570.08 L1239.49 1570.07 L1242.06 1570.07 L1244.64 1570.06 L1247.22 1570.06 L1249.8 1570.05 L1252.37 1570.04 L1254.95 1570.04 L1257.53 1570.03 L1260.11 1570.02 L1262.68 1570.01 L1265.26 1570 L1267.84 1569.99 L1270.42 1569.99 L1272.99 1569.98 L1275.57 1569.97 L1278.15 1569.95 L1280.73 1569.94 L1283.3 1569.93 L1285.88 1569.92 L1288.46 1569.91 L1291.04 1569.9 L1293.61 1569.88 L1296.19 1569.87 L1298.77 1569.86 L1301.35 1569.84 L1303.92 1569.83 L1306.5 1569.81 L1309.08 1569.8 L1311.66 1569.78 L1314.23 1569.77 L1316.81 1569.75 L1319.39 1569.73 L1321.97 1569.71 L1324.54 1569.7 L1327.12 1569.68 L1329.7 1569.66 L1332.28 1569.64 L1334.85 1569.62 L1337.43 1569.6 L1340.01 1569.58 L1342.58 1569.56 L1345.16 1569.54 L1347.74 1569.52 L1350.32 1569.5 L1352.89 1569.48 L1355.47 1569.46 L1358.05 1569.43 L1360.63 1569.41 L1363.2 1569.39 L1365.78 1569.37 L1368.36 1569.34 L1370.94 1569.32 L1373.51 1569.29 L1376.09 1569.27 L1378.67 1569.24 L1381.25 1569.22 L1383.82 1569.19 L1386.4 1569.17 L1388.98 1569.14 L1391.56 1569.12 L1394.13 1569.09 L1396.71 1569.06 L1399.29 1569.04 L1401.87 1569.01 L1404.44 1568.98 L1407.02 1568.95 L1409.6 1568.93 L1412.18 1568.9 L1414.75 1568.87 L1417.33 1568.84 L1419.91 1568.81 L1422.49 1568.78 L1425.06 1568.75 L1427.64 1568.73 L1430.22 1568.7 L1432.8 1568.67 L1435.37 1568.64 L1437.95 1568.61 L1440.53 1568.58 L1443.11 1568.55 L1445.68 1568.52 L1448.26 1568.49 L1450.84 1568.46 L1453.42 1568.43 L1455.99 1568.4 L1458.57 1568.37 L1461.15 1568.34 L1463.72 1568.31 L1466.3 1568.28 L1468.88 1568.25 L1471.46 1568.22 L1474.03 1568.19 L1476.61 1568.16 L1479.19 1568.13 L1481.77 1568.1 L1484.34 1568.07 L1486.92 1568.04 L1489.5 1568.01 L1492.08 1567.98 L1494.65 1567.95 L1497.23 1567.92 L1499.81 1567.89 L1502.39 1567.87 L1504.96 1567.84 L1507.54 1567.81 L1510.12 1567.78 L1512.7 1567.75 L1515.27 1567.73 L1517.85 1567.7 L1520.43 1567.67 L1523.01 1567.65 L1525.58 1567.62 L1528.16 1567.59 L1530.74 1567.57 L1533.32 1567.54 L1535.89 1567.52 L1538.47 1567.49 L1541.05 1567.47 L1543.63 1567.45 L1546.2 1567.42 L1548.78 1567.4 L1551.36 1567.38 L1553.94 1567.36 L1556.51 1567.34 L1559.09 1567.32 L1561.67 1567.3 L1564.25 1567.28 L1566.82 1567.26 L1569.4 1567.24 L1571.98 1567.22 L1574.55 1567.2 L1577.13 1567.19 L1579.71 1567.17 L1582.29 1567.15 L1584.86 1567.14 L1587.44 1567.12 L1590.02 1567.11 L1592.6 1567.1 L1595.17 1567.08 L1597.75 1567.07 L1600.33 1567.06 L1602.91 1567.05 L1605.48 1567.04 L1608.06 1567.03 L1610.64 1567.02 L1613.22 1567.02 L1615.79 1567.01 L1618.37 1567 L1620.95 1567 L1623.53 1566.99 L1626.1 1566.99 L1628.68 1566.99 L1631.26 1566.98 L1633.84 1566.98 L1636.41 1566.98 L1638.99 1566.98 L1641.57 1566.98 L1644.15 1566.98 L1646.72 1566.99 L1649.3 1566.99 L1651.88 1566.99 L1654.46 1567 L1657.03 1567 L1659.61 1567.01 L1662.19 1567.02 L1664.77 1567.03 L1667.34 1567.04 L1669.92 1567.05 L1672.5 1567.06 L1675.08 1567.07 L1677.65 1567.08 L1680.23 1567.1 L1682.81 1567.11 L1685.38 1567.13 L1687.96 1567.14 L1690.54 1567.16 L1693.12 1567.18 L1695.69 1567.2 L1698.27 1567.22 L1700.85 1567.24 L1703.43 1567.26 L1706 1567.28 L1708.58 1567.31 L1711.16 1567.33 L1713.74 1567.35 L1716.31 1567.38 L1718.89 1567.41 L1721.47 1567.44 L1724.05 1567.46 L1726.62 1567.49 L1729.2 1567.52 L1731.78 1567.55 L1734.36 1567.59 L1736.93 1567.62 L1739.51 1567.65 L1742.09 1567.69 L1744.67 1567.72 L1747.24 1567.76 L1749.82 1567.8 L1752.4 1567.83 L1754.98 1567.87 L1757.55 1567.91 L1760.13 1567.95 L1762.71 1567.99 L1765.29 1568.03 L1767.86 1568.07 L1770.44 1568.12 L1773.02 1568.16 L1775.6 1568.21 L1778.17 1568.25 L1780.75 1568.3 L1783.33 1568.34 L1785.91 1568.39 L1788.48 1568.44 L1791.06 1568.49 L1793.64 1568.54 L1796.22 1568.59 L1798.79 1568.64 L1801.37 1568.69 L1803.95 1568.74 L1806.52 1568.79 L1809.1 1568.84 L1811.68 1568.9 L1814.26 1568.95 L1816.83 1569 L1819.41 1569.06 L1821.99 1569.11 L1824.57 1569.17 L1827.14 1569.23 L1829.72 1569.28 L1832.3 1569.34 L1834.88 1569.4 L1837.45 1569.46 L1840.03 1569.52 L1842.61 1569.58 L1845.19 1569.63 L1847.76 1569.69 L1850.34 1569.75 L1852.92 1569.82 L1855.5 1569.88 L1858.07 1569.94 L1860.65 1570 L1863.23 1570.06 L1865.81 1570.12 L1868.38 1570.18 L1870.96 1570.25 L1873.54 1570.31 L1876.12 1570.37 L1878.69 1570.44 L1881.27 1570.5 L1883.85 1570.56 L1886.43 1570.63 L1889 1570.69 L1891.58 1570.76 L1894.16 1570.82 L1896.74 1570.89 L1899.31 1570.95 L1901.89 1571.01 L1904.47 1571.08 L1907.05 1571.14 L1909.62 1571.21 L1912.2 1571.27 L1914.78 1571.34 L1917.35 1571.4 L1919.93 1571.47 L1922.51 1571.53 L1925.09 1571.6 L1927.66 1571.66 L1930.24 1571.73 L1932.82 1571.79 L1935.4 1571.86 L1937.97 1571.92 L1940.55 1571.99 L1943.13 1572.05 L1945.71 1572.12 L1948.28 1572.18 L1950.86 1572.25 L1953.44 1572.31 L1956.02 1572.38 L1958.59 1572.44 L1961.17 1572.5 L1963.75 1572.57 L1966.33 1572.63 L1968.9 1572.69 L1971.48 1572.76 L1974.06 1572.82 L1976.64 1572.88 L1979.21 1572.94 L1981.79 1573.01 L1984.37 1573.07 L1986.95 1573.13 L1989.52 1573.19 L1992.1 1573.25 L1994.68 1573.31 L1997.26 1573.37 L1999.83 1573.43 L2002.41 1573.49 L2004.99 1573.55 L2007.57 1573.61 L2010.14 1573.67 L2012.72 1573.73 L2015.3 1573.79 L2017.88 1573.85 L2020.45 1573.9 L2023.03 1573.96 L2025.61 1574.02 L2028.18 1574.08 L2030.76 1574.13 L2033.34 1574.19 L2035.92 1574.24 L2038.49 1574.3 L2041.07 1574.35 L2043.65 1574.41 L2046.23 1574.46 L2048.8 1574.52 L2051.38 1574.57 L2053.96 1574.62 L2056.54 1574.68 L2059.11 1574.73 L2061.69 1574.78 L2064.27 1574.83 L2066.85 1574.88 L2069.42 1574.94 L2072 1574.99 L2074.58 1575.04 L2077.16 1575.09 L2079.73 1575.13 L2082.31 1575.18 L2084.89 1575.23 L2087.47 1575.28 L2090.04 1575.33 L2092.62 1575.38 L2095.2 1575.42 L2097.78 1575.47 L2100.35 1575.51 L2102.93 1575.56 L2105.51 1575.61 L2108.09 1575.65 L2110.66 1575.7 L2113.24 1575.74 L2115.82 1575.78 L2118.4 1575.83 L2120.97 1575.87 L2123.55 1575.91 L2126.13 1575.96 L2128.71 1576 L2131.28 1576.04 L2133.86 1576.08 L2136.44 1576.12 L2139.02 1576.16 L2141.59 1576.2 L2144.17 1576.24 L2146.75 1576.28 L2149.32 1576.32 L2151.9 1576.36 L2154.48 1576.4 L2157.06 1576.43 L2159.63 1576.47 L2162.21 1576.51 L2164.79 1576.55 L2167.37 1576.58 L2169.94 1576.62 L2172.52 1576.65 L2175.1 1576.69 L2177.68 1576.73 L2180.25 1576.76 L2182.83 1576.79 L2185.41 1576.83 L2187.99 1576.86 L2190.56 1576.9 L2193.14 1576.93 L2195.72 1576.96 L2198.3 1577 L2200.87 1577.03 L2203.45 1577.06 L2206.03 1577.09 L2208.61 1577.12 L2211.18 1577.15 L2213.76 1577.19 L2216.34 1577.22 L2218.92 1577.25 L2221.49 1577.28 L2224.07 1577.31 L2226.65 1577.34 L2229.23 1577.37 L2231.8 1577.4 L2234.38 1577.42 L2236.96 1577.45 L2239.54 1577.48 L2242.11 1577.51 L2244.69 1577.54 L2247.27 1577.56 L2249.85 1577.59 L2252.42 1577.62 L2255 1577.65 L2255 1577.99 L2252.42 1577.97 L2249.85 1577.95 L2247.27 1577.94 L2244.69 1577.92 L2242.11 1577.9 L2239.54 1577.88 L2236.96 1577.87 L2234.38 1577.85 L2231.8 1577.83 L2229.23 1577.81 L2226.65 1577.8 L2224.07 1577.78 L2221.49 1577.76 L2218.92 1577.74 L2216.34 1577.73 L2213.76 1577.71 L2211.18 1577.69 L2208.61 1577.67 L2206.03 1577.66 L2203.45 1577.64 L2200.87 1577.62 L2198.3 1577.6 L2195.72 1577.59 L2193.14 1577.57 L2190.56 1577.55 L2187.99 1577.53 L2185.41 1577.52 L2182.83 1577.5 L2180.25 1577.48 L2177.68 1577.46 L2175.1 1577.45 L2172.52 1577.43 L2169.94 1577.41 L2167.37 1577.39 L2164.79 1577.38 L2162.21 1577.36 L2159.63 1577.34 L2157.06 1577.32 L2154.48 1577.31 L2151.9 1577.29 L2149.32 1577.27 L2146.75 1577.25 L2144.17 1577.24 L2141.59 1577.22 L2139.02 1577.2 L2136.44 1577.18 L2133.86 1577.17 L2131.28 1577.15 L2128.71 1577.13 L2126.13 1577.12 L2123.55 1577.1 L2120.97 1577.08 L2118.4 1577.06 L2115.82 1577.05 L2113.24 1577.03 L2110.66 1577.01 L2108.09 1576.99 L2105.51 1576.98 L2102.93 1576.96 L2100.35 1576.94 L2097.78 1576.92 L2095.2 1576.91 L2092.62 1576.89 L2090.04 1576.87 L2087.47 1576.85 L2084.89 1576.84 L2082.31 1576.82 L2079.73 1576.8 L2077.16 1576.78 L2074.58 1576.77 L2072 1576.75 L2069.42 1576.73 L2066.85 1576.71 L2064.27 1576.7 L2061.69 1576.68 L2059.11 1576.66 L2056.54 1576.64 L2053.96 1576.63 L2051.38 1576.61 L2048.8 1576.59 L2046.23 1576.57 L2043.65 1576.56 L2041.07 1576.54 L2038.49 1576.52 L2035.92 1576.5 L2033.34 1576.49 L2030.76 1576.47 L2028.18 1576.45 L2025.61 1576.43 L2023.03 1576.42 L2020.45 1576.4 L2017.88 1576.38 L2015.3 1576.36 L2012.72 1576.35 L2010.14 1576.33 L2007.57 1576.31 L2004.99 1576.29 L2002.41 1576.28 L1999.83 1576.26 L1997.26 1576.24 L1994.68 1576.22 L1992.1 1576.21 L1989.52 1576.19 L1986.95 1576.17 L1984.37 1576.15 L1981.79 1576.14 L1979.21 1576.12 L1976.64 1576.1 L1974.06 1576.08 L1971.48 1576.07 L1968.9 1576.05 L1966.33 1576.03 L1963.75 1576.01 L1961.17 1576 L1958.59 1575.98 L1956.02 1575.96 L1953.44 1575.94 L1950.86 1575.93 L1948.28 1575.91 L1945.71 1575.89 L1943.13 1575.87 L1940.55 1575.86 L1937.97 1575.84 L1935.4 1575.82 L1932.82 1575.8 L1930.24 1575.79 L1927.66 1575.77 L1925.09 1575.75 L1922.51 1575.73 L1919.93 1575.72 L1917.35 1575.7 L1914.78 1575.68 L1912.2 1575.66 L1909.62 1575.65 L1907.05 1575.63 L1904.47 1575.61 L1901.89 1575.59 L1899.31 1575.58 L1896.74 1575.56 L1894.16 1575.54 L1891.58 1575.52 L1889 1575.51 L1886.43 1575.49 L1883.85 1575.47 L1881.27 1575.45 L1878.69 1575.44 L1876.12 1575.42 L1873.54 1575.4 L1870.96 1575.38 L1868.38 1575.37 L1865.81 1575.35 L1863.23 1575.33 L1860.65 1575.31 L1858.07 1575.3 L1855.5 1575.28 L1852.92 1575.26 L1850.34 1575.24 L1847.76 1575.23 L1845.19 1575.21 L1842.61 1575.19 L1840.03 1575.17 L1837.45 1575.16 L1834.88 1575.14 L1832.3 1575.12 L1829.72 1575.1 L1827.14 1575.09 L1824.57 1575.07 L1821.99 1575.05 L1819.41 1575.03 L1816.83 1575.02 L1814.26 1575 L1811.68 1574.98 L1809.1 1574.96 L1806.52 1574.95 L1803.95 1574.93 L1801.37 1574.91 L1798.79 1574.89 L1796.22 1574.88 L1793.64 1574.86 L1791.06 1574.84 L1788.48 1574.82 L1785.91 1574.81 L1783.33 1574.79 L1780.75 1574.77 L1778.17 1574.75 L1775.6 1574.74 L1773.02 1574.72 L1770.44 1574.7 L1767.86 1574.68 L1765.29 1574.67 L1762.71 1574.65 L1760.13 1574.63 L1757.55 1574.61 L1754.98 1574.6 L1752.4 1574.58 L1749.82 1574.56 L1747.24 1574.55 L1744.67 1574.53 L1742.09 1574.51 L1739.51 1574.49 L1736.93 1574.48 L1734.36 1574.46 L1731.78 1574.44 L1729.2 1574.42 L1726.62 1574.41 L1724.05 1574.39 L1721.47 1574.37 L1718.89 1574.35 L1716.31 1574.34 L1713.74 1574.32 L1711.16 1574.3 L1708.58 1574.28 L1706 1574.27 L1703.43 1574.25 L1700.85 1574.23 L1698.27 1574.21 L1695.69 1574.2 L1693.12 1574.18 L1690.54 1574.16 L1687.96 1574.14 L1685.38 1574.13 L1682.81 1574.11 L1680.23 1574.09 L1677.65 1574.07 L1675.08 1574.06 L1672.5 1574.04 L1669.92 1574.02 L1667.34 1574 L1664.77 1573.99 L1662.19 1573.97 L1659.61 1573.95 L1657.03 1573.93 L1654.46 1573.92 L1651.88 1573.9 L1649.3 1573.88 L1646.72 1573.86 L1644.15 1573.85 L1641.57 1573.83 L1638.99 1573.81 L1636.41 1573.79 L1633.84 1573.78 L1631.26 1573.76 L1628.68 1573.74 L1626.1 1573.72 L1623.53 1573.71 L1620.95 1573.69 L1618.37 1573.67 L1615.79 1573.65 L1613.22 1573.64 L1610.64 1573.62 L1608.06 1573.6 L1605.48 1573.58 L1602.91 1573.57 L1600.33 1573.55 L1597.75 1573.53 L1595.17 1573.51 L1592.6 1573.5 L1590.02 1573.48 L1587.44 1573.46 L1584.86 1573.44 L1582.29 1573.43 L1579.71 1573.41 L1577.13 1573.39 L1574.55 1573.37 L1571.98 1573.36 L1569.4 1573.34 L1566.82 1573.32 L1564.25 1573.3 L1561.67 1573.29 L1559.09 1573.27 L1556.51 1573.25 L1553.94 1573.23 L1551.36 1573.22 L1548.78 1573.2 L1546.2 1573.18 L1543.63 1573.16 L1541.05 1573.15 L1538.47 1573.13 L1535.89 1573.11 L1533.32 1573.09 L1530.74 1573.08 L1528.16 1573.06 L1525.58 1573.04 L1523.01 1573.02 L1520.43 1573.01 L1517.85 1572.99 L1515.27 1572.97 L1512.7 1572.95 L1510.12 1572.94 L1507.54 1572.92 L1504.96 1572.9 L1502.39 1572.88 L1499.81 1572.87 L1497.23 1572.85 L1494.65 1572.83 L1492.08 1572.81 L1489.5 1572.8 L1486.92 1572.78 L1484.34 1572.76 L1481.77 1572.74 L1479.19 1572.73 L1476.61 1572.71 L1474.03 1572.69 L1471.46 1572.67 L1468.88 1572.66 L1466.3 1572.64 L1463.72 1572.62 L1461.15 1572.6 L1458.57 1572.59 L1455.99 1572.57 L1453.42 1572.55 L1450.84 1572.53 L1448.26 1572.52 L1445.68 1572.5 L1443.11 1572.48 L1440.53 1572.46 L1437.95 1572.45 L1435.37 1572.43 L1432.8 1572.41 L1430.22 1572.39 L1427.64 1572.38 L1425.06 1572.36 L1422.49 1572.34 L1419.91 1572.32 L1417.33 1572.31 L1414.75 1572.29 L1412.18 1572.27 L1409.6 1572.25 L1407.02 1572.24 L1404.44 1572.22 L1401.87 1572.2 L1399.29 1572.18 L1396.71 1572.17 L1394.13 1572.15 L1391.56 1572.13 L1388.98 1572.11 L1386.4 1572.1 L1383.82 1572.08 L1381.25 1572.06 L1378.67 1572.05 L1376.09 1572.03 L1373.51 1572.01 L1370.94 1571.99 L1368.36 1571.98 L1365.78 1571.96 L1363.2 1571.94 L1360.63 1571.92 L1358.05 1571.91 L1355.47 1571.89 L1352.89 1571.87 L1350.32 1571.85 L1347.74 1571.84 L1345.16 1571.82 L1342.58 1571.8 L1340.01 1571.78 L1337.43 1571.77 L1334.85 1571.75 L1332.28 1571.73 L1329.7 1571.71 L1327.12 1571.7 L1324.54 1571.68 L1321.97 1571.66 L1319.39 1571.64 L1316.81 1571.63 L1314.23 1571.61 L1311.66 1571.59 L1309.08 1571.57 L1306.5 1571.56 L1303.92 1571.54 L1301.35 1571.52 L1298.77 1571.5 L1296.19 1571.49 L1293.61 1571.47 L1291.04 1571.45 L1288.46 1571.43 L1285.88 1571.42 L1283.3 1571.4 L1280.73 1571.38 L1278.15 1571.36 L1275.57 1571.35 L1272.99 1571.33 L1270.42 1571.31 L1267.84 1571.29 L1265.26 1571.28 L1262.68 1571.26 L1260.11 1571.24 L1257.53 1571.22 L1254.95 1571.21 L1252.37 1571.19 L1249.8 1571.17 L1247.22 1571.15 L1244.64 1571.14 L1242.06 1571.12 L1239.49 1571.1 L1236.91 1571.08 L1234.33 1571.07 L1231.75 1571.05 L1229.18 1571.03 L1226.6 1571.01 Z" fill="#008000" stroke="none"/>
<path d="M1226.6 1570.09 L1229.18 1570.09 L1231.75 1570.09 L1234.33 1570.08 L1236.91 1570.08 L1239.49 1570.07 L1242.06 1570.07 L1244.64 1570.06 L1247.22 1570.06 L1249.8 1570.05 L1252.37 1570.04 L1254.95 1570.04 L1257.53 1570.03 L1260.11 1570.02 L1262.68 1570.01 L1265.26 1570 L1267.84 1569.99 L1270.42 1569.99 L1272.99 1569.98 L1275.57 1569.97 L1278.15 1569.95 L1280.73 1569.94 L1283.3 1569.93 L1285.88 1569.92 L1288.46 1569.91 L1291.04 1569.9 L1293.61 1569.88 L1296.19 1569.87 L1298.77 1569.86 L1301.35 1569.84 L1303.92 1569.83 L1306.5 1569.81 L1309.08 1569.8 L1311.66 1569.78 L1314.23 1569.77 L1316.81 1569.75 L1319.39 1569.73 L1321.97 1569.71 L1324.54 1569.7 L1327.12 1569.68 L1329.7 1569.66 L1332.28 1569.64 L1334.85 1569.62 L1337.43 1569.6 L1340.01 1569.58 L1342.58 1569.56 L1345.16 1569.54 L1347.74 1569.52 L1350.32 1569.5 L1352.89 1569.48 L1355.47 1569.46 L1358.05 1569.43 L1360.63 1569.41 L1363.2 1569.39 L1365.78 1569.37 L1368.36 1569.34 L1370.94 1569.32 L1373.51 1569.29 L1376.09 1569.27 L1378.67 1569.24 L1381.25 1569.22 L1383.82 1569.19 L1386.4 1569.17 L1388.98 1569.14 L1391.56 1569.12 L1394.13 1569.09 L1396.71 1569.06 L1399.29 1569.04 L1401.87 1569.01 L1404.44 1568.98 L1407.02 1568.95 L1409.6 1568.93 L1412.18 1568.9 L1414.75 1568.87 L1417.33 1568.84 L1419.91 1568.81 L1422.49 1568.78 L1425.06 1568.75 L1427.64 1568.73 L1430.22 1568.7 L1432.8 1568.67 L1435.37 1568.64 L1437.95 1568.61 L1440.53 1568.58 L1443.11 1568.55 L1445.68 1568.52 L1448.26 1568.49 L1450.84 1568.46 L1453.42 1568.43 L1455.99 1568.4 L1458.57 1568.37 L1461.15 1568.34 L1463.72 1568.31 L1466.3 1568.28 L1468.88 1568.25 L1471.46 1568.22 L1474.03 1568.19 L1476.61 1568.16 L1479.19 1568.13 L1481.77 1568.1 L1484.34 1568.07 L1486.92 1568.04 L1489.5 1568.01 L1492.08 1567.98 L1494.65 1567.95 L1497.23 1567.92 L1499.81 1567.89 L1502.39 1567.87 L1504.96 1567.84 L1507.54 1567.81 L1510.12 1567.78 L1512.7 1567.75 L1515.27 1567.73 L1517.85 1567.7 L1520.43 1567.67 L1523.01 1567.65 L1525.58 1567.62 L1528.16 1567.59 L1530.74 1567.57 L1533.32 1567.54 L1535.89 1567.52 L1538.47 1567.49 L1541.05 1567.47 L1543.63 1567.45 L1546.2 1567.42 L1548.78 1567.4 L1551.36 1567.38 L1553.94 1567.36 L1556.51 1567.34 L1559.09 1567.32 L1561.67 1567.3 L1564.25 1567.28 L1566.82 1567.26 L1569.4 1567.24 L1571.98 1567.22 L1574.55 1567.2 L1577.13 1567.19 L1579.71 1567.17 L1582.29 1567.15 L1584.86 1567.14 L1587.44 1567.12 L1590.02 1567.11 L1592.6 1567.1 L1595.17 1567.08 L1597.75 1567.07 L1600.33 1567.06 L1602.91 1567.05 L1605.48 1567.04 L1608.06 1567.03 L1610.64 1567.02 L1613.22 1567.02 L1615.79 1567.01 L1618.37 1567 L1620.95 1567 L1623.53 1566.99 L1626.1 1566.99 L1628.68 1566.99 L1631.26 1566.98 L1633.84 1566.98 L1636.41 1566.98 L1638.99 1566.98 L1641.57 1566.98 L1644.15 1566.98 L1646.72 1566.99 L1649.3 1566.99 L1651.88 1566.99 L1654.46 1567 L1657.03 1567 L1659.61 1567.01 L1662.19 1567.02 L1664.77 1567.03 L1667.34 1567.04 L1669.92 1567.05 L1672.5 1567.06 L1675.08 1567.07 L1677.65 1567.08 L1680.23 1567.1 L1682.81 1567.11 L1685.38 1567.13 L1687.96 1567.14 L1690.54 1567.16 L1693.12 1567.18 L1695.69 1567.2 L1698.27 1567.22 L1700.85 1567.24 L1703.43 1567.26 L1706 1567.28 L1708.58 1567.31 L1711.16 1567.33 L1713.74 1567.35 L1716.31 1567.38 L1718.89 1567.41 L1721.47 1567.44 L1724.05 1567.46 L1726.62 1567.49 L1729.2 1567.52 L1731.78 1567.55 L1734.36 1567.59 L1736.93 1567.62 L1739.51 1567.65 L1742.09 1567.69 L1744.67 1567.72 L1747.24 1567.76 L1749.82 1567.8 L1752.4 1567.83 L1754.98 1567.87 L1757.55 1567.91 L1760.13 1567.95 L1762.71 1567.99 L1765.29 1568.03 L1767.86 1568.07 L1770.44 1568.12 L1773.02 1568.16 L1775.6 1568.21 L1778.17 1568.25 L1780.75 1568.3 L1783.33 1568.34 L1785.91 1568.39 L1788.48 1568.44 L1791.06 1568.49 L1793.64 1568.54 L1796.22 1568.59 L1798.79 1568.64 L1801.37 1568.69 L1803.95 1568.74 L1806.52 1568.79 L1809.1 1568.84 L1811.68 1568.9 L1814.26 1568.95 L1816.83 1569 L1819.41 1569.06 L1821.99 1569.11 L1824.57 1569.17 L1827.14 1569.23 L1829.72 1569.28 L1832.3 1569.34 L1834.88 1569.4 L1837.45 1569.46 L1840.03 1569.52 L1842.61 1569.58 L1845.19 1569.63 L1847.76 1569.69 L1850.34 1569.75 L1852.92 1569.82 L1855.5 1569.88 L1858.07 1569.94 L1860.65 1570 L1863.23 1570.06 L1865.81 1570.12 L1868.38 1570.18 L1870.96 1570.25 L1873.54 1570.31 L1876.12 1570.37 L1878.69 1570.44 L1881.27 1570.5 L1883.85 1570.56 L1886.43 1570.63 L1889 1570.69 L1891.58 1570.76 L1894.16 1570.82 L1896.74 1570.89 L1899.31 1570.95 L1901.89 1571.01 L1904.47 1571.08 L1907.05 1571.14 L1909.62 1571.21 L1912.2 1571.27 L1914.78 1571.34 L1917.35 1571.4 L1919.93 1571.47 L1922.51 1571.53 L1925.09 1571.6 L1927.66 1571.66 L1930.24 1571.73 L1932.82 1571.79 L1935.4 1571.86 L1937.97 1571.92 L1940.55 1571.99 L1943.13 1572.05 L1945.71 1572.12 L1948.28 1572.18 L1950.86 1572.25 L1953.44 1572.31 L1956.02 1572.38 L1958.59 1572.44 L1961.17 1572.5 L1963.75 1572.57 L1966.33 1572.63 L1968.9 1572.69 L1971.48 1572.76 L1974.06 1572.82 L1976.64 1572.88 L1979.21 1572.94 L1981.79 1573.01 L1984.37 1573.07 L1986.95 1573.13 L1989.52 1573.19 L1992.1 1573.25 L1994.68 1573.31 L1997.26 1573.37 L1999.83 1573.43 L2002.41 1573.49 L2004.99 1573.55 L2007.57 1573.61 L2010.14 1573.67 L2012.72 1573.73 L2015.3 1573.79 L2017.88 1573.85 L2020.45 1573.9 L2023.03 1573.96 L2025.61 1574.02 L2028.18 1574.08 L2030.76 1574.13 L2033.34 1574.19 L2035.92 1574.24 L2038.49 1574.3 L2041.07 1574.35 L2043.65 1574.41 L2046.23 1574.46 L2048.8 1574.52 L2051.38 1574.57 L2053.96 1574.62 L2056.54 1574.68 L2059.11 1574.73 L2061.69 1574.78 L2064.27 1574.83 L2066.85 1574.88 L2069.42 1574.94 L2072 1574.99 L2074.58 1575.04 L2077.16 1575.09 L2079.73 1575.13 L2082.31 1575.18 L2084.89 1575.23 L2087.47 1575.28 L2090.04 1575.33 L2092.62 1575.38 L2095.2 1575.42 L2097.78 1575.47 L2100.35 1575.51 L2102.93 1575.56 L2105.51 1575.61 L2108.09 1575.65 L2110.66 1575.7 L2113.24 1575.74 L2115.82 1575.78 L2118.4 1575.83 L2120.97 1575.87 L2123.55 1575.91 L2126.13 1575.96 L2128.71 1576 L2131.28 1576.04 L2133.86 1576.08 L2136.44 1576.12 L2139.02 1576.16 L2141.59 1576.2 L2144.17 1576.24 L2146.75 1576.28 L2149.32 1576.32 L2151.9 1576.36 L2154.48 1576.4 L2157.06 1576.43 L2159.63 1576.47 L2162.21 1576.51 L2164.79 1576.55 L2167.37 1576.58 L2169.94 1576.62 L2172.52 1576.65 L2175.1 1576.69 L2177.68 1576.73 L2180.25 1576.76 L2182.83 1576.79 L2185.41 1576.83 L2187.99 1576.86 L2190.56 1576.9 L2193.14 1576.93 L2195.72 1576.96 L2198.3 1577 L2200.87 1577.03 L2203.45 1577.06 L2206.03 1577.09 L2208.61 1577.12 L2211.18 1577.15 L2213.76 1577.19 L2216.34 1577.22 L2218.92 1577.25 L2221.49 1577.28 L2224.07 1577.31 L2226.65 1577.34 L2229.23 1577.37 L2231.8 1577.4 L2234.38 1577.42 L2236.96 1577.45 L2239.54 1577.48 L2242.11 1577.51 L2244.69 1577.54 L2247.27 1577.56 L2249.85 1577.59 L2252.42 1577.62 L2255 1577.65" fill="none" stroke="#0a9a30" stroke-width="3" stroke-linejoin="round" stroke-linecap="round"/>
<path d="M1224.6 1571 L1226.6 1569.99 L1229.18 1569.99 L1231.75 1569.98 L1234.33 1569.98 L1236.91 1569.97 L1239.49 1569.97 L1242.06 1569.96 L1244.64 1569.95 L1247.22 1569.95 L1249.8 1569.94 L1252.37 1569.93 L1254.95 1569.92 L1257.53 1569.91 L1260.11 1569.9 L1262.68 1569.89 L1265.26 1569.88 L1267.84 1569.87 L1270.42 1569.85 L1272.99 1569.84 L1275.57 1569.83 L1278.15 1569.81 L1280.73 1569.8 L1283.3 1569.78 L1285.88 1569.77 L1288.46 1569.75 L1291.04 1569.73 L1293.61 1569.72 L1296.19 1569.7 L1298.77 1569.68 L1301.35 1569.66 L1303.92 1569.64 L1306.5 1569.62 L1309.08 1569.59 L1311.66 1569.57 L1314.23 1569.54 L1316.81 1569.52 L1319.39 1569.49 L1321.97 1569.46 L1324.54 1569.44 L1327.12 1569.41 L1329.7 1569.37 L1332.28 1569.34 L1334.85 1569.31 L1337.43 1569.27 L1340.01 1569.24 L1342.58 1569.2 L1345.16 1569.16 L1347.74 1569.12 L1350.32 1569.08 L1352.89 1569.03 L1355.47 1568.98 L1358.05 1568.94 L1360.63 1568.88 L1363.2 1568.83 L1365.78 1568.78 L1368.36 1568.72 L1370.94 1568.66 L1373.51 1568.6 L1376.09 1568.53 L1378.67 1568.46 L1381.25 1568.39 L1383.82 1568.32 L1386.4 1568.24 L1388.98 1568.16 L1391.56 1568.08 L1394.13 1567.99 L1396.71 1567.9 L1399.29 1567.8 L1401.87 1567.71 L1404.44 1567.6 L1407.02 1567.49 L1409.6 1567.38 L1412.18 1567.26 L1414.75 1567.14 L1417.33 1567.01 L1419.91 1566.88 L1422.49 1566.74 L1425.06 1566.59 L1427.64 1566.44 L1430.22 1566.28 L1432.8 1566.11 L1435.37 1565.94 L1437.95 1565.76 L1440.53 1565.57 L1443.11 1565.38 L1445.68 1565.17 L1448.26 1564.96 L1450.84 1564.74 L1453.42 1564.51 L1455.99 1564.27 L1458.57 1564.03 L1461.15 1563.77 L1463.72 1563.5 L1466.3 1563.22 L1468.88 1562.93 L1471.46 1562.63 L1474.03 1562.32 L1476.61 1562 L1479.19 1561.66 L1481.77 1561.31 L1484.34 1560.96 L1486.92 1560.58 L1489.5 1560.2 L1492.08 1559.8 L1494.65 1559.38 L1497.23 1558.96 L1499.81 1558.52 L1502.39 1558.06 L1504.96 1557.59 L1507.54 1557.11 L1510.12 1556.61 L1512.7 1556.09 L1515.27 1555.56 L1517.85 1555.01 L1520.43 1554.45 L1523.01 1553.87 L1525.58 1553.27 L1528.16 1552.66 L1530.74 1552.03 L1533.32 1551.39 L1535.89 1550.72 L1538.47 1550.05 L1541.05 1549.35 L1543.63 1548.64 L1546.2 1547.91 L1548.78 1547.16 L1551.36 1546.4 L1553.94 1545.62 L1556.51 1544.83 L1559.09 1544.02 L1561.67 1543.19 L1564.25 1542.35 L1566.82 1541.49 L1569.4 1540.62 L1571.98 1539.73 L1574.55 1538.83 L1577.13 1537.91 L1579.71 1536.98 L1582.29 1536.03 L1584.86 1535.08 L1587.44 1534.11 L1590.02 1533.13 L1592.6 1532.14 L1595.17 1531.13 L1597.75 1530.12 L1600.33 1529.1 L1602.91 1528.07 L1605.48 1527.03 L1608.06 1525.99 L1610.64 1524.94 L1613.22 1523.88 L1615.79 1522.82 L1618.37 1521.76 L1620.95 1520.69 L1623.53 1519.62 L1626.1 1518.55 L1628.68 1517.48 L1631.26 1516.42 L1633.84 1515.35 L1636.41 1514.29 L1638.99 1513.24 L1641.57 1512.18 L1644.15 1511.14 L1646.72 1510.1 L1649.3 1509.08 L1651.88 1508.06 L1654.46 1507.06 L1657.03 1506.06 L1659.61 1505.08 L1662.19 1504.12 L1664.77 1503.17 L1667.34 1502.24 L1669.92 1501.32 L1672.5 1500.43 L1675.08 1499.56 L1677.65 1498.7 L1680.23 1497.87 L1682.81 1497.07 L1685.38 1496.29 L1687.96 1495.53 L1690.54 1494.8 L1693.12 1494.09 L1695.69 1493.42 L1698.27 1492.77 L1700.85 1492.16 L1703.43 1491.57 L1706 1491.01 L1708.58 1490.49 L1711.16 1489.99 L1713.74 1489.53 L1716.31 1489.1 L1718.89 1488.7 L1721.47 1488.34 L1724.05 1488.01 L1726.62 1487.71 L1729.2 1487.44 L1731.78 1487.2 L1734.36 1486.99 L1736.93 1486.81 L1739.51 1486.66 L1742.09 1486.54 L1744.67 1486.44 L1747.24 1486.36 L1749.82 1486.28 L1752.4 1486.21 L1754.98 1486.13 L1757.55 1486.05 L1760.13 1485.97 L1762.71 1485.88 L1765.29 1485.78 L1767.86 1485.67 L1770.44 1485.54 L1773.02 1485.38 L1775.6 1485.2 L1778.17 1484.98 L1780.75 1484.73 L1783.33 1484.43 L1785.91 1484.08 L1788.48 1483.67 L1791.06 1483.21 L1793.64 1482.67 L1796.22 1482.06 L1798.79 1481.36 L1801.37 1480.57 L1803.95 1479.68 L1806.52 1478.69 L1809.1 1477.57 L1811.68 1476.33 L1814.26 1474.96 L1816.83 1473.45 L1819.41 1471.79 L1821.99 1469.98 L1824.57 1468 L1827.14 1465.84 L1829.72 1463.51 L1832.3 1461 L1834.88 1458.3 L1837.45 1455.41 L1840.03 1452.31 L1842.61 1449.02 L1845.19 1445.53 L1847.76 1441.84 L1850.34 1437.94 L1852.92 1433.85 L1855.5 1429.57 L1858.07 1425.09 L1860.65 1420.44 L1863.23 1415.61 L1865.81 1410.62 L1868.38 1405.48 L1870.96 1400.2 L1873.54 1394.8 L1876.12 1389.29 L1878.69 1383.7 L1881.27 1378.05 L1883.85 1372.35 L1886.43 1366.63 L1889 1360.92 L1891.58 1355.24 L1894.16 1349.61 L1896.74 1344.07 L1899.31 1338.65 L1901.89 1333.37 L1904.47 1328.26 L1907.05 1323.35 L1909.62 1318.67 L1912.2 1314.25 L1914.78 1310.12 L1917.35 1306.31 L1919.93 1302.83 L1922.51 1299.73 L1925.09 1297.01 L1927.66 1294.7 L1930.24 1292.83 L1932.82 1291.4 L1935.4 1290.43 L1937.97 1289.94 L1940.55 1289.92 L1943.13 1290.4 L1945.71 1291.35 L1948.28 1292.79 L1950.86 1294.7 L1953.44 1297.08 L1956.02 1299.92 L1958.59 1303.2 L1961.17 1306.91 L1963.75 1311.03 L1966.33 1315.54 L1968.9 1320.42 L1971.48 1325.64 L1974.06 1331.17 L1976.64 1337 L1979.21 1343.09 L1981.79 1349.41 L1984.37 1355.93 L1986.95 1362.63 L1989.52 1369.47 L1992.1 1376.43 L1994.68 1383.48 L1997.26 1390.58 L1999.83 1397.72 L2002.41 1404.87 L2004.99 1411.99 L2007.57 1419.07 L2010.14 1426.08 L2012.72 1433.01 L2015.3 1439.83 L2017.88 1446.52 L2020.45 1453.06 L2023.03 1459.46 L2025.61 1465.68 L2028.18 1471.71 L2030.76 1477.56 L2033.34 1483.21 L2035.92 1488.64 L2038.49 1493.87 L2041.07 1498.88 L2043.65 1503.67 L2046.23 1508.25 L2048.8 1512.6 L2051.38 1516.74 L2053.96 1520.67 L2056.54 1524.38 L2059.11 1527.89 L2061.69 1531.19 L2064.27 1534.3 L2066.85 1537.22 L2069.42 1539.95 L2072 1542.51 L2074.58 1544.9 L2077.16 1547.13 L2079.73 1549.21 L2082.31 1551.14 L2084.89 1552.94 L2087.47 1554.6 L2090.04 1556.15 L2092.62 1557.58 L2095.2 1558.9 L2097.78 1560.12 L2100.35 1561.25 L2102.93 1562.29 L2105.51 1563.25 L2108.09 1564.13 L2110.66 1564.95 L2113.24 1565.7 L2115.82 1566.4 L2118.4 1567.04 L2120.97 1567.63 L2123.55 1568.18 L2126.13 1568.69 L2128.71 1569.16 L2131.28 1569.59 L2133.86 1570 L2136.44 1570.37 L2139.02 1570.72 L2141.59 1571.05 L2144.17 1571.35 L2146.75 1571.63 L2149.32 1571.9 L2151.9 1572.15 L2154.48 1572.39 L2157.06 1572.61 L2159.63 1572.82 L2162.21 1573.02 L2164.79 1573.21 L2167.37 1573.39 L2169.94 1573.56 L2172.52 1573.73 L2175.1 1573.88 L2177.68 1574.03 L2180.25 1574.17 L2182.83 1574.31 L2185.41 1574.44 L2187.99 1574.57 L2190.56 1574.69 L2193.14 1574.81 L2195.72 1574.92 L2198.3 1575.03 L2200.87 1575.14 L2203.45 1575.24 L2206.03 1575.34 L2208.61 1575.44 L2211.18 1575.53 L2213.76 1575.62 L2216.34 1575.71 L2218.92 1575.79 L2221.49 1575.87 L2224.07 1575.95 L2226.65 1576.03 L2229.23 1576.1 L2231.8 1576.18 L2234.38 1576.25 L2236.96 1576.32 L2239.54 1576.38 L2242.11 1576.45 L2244.69 1576.51 L2247.27 1576.57 L2249.85 1576.63 L2252.42 1576.69 L2255 1576.75 L2257 1578" fill="none" stroke="#222" stroke-width="3.4" stroke-linejoin="round" stroke-linecap="round"/>
<rect x="1224.6" y="906.5" width="1032.4" height="716" stroke="#000" stroke-width="4.6" fill="none" stroke-linejoin="miter"/>
<line x1="1406.6" y1="1622.5" x2="1406.6" y2="1637.5" stroke="#000" stroke-width="4.6" stroke-linecap="butt"/>
<line x1="1649.2" y1="1622.5" x2="1649.2" y2="1637.5" stroke="#000" stroke-width="4.6" stroke-linecap="butt"/>
<line x1="1891.8" y1="1622.5" x2="1891.8" y2="1637.5" stroke="#000" stroke-width="4.6" stroke-linecap="butt"/>
<line x1="2134.4" y1="1622.5" x2="2134.4" y2="1637.5" stroke="#000" stroke-width="4.6" stroke-linecap="butt"/>
<line x1="1285.3" y1="1622.5" x2="1285.3" y2="1630.5" stroke="#000" stroke-width="4.6" stroke-linecap="butt"/>
<line x1="1527.9" y1="1622.5" x2="1527.9" y2="1630.5" stroke="#000" stroke-width="4.6" stroke-linecap="butt"/>
<line x1="1770.5" y1="1622.5" x2="1770.5" y2="1630.5" stroke="#000" stroke-width="4.6" stroke-linecap="butt"/>
<line x1="2013.1" y1="1622.5" x2="2013.1" y2="1630.5" stroke="#000" stroke-width="4.6" stroke-linecap="butt"/>
<line x1="2255.7" y1="1622.5" x2="2255.7" y2="1630.5" stroke="#000" stroke-width="4.6" stroke-linecap="butt"/>
<text transform="translate(1406.6 1676.4) scale(1 1.06)" font-size="37.5" fill="#444" stroke="#444" stroke-width="0.6" text-anchor="middle">534</text>
<text transform="translate(1649.2 1676.4) scale(1 1.06)" font-size="37.5" fill="#444" stroke="#444" stroke-width="0.6" text-anchor="middle">532</text>
<text transform="translate(1891.8 1676.4) scale(1 1.06)" font-size="37.5" fill="#444" stroke="#444" stroke-width="0.6" text-anchor="middle">530</text>
<text transform="translate(2134.4 1676.4) scale(1 1.06)" font-size="37.5" fill="#444" stroke="#444" stroke-width="0.6" text-anchor="middle">528</text>
<text x="1515.5" y="1724.8" font-size="52.3" font-weight="bold" fill="#000" text-anchor="start"><tspan>Binding energy (eV)</tspan></text>
<text x="0" y="0" transform="translate(1185 1240.5) rotate(-90)" font-size="52.6" font-weight="bold" fill="#000" text-anchor="middle"><tspan>Intensity (a.u.)</tspan></text>
<text x="1250" y="1209" font-size="40" font-weight="bold" fill="#000" text-anchor="start"><tspan>Ag/In</tspan><tspan font-size="27.2" dy="12">2</tspan><tspan dy="-12">O</tspan><tspan font-size="27.2" dy="12">3</tspan><tspan dy="-12">-2</tspan></text>
<text x="1254" y="1527.9" font-size="40" font-weight="bold" fill="#000" text-anchor="start"><tspan>In</tspan><tspan font-size="27.2" dy="12">2</tspan><tspan dy="-12">O</tspan><tspan font-size="27.2" dy="12">3</tspan></text>
<line x1="1238.5" y1="921" x2="1799" y2="921" stroke="#3c3c3c" stroke-width="4"/>
<rect x="1238.5" y="995" width="560" height="69.5" fill="#bdd7ee"/>
<line x1="1238.5" y1="993.8" x2="1799" y2="993.8" stroke="#6f7f8f" stroke-width="4"/>
<line x1="1237.5" y1="1138.5" x2="1799" y2="1138.5" stroke="#3c3c3c" stroke-width="4"/>
<text x="1484.7" y="970.2" font-size="33" font-weight="bold" fill="#111" text-anchor="middle"><tspan>O</tspan><tspan font-size="21.5" dy="1.7" fill="#555">latt</tspan></text>
<text x="1616.8" y="970.2" font-size="33" font-weight="bold" fill="#111" text-anchor="middle"><tspan>O</tspan><tspan font-size="21.5" dy="1.7" fill="#555">ads</tspan></text>
<text x="1740.6" y="970.2" font-size="33" font-weight="bold" fill="#111" text-anchor="middle"><tspan>O</tspan><tspan font-size="21.5" dy="1.7" fill="#555">OH</tspan></text>
<text x="1484.7" y="1042" font-size="31.5" font-weight="bold" fill="#1e1e1e" text-anchor="middle"><tspan>50.76%</tspan></text>
<text x="1616.8" y="1042" font-size="31.5" font-weight="bold" fill="#1e1e1e" text-anchor="middle"><tspan>48.48%</tspan></text>
<text x="1740.6" y="1042" font-size="31.5" font-weight="bold" fill="#1e1e1e" text-anchor="middle"><tspan>0.76%</tspan></text>
<text x="1484.7" y="1114.5" font-size="31.5" font-weight="bold" fill="#1e1e1e" text-anchor="middle"><tspan>61.54%</tspan></text>
<text x="1616.8" y="1114.5" font-size="31.5" font-weight="bold" fill="#1e1e1e" text-anchor="middle"><tspan>34.79%</tspan></text>
<text x="1740.6" y="1114.5" font-size="31.5" font-weight="bold" fill="#1e1e1e" text-anchor="middle"><tspan>3.67%</tspan></text>
<text x="1250.5" y="1042" font-size="31.5" font-weight="bold" fill="#1e1e1e" text-anchor="start"><tspan>Ag/In</tspan><tspan font-size="18" dy="3.2" dx="1.5">2</tspan><tspan font-size="31.5" dy="-3.2" dx="1">O</tspan><tspan font-size="18" dy="3.2" dx="1.5">3</tspan><tspan font-size="31.5" dy="-3.2" dx="1.5">-2</tspan></text>
<text x="1290" y="1113.5" font-size="31.5" font-weight="bold" fill="#1e1e1e" text-anchor="start"><tspan>In</tspan><tspan font-size="18" dy="2.8" dx="1.5">2</tspan><tspan font-size="31.5" dy="-2.8" dx="1">O</tspan><tspan font-size="18" dy="2.8" dx="1.5">3</tspan></text>
<rect x="2053" y="948.5" width="86.5" height="42" fill="url(#gBL)" stroke="#bbbbbb" stroke-width="2.4"/>
<rect x="2053" y="1006.5" width="86.5" height="42" fill="url(#gML)" stroke="#bbbbbb" stroke-width="2.4"/>
<rect x="2053" y="1065.3" width="86.5" height="42" fill="#008000" stroke="#0b6b1e" stroke-width="1.6"/>
<text x="2149.5" y="982.4" font-size="38.5" font-weight="normal" fill="#000" text-anchor="start" stroke="#000" stroke-width="0.9"><tspan>O</tspan><tspan font-size="26" dy="10.8" fill="#222" font-weight="bold">latt</tspan></text>
<text x="2149.5" y="1041.1" font-size="38.5" font-weight="normal" fill="#000" text-anchor="start" stroke="#000" stroke-width="0.9"><tspan>O</tspan><tspan font-size="26" dy="10.8" fill="#222" font-weight="bold">ads</tspan></text>
<text x="2149.5" y="1098.8" font-size="38.5" font-weight="normal" fill="#000" text-anchor="start" stroke="#000" stroke-width="0.9"><tspan>O</tspan><tspan font-size="26" dy="10.8" fill="#222">OH</tspan></text>
</svg>
</body></html>
